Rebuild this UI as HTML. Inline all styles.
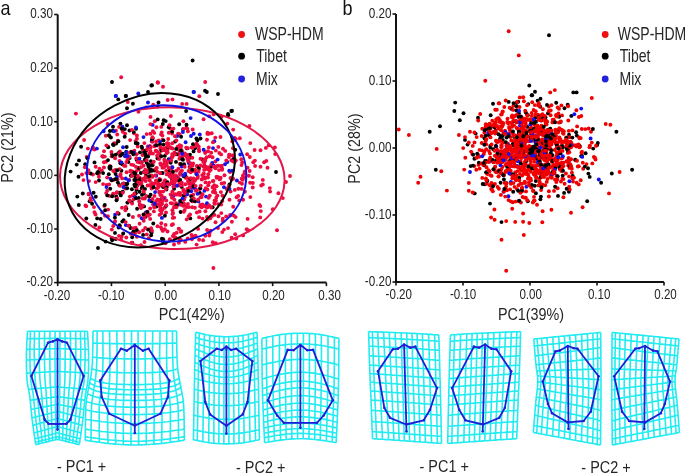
<!DOCTYPE html>
<html><head><meta charset="utf-8"><style>
html,body{margin:0;padding:0;background:#fff;width:685px;height:475px;overflow:hidden}
svg{display:block;will-change:transform}
</style></head><body>
<svg width="685" height="475" viewBox="0 0 685 475" font-family='"Liberation Sans", sans-serif'><rect width="685" height="475" fill="#fff"/><circle cx="178.4" cy="180.3" r="1.95" fill="#000"/><circle cx="142.0" cy="194.7" r="1.95" fill="#000"/><circle cx="216.3" cy="166.3" r="1.95" fill="#ee0c3e"/><circle cx="186.3" cy="127.8" r="1.95" fill="#ee0c3e"/><circle cx="250.1" cy="182.7" r="1.95" fill="#ee0c3e"/><circle cx="203.6" cy="176.9" r="1.95" fill="#ee0c3e"/><circle cx="231.4" cy="160.3" r="1.95" fill="#ee0c3e"/><circle cx="268.7" cy="145.4" r="1.95" fill="#ee0c3e"/><circle cx="109.6" cy="136.2" r="1.95" fill="#ee0c3e"/><circle cx="161.7" cy="229.0" r="1.95" fill="#ee0c3e"/><circle cx="108.1" cy="209.6" r="1.95" fill="#ee0c3e"/><circle cx="122.8" cy="131.8" r="1.95" fill="#ee0c3e"/><circle cx="178.5" cy="168.8" r="1.95" fill="#ee0c3e"/><circle cx="154.8" cy="121.2" r="1.95" fill="#ee0c3e"/><circle cx="154.5" cy="170.5" r="1.95" fill="#000"/><circle cx="202.2" cy="175.1" r="1.95" fill="#ee0c3e"/><circle cx="112.8" cy="130.8" r="1.95" fill="#000"/><circle cx="120.0" cy="226.3" r="1.95" fill="#ee0c3e"/><circle cx="222.8" cy="221.1" r="1.95" fill="#ee0c3e"/><circle cx="186.8" cy="207.0" r="1.95" fill="#ee0c3e"/><circle cx="152.3" cy="176.9" r="1.95" fill="#ee0c3e"/><circle cx="142.6" cy="206.7" r="1.95" fill="#ee0c3e"/><circle cx="141.6" cy="146.8" r="1.95" fill="#000"/><circle cx="117.8" cy="140.7" r="1.95" fill="#ee0c3e"/><circle cx="151.6" cy="188.6" r="1.95" fill="#ee0c3e"/><circle cx="222.1" cy="169.7" r="1.95" fill="#ee0c3e"/><circle cx="172.4" cy="173.8" r="1.95" fill="#ee0c3e"/><circle cx="148.0" cy="102.5" r="1.95" fill="#1414e6"/><circle cx="160.3" cy="195.0" r="1.95" fill="#ee0c3e"/><circle cx="127.0" cy="125.3" r="1.95" fill="#000"/><circle cx="220.9" cy="192.1" r="1.95" fill="#ee0c3e"/><circle cx="202.5" cy="159.5" r="1.95" fill="#000"/><circle cx="229.5" cy="184.5" r="1.95" fill="#000"/><circle cx="214.3" cy="141.2" r="1.95" fill="#1414e6"/><circle cx="233.2" cy="129.6" r="1.95" fill="#ee0c3e"/><circle cx="117.5" cy="179.5" r="1.95" fill="#ee0c3e"/><circle cx="172.1" cy="133.5" r="1.95" fill="#ee0c3e"/><circle cx="195.2" cy="188.9" r="1.95" fill="#1414e6"/><circle cx="200.3" cy="206.2" r="1.95" fill="#ee0c3e"/><circle cx="186.8" cy="177.8" r="1.95" fill="#ee0c3e"/><circle cx="126.2" cy="151.8" r="1.95" fill="#000"/><circle cx="233.1" cy="155.7" r="1.95" fill="#ee0c3e"/><circle cx="160.8" cy="227.1" r="1.95" fill="#ee0c3e"/><circle cx="146.2" cy="196.0" r="1.95" fill="#ee0c3e"/><circle cx="161.6" cy="210.3" r="1.95" fill="#ee0c3e"/><circle cx="97.2" cy="218.4" r="1.95" fill="#000"/><circle cx="148.5" cy="165.8" r="1.95" fill="#ee0c3e"/><circle cx="216.6" cy="176.6" r="1.95" fill="#ee0c3e"/><circle cx="132.2" cy="237.3" r="1.95" fill="#000"/><circle cx="166.7" cy="183.2" r="1.95" fill="#000"/><circle cx="82.8" cy="193.5" r="1.95" fill="#000"/><circle cx="184.1" cy="164.2" r="1.95" fill="#000"/><circle cx="107.1" cy="177.6" r="1.95" fill="#ee0c3e"/><circle cx="155.4" cy="204.9" r="1.95" fill="#000"/><circle cx="119.2" cy="184.9" r="1.95" fill="#000"/><circle cx="154.0" cy="183.7" r="1.95" fill="#ee0c3e"/><circle cx="135.1" cy="233.3" r="1.95" fill="#ee0c3e"/><circle cx="105.6" cy="241.6" r="1.95" fill="#000"/><circle cx="140.8" cy="173.0" r="1.95" fill="#000"/><circle cx="247.1" cy="154.3" r="1.95" fill="#ee0c3e"/><circle cx="205.2" cy="160.8" r="1.95" fill="#ee0c3e"/><circle cx="130.4" cy="171.4" r="1.95" fill="#ee0c3e"/><circle cx="210.6" cy="230.8" r="1.95" fill="#ee0c3e"/><circle cx="135.7" cy="227.8" r="1.95" fill="#ee0c3e"/><circle cx="129.5" cy="130.5" r="1.95" fill="#000"/><circle cx="137.0" cy="176.1" r="1.95" fill="#000"/><circle cx="152.0" cy="164.6" r="1.95" fill="#000"/><circle cx="185.5" cy="175.9" r="1.95" fill="#000"/><circle cx="193.3" cy="183.8" r="1.95" fill="#ee0c3e"/><circle cx="168.8" cy="132.8" r="1.95" fill="#ee0c3e"/><circle cx="184.1" cy="191.5" r="1.95" fill="#ee0c3e"/><circle cx="213.4" cy="268.0" r="1.95" fill="#ee0c3e"/><circle cx="116.0" cy="130.6" r="1.95" fill="#ee0c3e"/><circle cx="131.8" cy="202.1" r="1.95" fill="#000"/><circle cx="106.7" cy="184.9" r="1.95" fill="#ee0c3e"/><circle cx="234.6" cy="162.0" r="1.95" fill="#ee0c3e"/><circle cx="139.2" cy="162.4" r="1.95" fill="#ee0c3e"/><circle cx="207.6" cy="132.7" r="1.95" fill="#ee0c3e"/><circle cx="150.9" cy="161.2" r="1.95" fill="#000"/><circle cx="175.2" cy="141.5" r="1.95" fill="#000"/><circle cx="127.8" cy="102.0" r="1.95" fill="#ee0c3e"/><circle cx="157.2" cy="145.5" r="1.95" fill="#ee0c3e"/><circle cx="188.7" cy="161.8" r="1.95" fill="#1414e6"/><circle cx="159.7" cy="200.2" r="1.95" fill="#000"/><circle cx="216.5" cy="186.2" r="1.95" fill="#ee0c3e"/><circle cx="165.7" cy="183.6" r="1.95" fill="#ee0c3e"/><circle cx="170.2" cy="128.5" r="1.95" fill="#ee0c3e"/><circle cx="115.3" cy="170.0" r="1.95" fill="#ee0c3e"/><circle cx="110.2" cy="188.8" r="1.95" fill="#000"/><circle cx="183.4" cy="121.2" r="1.95" fill="#ee0c3e"/><circle cx="151.6" cy="201.3" r="1.95" fill="#000"/><circle cx="156.5" cy="206.6" r="1.95" fill="#000"/><circle cx="183.0" cy="129.4" r="1.95" fill="#1414e6"/><circle cx="264.1" cy="162.2" r="1.95" fill="#ee0c3e"/><circle cx="247.6" cy="167.7" r="1.95" fill="#ee0c3e"/><circle cx="196.0" cy="172.6" r="1.95" fill="#ee0c3e"/><circle cx="244.5" cy="173.2" r="1.95" fill="#ee0c3e"/><circle cx="125.2" cy="183.9" r="1.95" fill="#000"/><circle cx="136.1" cy="128.7" r="1.95" fill="#000"/><circle cx="137.3" cy="178.4" r="1.95" fill="#ee0c3e"/><circle cx="172.1" cy="131.6" r="1.95" fill="#000"/><circle cx="173.0" cy="183.4" r="1.95" fill="#1414e6"/><circle cx="207.0" cy="139.7" r="1.95" fill="#ee0c3e"/><circle cx="158.0" cy="82.8" r="1.95" fill="#ee0c3e"/><circle cx="172.0" cy="196.8" r="1.95" fill="#ee0c3e"/><circle cx="118.6" cy="227.6" r="1.95" fill="#000"/><circle cx="208.0" cy="177.5" r="1.95" fill="#ee0c3e"/><circle cx="122.3" cy="221.6" r="1.95" fill="#000"/><circle cx="212.7" cy="187.6" r="1.95" fill="#ee0c3e"/><circle cx="94.5" cy="149.6" r="1.95" fill="#ee0c3e"/><circle cx="125.8" cy="225.1" r="1.95" fill="#1414e6"/><circle cx="133.5" cy="231.4" r="1.95" fill="#000"/><circle cx="129.1" cy="225.6" r="1.95" fill="#000"/><circle cx="131.5" cy="175.0" r="1.95" fill="#ee0c3e"/><circle cx="178.5" cy="178.1" r="1.95" fill="#ee0c3e"/><circle cx="220.6" cy="166.1" r="1.95" fill="#ee0c3e"/><circle cx="164.7" cy="207.8" r="1.95" fill="#ee0c3e"/><circle cx="143.0" cy="150.3" r="1.95" fill="#ee0c3e"/><circle cx="103.9" cy="162.3" r="1.95" fill="#ee0c3e"/><circle cx="212.2" cy="164.9" r="1.95" fill="#ee0c3e"/><circle cx="135.5" cy="141.1" r="1.95" fill="#ee0c3e"/><circle cx="107.9" cy="216.3" r="1.95" fill="#ee0c3e"/><circle cx="193.5" cy="92.0" r="1.95" fill="#1414e6"/><circle cx="160.5" cy="179.8" r="1.95" fill="#ee0c3e"/><circle cx="99.0" cy="173.0" r="1.95" fill="#000"/><circle cx="110.4" cy="168.9" r="1.95" fill="#000"/><circle cx="115.7" cy="96.0" r="1.95" fill="#1414e6"/><circle cx="159.5" cy="153.6" r="1.95" fill="#ee0c3e"/><circle cx="164.6" cy="197.6" r="1.95" fill="#ee0c3e"/><circle cx="105.8" cy="135.8" r="1.95" fill="#ee0c3e"/><circle cx="224.2" cy="182.9" r="1.95" fill="#ee0c3e"/><circle cx="145.0" cy="160.3" r="1.95" fill="#ee0c3e"/><circle cx="141.6" cy="162.3" r="1.95" fill="#000"/><circle cx="215.9" cy="200.8" r="1.95" fill="#ee0c3e"/><circle cx="137.7" cy="146.5" r="1.95" fill="#ee0c3e"/><circle cx="125.8" cy="184.6" r="1.95" fill="#ee0c3e"/><circle cx="197.9" cy="175.9" r="1.95" fill="#ee0c3e"/><circle cx="136.6" cy="181.5" r="1.95" fill="#ee0c3e"/><circle cx="156.8" cy="167.9" r="1.95" fill="#ee0c3e"/><circle cx="132.9" cy="103.8" r="1.95" fill="#000"/><circle cx="218.3" cy="204.1" r="1.95" fill="#ee0c3e"/><circle cx="229.5" cy="199.8" r="1.95" fill="#ee0c3e"/><circle cx="180.3" cy="173.2" r="1.95" fill="#000"/><circle cx="228.9" cy="157.0" r="1.95" fill="#ee0c3e"/><circle cx="161.5" cy="149.7" r="1.95" fill="#000"/><circle cx="126.3" cy="208.5" r="1.95" fill="#000"/><circle cx="122.4" cy="126.8" r="1.95" fill="#1414e6"/><circle cx="153.6" cy="204.7" r="1.95" fill="#000"/><circle cx="154.7" cy="203.9" r="1.95" fill="#ee0c3e"/><circle cx="236.6" cy="197.3" r="1.95" fill="#ee0c3e"/><circle cx="205.2" cy="153.0" r="1.95" fill="#ee0c3e"/><circle cx="143.7" cy="220.8" r="1.95" fill="#ee0c3e"/><circle cx="164.8" cy="229.3" r="1.95" fill="#ee0c3e"/><circle cx="98.5" cy="173.7" r="1.95" fill="#ee0c3e"/><circle cx="178.1" cy="154.6" r="1.95" fill="#ee0c3e"/><circle cx="171.7" cy="225.0" r="1.95" fill="#ee0c3e"/><circle cx="149.9" cy="180.7" r="1.95" fill="#ee0c3e"/><circle cx="193.7" cy="178.4" r="1.95" fill="#ee0c3e"/><circle cx="136.6" cy="159.7" r="1.95" fill="#000"/><circle cx="195.0" cy="148.3" r="1.95" fill="#000"/><circle cx="182.0" cy="150.9" r="1.95" fill="#ee0c3e"/><circle cx="167.6" cy="149.8" r="1.95" fill="#ee0c3e"/><circle cx="145.3" cy="169.7" r="1.95" fill="#ee0c3e"/><circle cx="141.3" cy="162.1" r="1.95" fill="#ee0c3e"/><circle cx="150.0" cy="146.0" r="1.95" fill="#ee0c3e"/><circle cx="141.8" cy="188.4" r="1.95" fill="#000"/><circle cx="130.5" cy="228.0" r="1.95" fill="#000"/><circle cx="158.1" cy="185.2" r="1.95" fill="#ee0c3e"/><circle cx="92.8" cy="148.8" r="1.95" fill="#ee0c3e"/><circle cx="160.5" cy="205.4" r="1.95" fill="#ee0c3e"/><circle cx="172.1" cy="179.3" r="1.95" fill="#ee0c3e"/><circle cx="152.0" cy="85.2" r="1.95" fill="#000"/><circle cx="110.9" cy="137.5" r="1.95" fill="#000"/><circle cx="159.3" cy="192.4" r="1.95" fill="#ee0c3e"/><circle cx="161.9" cy="217.9" r="1.95" fill="#1414e6"/><circle cx="99.4" cy="168.8" r="1.95" fill="#ee0c3e"/><circle cx="153.3" cy="104.6" r="1.95" fill="#ee0c3e"/><circle cx="181.3" cy="203.8" r="1.95" fill="#000"/><circle cx="182.4" cy="153.1" r="1.95" fill="#000"/><circle cx="209.8" cy="195.6" r="1.95" fill="#ee0c3e"/><circle cx="219.8" cy="179.4" r="1.95" fill="#ee0c3e"/><circle cx="198.4" cy="201.4" r="1.95" fill="#1414e6"/><circle cx="189.9" cy="157.8" r="1.95" fill="#000"/><circle cx="163.5" cy="144.6" r="1.95" fill="#000"/><circle cx="187.3" cy="128.7" r="1.95" fill="#ee0c3e"/><circle cx="157.0" cy="181.8" r="1.95" fill="#000"/><circle cx="214.3" cy="202.9" r="1.95" fill="#ee0c3e"/><circle cx="171.2" cy="177.5" r="1.95" fill="#000"/><circle cx="166.2" cy="205.7" r="1.95" fill="#000"/><circle cx="143.3" cy="188.9" r="1.95" fill="#ee0c3e"/><circle cx="123.6" cy="220.1" r="1.95" fill="#000"/><circle cx="191.0" cy="195.8" r="1.95" fill="#ee0c3e"/><circle cx="198.9" cy="149.5" r="1.95" fill="#ee0c3e"/><circle cx="167.4" cy="143.8" r="1.95" fill="#000"/><circle cx="192.6" cy="60.5" r="1.95" fill="#000"/><circle cx="179.3" cy="238.9" r="1.95" fill="#ee0c3e"/><circle cx="169.9" cy="171.4" r="1.95" fill="#ee0c3e"/><circle cx="183.2" cy="129.0" r="1.95" fill="#ee0c3e"/><circle cx="176.4" cy="170.7" r="1.95" fill="#ee0c3e"/><circle cx="156.3" cy="182.7" r="1.95" fill="#ee0c3e"/><circle cx="171.0" cy="174.4" r="1.95" fill="#000"/><circle cx="164.2" cy="167.2" r="1.95" fill="#ee0c3e"/><circle cx="151.1" cy="228.3" r="1.95" fill="#ee0c3e"/><circle cx="246.7" cy="229.2" r="1.95" fill="#ee0c3e"/><circle cx="174.1" cy="234.0" r="1.95" fill="#ee0c3e"/><circle cx="113.6" cy="179.9" r="1.95" fill="#ee0c3e"/><circle cx="183.9" cy="203.4" r="1.95" fill="#ee0c3e"/><circle cx="96.9" cy="148.6" r="1.95" fill="#1414e6"/><circle cx="230.5" cy="178.0" r="1.95" fill="#ee0c3e"/><circle cx="132.4" cy="195.6" r="1.95" fill="#ee0c3e"/><circle cx="192.2" cy="201.4" r="1.95" fill="#ee0c3e"/><circle cx="232.3" cy="141.4" r="1.95" fill="#ee0c3e"/><circle cx="146.6" cy="150.8" r="1.95" fill="#ee0c3e"/><circle cx="148.0" cy="215.7" r="1.95" fill="#ee0c3e"/><circle cx="206.0" cy="196.6" r="1.95" fill="#1414e6"/><circle cx="162.4" cy="135.6" r="1.95" fill="#ee0c3e"/><circle cx="125.6" cy="155.8" r="1.95" fill="#000"/><circle cx="192.4" cy="185.5" r="1.95" fill="#ee0c3e"/><circle cx="162.1" cy="210.1" r="1.95" fill="#ee0c3e"/><circle cx="197.7" cy="166.4" r="1.95" fill="#000"/><circle cx="252.7" cy="177.3" r="1.95" fill="#ee0c3e"/><circle cx="171.6" cy="156.9" r="1.95" fill="#ee0c3e"/><circle cx="150.8" cy="185.9" r="1.95" fill="#ee0c3e"/><circle cx="266.3" cy="160.9" r="1.95" fill="#ee0c3e"/><circle cx="145.5" cy="150.8" r="1.95" fill="#000"/><circle cx="184.9" cy="196.9" r="1.95" fill="#ee0c3e"/><circle cx="95.8" cy="196.7" r="1.95" fill="#000"/><circle cx="219.0" cy="170.1" r="1.95" fill="#ee0c3e"/><circle cx="144.1" cy="206.4" r="1.95" fill="#000"/><circle cx="155.2" cy="145.2" r="1.95" fill="#ee0c3e"/><circle cx="209.6" cy="232.9" r="1.95" fill="#ee0c3e"/><circle cx="148.9" cy="172.1" r="1.95" fill="#000"/><circle cx="162.8" cy="230.9" r="1.95" fill="#ee0c3e"/><circle cx="144.1" cy="152.8" r="1.95" fill="#000"/><circle cx="218.2" cy="165.7" r="1.95" fill="#ee0c3e"/><circle cx="170.7" cy="162.8" r="1.95" fill="#000"/><circle cx="94.0" cy="207.1" r="1.95" fill="#ee0c3e"/><circle cx="140.0" cy="152.4" r="1.95" fill="#000"/><circle cx="128.7" cy="215.0" r="1.95" fill="#000"/><circle cx="173.4" cy="128.6" r="1.95" fill="#ee0c3e"/><circle cx="211.9" cy="216.0" r="1.95" fill="#ee0c3e"/><circle cx="137.1" cy="208.8" r="1.95" fill="#000"/><circle cx="165.5" cy="243.2" r="1.95" fill="#ee0c3e"/><circle cx="174.1" cy="188.8" r="1.95" fill="#000"/><circle cx="160.6" cy="173.1" r="1.95" fill="#000"/><circle cx="113.7" cy="145.1" r="1.95" fill="#000"/><circle cx="70.6" cy="171.6" r="1.95" fill="#000"/><circle cx="118.7" cy="213.7" r="1.95" fill="#000"/><circle cx="185.6" cy="177.8" r="1.95" fill="#ee0c3e"/><circle cx="158.3" cy="204.4" r="1.95" fill="#ee0c3e"/><circle cx="138.6" cy="169.5" r="1.95" fill="#ee0c3e"/><circle cx="156.0" cy="180.5" r="1.95" fill="#ee0c3e"/><circle cx="129.3" cy="179.9" r="1.95" fill="#ee0c3e"/><circle cx="106.5" cy="187.1" r="1.95" fill="#1414e6"/><circle cx="193.6" cy="151.4" r="1.95" fill="#000"/><circle cx="134.2" cy="173.7" r="1.95" fill="#ee0c3e"/><circle cx="210.7" cy="166.8" r="1.95" fill="#ee0c3e"/><circle cx="166.2" cy="170.8" r="1.95" fill="#ee0c3e"/><circle cx="188.5" cy="155.4" r="1.95" fill="#000"/><circle cx="121.0" cy="239.4" r="1.95" fill="#ee0c3e"/><circle cx="213.4" cy="180.9" r="1.95" fill="#ee0c3e"/><circle cx="182.3" cy="203.4" r="1.95" fill="#1414e6"/><circle cx="193.3" cy="194.7" r="1.95" fill="#ee0c3e"/><circle cx="270.1" cy="191.6" r="1.95" fill="#ee0c3e"/><circle cx="187.1" cy="148.4" r="1.95" fill="#000"/><circle cx="98.9" cy="176.7" r="1.95" fill="#ee0c3e"/><circle cx="277.0" cy="230.3" r="1.95" fill="#ee0c3e"/><circle cx="261.2" cy="185.5" r="1.95" fill="#ee0c3e"/><circle cx="228.0" cy="114.0" r="1.95" fill="#000"/><circle cx="228.2" cy="115.2" r="1.95" fill="#000"/><circle cx="119.9" cy="151.4" r="1.95" fill="#ee0c3e"/><circle cx="231.9" cy="221.8" r="1.95" fill="#ee0c3e"/><circle cx="144.8" cy="198.5" r="1.95" fill="#ee0c3e"/><circle cx="230.2" cy="215.0" r="1.95" fill="#ee0c3e"/><circle cx="136.3" cy="158.2" r="1.95" fill="#ee0c3e"/><circle cx="160.8" cy="164.8" r="1.95" fill="#ee0c3e"/><circle cx="178.9" cy="242.7" r="1.95" fill="#ee0c3e"/><circle cx="130.5" cy="170.7" r="1.95" fill="#ee0c3e"/><circle cx="198.1" cy="228.9" r="1.95" fill="#ee0c3e"/><circle cx="181.7" cy="186.9" r="1.95" fill="#000"/><circle cx="241.5" cy="165.1" r="1.95" fill="#ee0c3e"/><circle cx="205.2" cy="151.9" r="1.95" fill="#ee0c3e"/><circle cx="151.6" cy="232.4" r="1.95" fill="#000"/><circle cx="89.6" cy="201.3" r="1.95" fill="#000"/><circle cx="222.8" cy="218.7" r="1.95" fill="#ee0c3e"/><circle cx="203.8" cy="173.5" r="1.95" fill="#ee0c3e"/><circle cx="178.8" cy="228.6" r="1.95" fill="#ee0c3e"/><circle cx="183.7" cy="176.2" r="1.95" fill="#000"/><circle cx="174.4" cy="154.5" r="1.95" fill="#ee0c3e"/><circle cx="121.6" cy="236.4" r="1.95" fill="#ee0c3e"/><circle cx="233.1" cy="178.7" r="1.95" fill="#ee0c3e"/><circle cx="160.4" cy="148.6" r="1.95" fill="#ee0c3e"/><circle cx="158.7" cy="140.4" r="1.95" fill="#ee0c3e"/><circle cx="164.6" cy="160.1" r="1.95" fill="#ee0c3e"/><circle cx="168.7" cy="127.3" r="1.95" fill="#000"/><circle cx="235.2" cy="234.2" r="1.95" fill="#ee0c3e"/><circle cx="215.4" cy="161.5" r="1.95" fill="#ee0c3e"/><circle cx="134.4" cy="150.7" r="1.95" fill="#ee0c3e"/><circle cx="249.7" cy="171.0" r="1.95" fill="#ee0c3e"/><circle cx="166.3" cy="205.2" r="1.95" fill="#ee0c3e"/><circle cx="114.6" cy="222.3" r="1.95" fill="#ee0c3e"/><circle cx="160.7" cy="156.6" r="1.95" fill="#ee0c3e"/><circle cx="143.6" cy="165.7" r="1.95" fill="#ee0c3e"/><circle cx="187.9" cy="203.9" r="1.95" fill="#ee0c3e"/><circle cx="174.4" cy="199.7" r="1.95" fill="#ee0c3e"/><circle cx="109.4" cy="195.9" r="1.95" fill="#ee0c3e"/><circle cx="94.5" cy="162.4" r="1.95" fill="#000"/><circle cx="209.6" cy="171.1" r="1.95" fill="#ee0c3e"/><circle cx="252.8" cy="183.0" r="1.95" fill="#ee0c3e"/><circle cx="172.5" cy="214.1" r="1.95" fill="#ee0c3e"/><circle cx="189.6" cy="166.9" r="1.95" fill="#000"/><circle cx="213.7" cy="114.4" r="1.95" fill="#ee0c3e"/><circle cx="168.7" cy="159.1" r="1.95" fill="#000"/><circle cx="101.8" cy="170.6" r="1.95" fill="#ee0c3e"/><circle cx="252.7" cy="187.5" r="1.95" fill="#ee0c3e"/><circle cx="85.5" cy="205.5" r="1.95" fill="#ee0c3e"/><circle cx="201.7" cy="197.0" r="1.95" fill="#ee0c3e"/><circle cx="149.6" cy="153.2" r="1.95" fill="#ee0c3e"/><circle cx="183.0" cy="202.9" r="1.95" fill="#ee0c3e"/><circle cx="93.0" cy="147.4" r="1.95" fill="#ee0c3e"/><circle cx="140.1" cy="205.2" r="1.95" fill="#000"/><circle cx="143.7" cy="193.6" r="1.95" fill="#000"/><circle cx="205.3" cy="235.8" r="1.95" fill="#ee0c3e"/><circle cx="158.5" cy="102.5" r="1.95" fill="#000"/><circle cx="176.6" cy="177.0" r="1.95" fill="#1414e6"/><circle cx="151.8" cy="141.3" r="1.95" fill="#1414e6"/><circle cx="161.7" cy="195.6" r="1.95" fill="#ee0c3e"/><circle cx="267.5" cy="167.7" r="1.95" fill="#ee0c3e"/><circle cx="208.0" cy="151.3" r="1.95" fill="#ee0c3e"/><circle cx="199.1" cy="239.7" r="1.95" fill="#ee0c3e"/><circle cx="180.0" cy="174.7" r="1.95" fill="#ee0c3e"/><circle cx="147.8" cy="146.5" r="1.95" fill="#ee0c3e"/><circle cx="212.6" cy="207.3" r="1.95" fill="#000"/><circle cx="230.1" cy="172.0" r="1.95" fill="#ee0c3e"/><circle cx="86.4" cy="173.1" r="1.95" fill="#ee0c3e"/><circle cx="89.0" cy="181.1" r="1.95" fill="#ee0c3e"/><circle cx="161.9" cy="238.7" r="1.95" fill="#000"/><circle cx="144.0" cy="171.9" r="1.95" fill="#000"/><circle cx="170.7" cy="194.5" r="1.95" fill="#ee0c3e"/><circle cx="170.8" cy="170.7" r="1.95" fill="#000"/><circle cx="200.5" cy="206.4" r="1.95" fill="#ee0c3e"/><circle cx="186.5" cy="124.8" r="1.95" fill="#000"/><circle cx="171.9" cy="167.2" r="1.95" fill="#ee0c3e"/><circle cx="216.3" cy="197.8" r="1.95" fill="#ee0c3e"/><circle cx="116.2" cy="196.4" r="1.95" fill="#000"/><circle cx="117.2" cy="134.5" r="1.95" fill="#ee0c3e"/><circle cx="222.5" cy="195.8" r="1.95" fill="#ee0c3e"/><circle cx="163.1" cy="198.8" r="1.95" fill="#1414e6"/><circle cx="199.1" cy="169.1" r="1.95" fill="#ee0c3e"/><circle cx="199.1" cy="151.2" r="1.95" fill="#ee0c3e"/><circle cx="145.7" cy="174.7" r="1.95" fill="#ee0c3e"/><circle cx="191.9" cy="239.2" r="1.95" fill="#ee0c3e"/><circle cx="160.8" cy="202.8" r="1.95" fill="#ee0c3e"/><circle cx="222.3" cy="232.1" r="1.95" fill="#ee0c3e"/><circle cx="109.9" cy="165.9" r="1.95" fill="#ee0c3e"/><circle cx="148.0" cy="229.5" r="1.95" fill="#000"/><circle cx="174.0" cy="244.5" r="1.95" fill="#ee0c3e"/><circle cx="176.6" cy="194.6" r="1.95" fill="#ee0c3e"/><circle cx="149.1" cy="146.6" r="1.95" fill="#1414e6"/><circle cx="190.0" cy="154.6" r="1.95" fill="#000"/><circle cx="145.2" cy="228.0" r="1.95" fill="#ee0c3e"/><circle cx="157.5" cy="199.4" r="1.95" fill="#ee0c3e"/><circle cx="113.3" cy="171.0" r="1.95" fill="#ee0c3e"/><circle cx="152.5" cy="165.2" r="1.95" fill="#000"/><circle cx="175.2" cy="205.6" r="1.95" fill="#ee0c3e"/><circle cx="200.5" cy="197.2" r="1.95" fill="#ee0c3e"/><circle cx="150.5" cy="150.9" r="1.95" fill="#ee0c3e"/><circle cx="160.9" cy="185.6" r="1.95" fill="#ee0c3e"/><circle cx="143.0" cy="230.5" r="1.95" fill="#ee0c3e"/><circle cx="135.9" cy="127.4" r="1.95" fill="#1414e6"/><circle cx="139.3" cy="177.4" r="1.95" fill="#ee0c3e"/><circle cx="175.9" cy="175.4" r="1.95" fill="#ee0c3e"/><circle cx="191.1" cy="187.2" r="1.95" fill="#ee0c3e"/><circle cx="195.0" cy="201.4" r="1.95" fill="#000"/><circle cx="214.8" cy="203.8" r="1.95" fill="#ee0c3e"/><circle cx="106.2" cy="193.1" r="1.95" fill="#ee0c3e"/><circle cx="242.8" cy="179.7" r="1.95" fill="#ee0c3e"/><circle cx="180.5" cy="172.1" r="1.95" fill="#ee0c3e"/><circle cx="206.1" cy="205.2" r="1.95" fill="#1414e6"/><circle cx="172.5" cy="173.9" r="1.95" fill="#ee0c3e"/><circle cx="167.0" cy="186.8" r="1.95" fill="#ee0c3e"/><circle cx="204.3" cy="159.6" r="1.95" fill="#ee0c3e"/><circle cx="166.3" cy="200.5" r="1.95" fill="#ee0c3e"/><circle cx="221.1" cy="154.4" r="1.95" fill="#ee0c3e"/><circle cx="136.9" cy="236.7" r="1.95" fill="#ee0c3e"/><circle cx="210.3" cy="218.3" r="1.95" fill="#ee0c3e"/><circle cx="126.3" cy="237.5" r="1.95" fill="#ee0c3e"/><circle cx="160.2" cy="207.1" r="1.95" fill="#ee0c3e"/><circle cx="150.9" cy="231.6" r="1.95" fill="#000"/><circle cx="128.5" cy="180.5" r="1.95" fill="#1414e6"/><circle cx="191.8" cy="188.1" r="1.95" fill="#ee0c3e"/><circle cx="88.3" cy="170.3" r="1.95" fill="#ee0c3e"/><circle cx="126.5" cy="152.2" r="1.95" fill="#1414e6"/><circle cx="215.5" cy="168.3" r="1.95" fill="#ee0c3e"/><circle cx="161.3" cy="150.6" r="1.95" fill="#000"/><circle cx="148.0" cy="92.0" r="1.95" fill="#000"/><circle cx="145.2" cy="216.9" r="1.95" fill="#000"/><circle cx="168.2" cy="139.0" r="1.95" fill="#ee0c3e"/><circle cx="151.6" cy="175.5" r="1.95" fill="#ee0c3e"/><circle cx="177.6" cy="146.7" r="1.95" fill="#ee0c3e"/><circle cx="114.9" cy="172.1" r="1.95" fill="#ee0c3e"/><circle cx="184.9" cy="153.5" r="1.95" fill="#ee0c3e"/><circle cx="131.0" cy="151.7" r="1.95" fill="#ee0c3e"/><circle cx="182.2" cy="158.5" r="1.95" fill="#ee0c3e"/><circle cx="138.3" cy="167.9" r="1.95" fill="#000"/><circle cx="191.2" cy="191.2" r="1.95" fill="#1414e6"/><circle cx="127.8" cy="202.6" r="1.95" fill="#ee0c3e"/><circle cx="130.9" cy="175.8" r="1.95" fill="#000"/><circle cx="190.3" cy="218.4" r="1.95" fill="#000"/><circle cx="131.9" cy="176.0" r="1.95" fill="#ee0c3e"/><circle cx="201.7" cy="207.3" r="1.95" fill="#ee0c3e"/><circle cx="198.6" cy="171.8" r="1.95" fill="#ee0c3e"/><circle cx="146.1" cy="173.0" r="1.95" fill="#000"/><circle cx="183.6" cy="195.4" r="1.95" fill="#000"/><circle cx="119.5" cy="225.2" r="1.95" fill="#000"/><circle cx="77.3" cy="196.6" r="1.95" fill="#000"/><circle cx="136.5" cy="189.8" r="1.95" fill="#000"/><circle cx="146.7" cy="134.1" r="1.95" fill="#ee0c3e"/><circle cx="136.9" cy="230.3" r="1.95" fill="#000"/><circle cx="146.4" cy="214.9" r="1.95" fill="#ee0c3e"/><circle cx="183.3" cy="155.6" r="1.95" fill="#ee0c3e"/><circle cx="235.8" cy="139.0" r="1.95" fill="#ee0c3e"/><circle cx="215.5" cy="222.2" r="1.95" fill="#ee0c3e"/><circle cx="194.2" cy="146.4" r="1.95" fill="#ee0c3e"/><circle cx="151.1" cy="164.3" r="1.95" fill="#ee0c3e"/><circle cx="125.1" cy="133.6" r="1.95" fill="#ee0c3e"/><circle cx="194.9" cy="207.7" r="1.95" fill="#ee0c3e"/><circle cx="164.3" cy="181.4" r="1.95" fill="#ee0c3e"/><circle cx="249.8" cy="157.0" r="1.95" fill="#ee0c3e"/><circle cx="108.8" cy="174.3" r="1.95" fill="#000"/><circle cx="189.7" cy="178.7" r="1.95" fill="#ee0c3e"/><circle cx="161.8" cy="197.9" r="1.95" fill="#ee0c3e"/><circle cx="103.1" cy="184.1" r="1.95" fill="#ee0c3e"/><circle cx="133.7" cy="199.3" r="1.95" fill="#ee0c3e"/><circle cx="205.5" cy="182.4" r="1.95" fill="#ee0c3e"/><circle cx="169.3" cy="159.7" r="1.95" fill="#1414e6"/><circle cx="220.5" cy="137.0" r="1.95" fill="#ee0c3e"/><circle cx="190.2" cy="179.8" r="1.95" fill="#000"/><circle cx="187.7" cy="238.4" r="1.95" fill="#ee0c3e"/><circle cx="136.4" cy="171.1" r="1.95" fill="#ee0c3e"/><circle cx="253.3" cy="162.2" r="1.95" fill="#ee0c3e"/><circle cx="180.9" cy="240.0" r="1.95" fill="#ee0c3e"/><circle cx="211.2" cy="152.8" r="1.95" fill="#ee0c3e"/><circle cx="154.3" cy="146.3" r="1.95" fill="#ee0c3e"/><circle cx="168.9" cy="172.6" r="1.95" fill="#ee0c3e"/><circle cx="193.1" cy="163.4" r="1.95" fill="#ee0c3e"/><circle cx="152.9" cy="153.6" r="1.95" fill="#ee0c3e"/><circle cx="204.4" cy="190.7" r="1.95" fill="#1414e6"/><circle cx="167.6" cy="146.4" r="1.95" fill="#000"/><circle cx="161.2" cy="156.2" r="1.95" fill="#000"/><circle cx="166.0" cy="184.9" r="1.95" fill="#1414e6"/><circle cx="117.9" cy="182.6" r="1.95" fill="#000"/><circle cx="200.0" cy="192.9" r="1.95" fill="#000"/><circle cx="222.3" cy="201.1" r="1.95" fill="#ee0c3e"/><circle cx="186.2" cy="147.6" r="1.95" fill="#ee0c3e"/><circle cx="202.5" cy="218.6" r="1.95" fill="#ee0c3e"/><circle cx="179.6" cy="134.3" r="1.95" fill="#ee0c3e"/><circle cx="207.0" cy="207.6" r="1.95" fill="#ee0c3e"/><circle cx="172.2" cy="154.1" r="1.95" fill="#ee0c3e"/><circle cx="278.4" cy="193.2" r="1.95" fill="#ee0c3e"/><circle cx="233.5" cy="158.9" r="1.95" fill="#000"/><circle cx="178.8" cy="204.3" r="1.95" fill="#1414e6"/><circle cx="205.2" cy="82.0" r="1.95" fill="#ee0c3e"/><circle cx="179.2" cy="124.3" r="1.95" fill="#000"/><circle cx="242.9" cy="175.7" r="1.95" fill="#ee0c3e"/><circle cx="181.1" cy="136.8" r="1.95" fill="#000"/><circle cx="200.5" cy="158.7" r="1.95" fill="#ee0c3e"/><circle cx="172.4" cy="191.5" r="1.95" fill="#ee0c3e"/><circle cx="166.0" cy="212.4" r="1.95" fill="#ee0c3e"/><circle cx="165.5" cy="150.6" r="1.95" fill="#ee0c3e"/><circle cx="121.2" cy="77.2" r="1.95" fill="#ee0c3e"/><circle cx="152.6" cy="164.4" r="1.95" fill="#ee0c3e"/><circle cx="193.0" cy="144.2" r="1.95" fill="#000"/><circle cx="156.0" cy="168.4" r="1.95" fill="#ee0c3e"/><circle cx="139.1" cy="183.0" r="1.95" fill="#000"/><circle cx="146.3" cy="107.4" r="1.95" fill="#ee0c3e"/><circle cx="163.1" cy="187.1" r="1.95" fill="#000"/><circle cx="260.3" cy="206.1" r="1.95" fill="#ee0c3e"/><circle cx="206.8" cy="157.3" r="1.95" fill="#ee0c3e"/><circle cx="238.2" cy="195.9" r="1.95" fill="#ee0c3e"/><circle cx="156.0" cy="150.8" r="1.95" fill="#ee0c3e"/><circle cx="115.2" cy="179.1" r="1.95" fill="#000"/><circle cx="209.7" cy="156.2" r="1.95" fill="#ee0c3e"/><circle cx="239.8" cy="138.2" r="1.95" fill="#ee0c3e"/><circle cx="136.9" cy="135.5" r="1.95" fill="#ee0c3e"/><circle cx="167.6" cy="152.2" r="1.95" fill="#ee0c3e"/><circle cx="193.0" cy="236.4" r="1.95" fill="#ee0c3e"/><circle cx="156.8" cy="188.8" r="1.95" fill="#ee0c3e"/><circle cx="152.4" cy="141.7" r="1.95" fill="#ee0c3e"/><circle cx="192.3" cy="157.7" r="1.95" fill="#ee0c3e"/><circle cx="184.1" cy="199.5" r="1.95" fill="#ee0c3e"/><circle cx="145.0" cy="188.9" r="1.95" fill="#000"/><circle cx="138.5" cy="111.7" r="1.95" fill="#ee0c3e"/><circle cx="163.0" cy="86.8" r="1.95" fill="#ee0c3e"/><circle cx="203.6" cy="119.2" r="1.95" fill="#ee0c3e"/><circle cx="173.4" cy="196.0" r="1.95" fill="#1414e6"/><circle cx="172.1" cy="203.5" r="1.95" fill="#ee0c3e"/><circle cx="247.6" cy="218.9" r="1.95" fill="#ee0c3e"/><circle cx="199.7" cy="189.0" r="1.95" fill="#ee0c3e"/><circle cx="169.5" cy="184.2" r="1.95" fill="#ee0c3e"/><circle cx="111.8" cy="238.2" r="1.95" fill="#ee0c3e"/><circle cx="188.6" cy="171.0" r="1.95" fill="#ee0c3e"/><circle cx="254.6" cy="150.0" r="1.95" fill="#ee0c3e"/><circle cx="145.0" cy="159.5" r="1.95" fill="#000"/><circle cx="169.5" cy="125.2" r="1.95" fill="#ee0c3e"/><circle cx="123.1" cy="183.6" r="1.95" fill="#000"/><circle cx="174.0" cy="207.3" r="1.95" fill="#ee0c3e"/><circle cx="134.8" cy="196.2" r="1.95" fill="#1414e6"/><circle cx="233.0" cy="155.5" r="1.95" fill="#ee0c3e"/><circle cx="227.3" cy="123.6" r="1.95" fill="#ee0c3e"/><circle cx="108.1" cy="146.6" r="1.95" fill="#ee0c3e"/><circle cx="177.8" cy="148.6" r="1.95" fill="#ee0c3e"/><circle cx="157.5" cy="158.4" r="1.95" fill="#000"/><circle cx="248.9" cy="175.7" r="1.95" fill="#ee0c3e"/><circle cx="180.7" cy="148.5" r="1.95" fill="#ee0c3e"/><circle cx="186.4" cy="156.3" r="1.95" fill="#ee0c3e"/><circle cx="119.9" cy="192.6" r="1.95" fill="#000"/><circle cx="119.9" cy="156.1" r="1.95" fill="#ee0c3e"/><circle cx="166.7" cy="147.5" r="1.95" fill="#ee0c3e"/><circle cx="191.4" cy="196.6" r="1.95" fill="#000"/><circle cx="241.7" cy="178.6" r="1.95" fill="#ee0c3e"/><circle cx="200.6" cy="204.6" r="1.95" fill="#ee0c3e"/><circle cx="118.3" cy="153.3" r="1.95" fill="#000"/><circle cx="122.7" cy="153.8" r="1.95" fill="#000"/><circle cx="180.6" cy="212.0" r="1.95" fill="#000"/><circle cx="187.3" cy="158.8" r="1.95" fill="#ee0c3e"/><circle cx="90.9" cy="200.6" r="1.95" fill="#ee0c3e"/><circle cx="105.0" cy="215.8" r="1.95" fill="#ee0c3e"/><circle cx="78.8" cy="205.0" r="1.95" fill="#000"/><circle cx="188.7" cy="157.8" r="1.95" fill="#ee0c3e"/><circle cx="182.9" cy="155.5" r="1.95" fill="#ee0c3e"/><circle cx="167.6" cy="146.9" r="1.95" fill="#000"/><circle cx="230.6" cy="191.6" r="1.95" fill="#ee0c3e"/><circle cx="228.5" cy="187.5" r="1.95" fill="#ee0c3e"/><circle cx="122.5" cy="164.4" r="1.95" fill="#000"/><circle cx="215.3" cy="192.7" r="1.95" fill="#ee0c3e"/><circle cx="153.3" cy="223.5" r="1.95" fill="#000"/><circle cx="147.2" cy="211.8" r="1.95" fill="#ee0c3e"/><circle cx="207.4" cy="189.5" r="1.95" fill="#ee0c3e"/><circle cx="208.4" cy="168.8" r="1.95" fill="#000"/><circle cx="108.2" cy="147.3" r="1.95" fill="#000"/><circle cx="160.6" cy="191.9" r="1.95" fill="#ee0c3e"/><circle cx="190.0" cy="167.4" r="1.95" fill="#ee0c3e"/><circle cx="217.4" cy="195.6" r="1.95" fill="#ee0c3e"/><circle cx="272.8" cy="209.2" r="1.95" fill="#ee0c3e"/><circle cx="230.0" cy="154.9" r="1.95" fill="#ee0c3e"/><circle cx="162.9" cy="241.4" r="1.95" fill="#000"/><circle cx="136.9" cy="185.0" r="1.95" fill="#1414e6"/><circle cx="103.0" cy="156.4" r="1.95" fill="#000"/><circle cx="116.6" cy="192.8" r="1.95" fill="#ee0c3e"/><circle cx="90.7" cy="198.2" r="1.95" fill="#ee0c3e"/><circle cx="208.6" cy="167.4" r="1.95" fill="#ee0c3e"/><circle cx="200.3" cy="188.2" r="1.95" fill="#000"/><circle cx="164.3" cy="163.9" r="1.95" fill="#ee0c3e"/><circle cx="276.0" cy="172.0" r="1.95" fill="#000"/><circle cx="269.8" cy="188.1" r="1.95" fill="#ee0c3e"/><circle cx="163.1" cy="191.6" r="1.95" fill="#ee0c3e"/><circle cx="221.3" cy="213.1" r="1.95" fill="#ee0c3e"/><circle cx="161.3" cy="213.3" r="1.95" fill="#ee0c3e"/><circle cx="152.2" cy="183.2" r="1.95" fill="#ee0c3e"/><circle cx="159.4" cy="184.6" r="1.95" fill="#ee0c3e"/><circle cx="231.3" cy="111.0" r="1.95" fill="#000"/><circle cx="161.7" cy="204.2" r="1.95" fill="#ee0c3e"/><circle cx="174.1" cy="217.6" r="1.95" fill="#ee0c3e"/><circle cx="163.7" cy="185.5" r="1.95" fill="#ee0c3e"/><circle cx="192.5" cy="165.7" r="1.95" fill="#ee0c3e"/><circle cx="213.0" cy="148.1" r="1.95" fill="#1414e6"/><circle cx="160.4" cy="163.5" r="1.95" fill="#ee0c3e"/><circle cx="164.8" cy="155.9" r="1.95" fill="#000"/><circle cx="111.5" cy="180.2" r="1.95" fill="#ee0c3e"/><circle cx="111.8" cy="229.6" r="1.95" fill="#ee0c3e"/><circle cx="118.3" cy="99.4" r="1.95" fill="#000"/><circle cx="142.6" cy="155.1" r="1.95" fill="#ee0c3e"/><circle cx="152.9" cy="138.3" r="1.95" fill="#ee0c3e"/><circle cx="198.1" cy="199.8" r="1.95" fill="#ee0c3e"/><circle cx="174.9" cy="237.9" r="1.95" fill="#ee0c3e"/><circle cx="227.4" cy="162.1" r="1.95" fill="#1414e6"/><circle cx="139.1" cy="215.7" r="1.95" fill="#ee0c3e"/><circle cx="172.0" cy="197.8" r="1.95" fill="#ee0c3e"/><circle cx="142.8" cy="198.5" r="1.95" fill="#ee0c3e"/><circle cx="159.1" cy="159.0" r="1.95" fill="#ee0c3e"/><circle cx="152.0" cy="139.2" r="1.95" fill="#000"/><circle cx="186.9" cy="192.0" r="1.95" fill="#ee0c3e"/><circle cx="178.1" cy="133.7" r="1.95" fill="#ee0c3e"/><circle cx="171.0" cy="148.1" r="1.95" fill="#ee0c3e"/><circle cx="115.0" cy="232.9" r="1.95" fill="#000"/><circle cx="196.5" cy="174.3" r="1.95" fill="#1414e6"/><circle cx="180.9" cy="231.9" r="1.95" fill="#ee0c3e"/><circle cx="193.0" cy="187.2" r="1.95" fill="#1414e6"/><circle cx="275.2" cy="154.1" r="1.95" fill="#ee0c3e"/><circle cx="172.4" cy="210.3" r="1.95" fill="#ee0c3e"/><circle cx="162.5" cy="208.9" r="1.95" fill="#ee0c3e"/><circle cx="113.2" cy="193.6" r="1.95" fill="#ee0c3e"/><circle cx="167.0" cy="143.5" r="1.95" fill="#ee0c3e"/><circle cx="172.8" cy="217.9" r="1.95" fill="#ee0c3e"/><circle cx="126.0" cy="96.0" r="1.95" fill="#000"/><circle cx="162.5" cy="167.8" r="1.95" fill="#ee0c3e"/><circle cx="178.8" cy="194.5" r="1.95" fill="#ee0c3e"/><circle cx="176.0" cy="161.9" r="1.95" fill="#000"/><circle cx="124.7" cy="136.8" r="1.95" fill="#000"/><circle cx="149.8" cy="214.6" r="1.95" fill="#ee0c3e"/><circle cx="190.7" cy="165.4" r="1.95" fill="#ee0c3e"/><circle cx="255.1" cy="166.0" r="1.95" fill="#ee0c3e"/><circle cx="153.8" cy="161.8" r="1.95" fill="#ee0c3e"/><circle cx="190.8" cy="183.2" r="1.95" fill="#ee0c3e"/><circle cx="115.1" cy="214.8" r="1.95" fill="#1414e6"/><circle cx="207.0" cy="217.0" r="1.95" fill="#ee0c3e"/><circle cx="110.6" cy="166.8" r="1.95" fill="#000"/><circle cx="156.2" cy="145.3" r="1.95" fill="#000"/><circle cx="150.4" cy="133.8" r="1.95" fill="#ee0c3e"/><circle cx="169.8" cy="239.2" r="1.95" fill="#ee0c3e"/><circle cx="250.3" cy="197.1" r="1.95" fill="#ee0c3e"/><circle cx="152.4" cy="137.3" r="1.95" fill="#ee0c3e"/><circle cx="113.3" cy="194.1" r="1.95" fill="#ee0c3e"/><circle cx="103.1" cy="156.6" r="1.95" fill="#000"/><circle cx="185.3" cy="191.8" r="1.95" fill="#ee0c3e"/><circle cx="181.7" cy="166.5" r="1.95" fill="#1414e6"/><circle cx="179.4" cy="158.8" r="1.95" fill="#ee0c3e"/><circle cx="134.0" cy="133.3" r="1.95" fill="#ee0c3e"/><circle cx="233.0" cy="148.2" r="1.95" fill="#ee0c3e"/><circle cx="150.5" cy="116.9" r="1.95" fill="#ee0c3e"/><circle cx="162.6" cy="173.0" r="1.95" fill="#000"/><circle cx="205.5" cy="167.1" r="1.95" fill="#ee0c3e"/><circle cx="136.5" cy="188.1" r="1.95" fill="#ee0c3e"/><circle cx="206.8" cy="92.0" r="1.95" fill="#000"/><circle cx="117.5" cy="212.7" r="1.95" fill="#ee0c3e"/><circle cx="194.2" cy="170.2" r="1.95" fill="#ee0c3e"/><circle cx="150.6" cy="194.8" r="1.95" fill="#000"/><circle cx="211.9" cy="166.2" r="1.95" fill="#000"/><circle cx="223.0" cy="148.8" r="1.95" fill="#ee0c3e"/><circle cx="235.8" cy="160.5" r="1.95" fill="#ee0c3e"/><circle cx="147.1" cy="149.2" r="1.95" fill="#ee0c3e"/><circle cx="137.2" cy="185.3" r="1.95" fill="#ee0c3e"/><circle cx="212.9" cy="192.0" r="1.95" fill="#ee0c3e"/><circle cx="92.9" cy="174.5" r="1.95" fill="#ee0c3e"/><circle cx="122.0" cy="207.8" r="1.95" fill="#ee0c3e"/><circle cx="193.8" cy="186.3" r="1.95" fill="#000"/><circle cx="236.3" cy="238.5" r="1.95" fill="#ee0c3e"/><circle cx="233.2" cy="206.7" r="1.95" fill="#ee0c3e"/><circle cx="209.1" cy="182.6" r="1.95" fill="#ee0c3e"/><circle cx="179.8" cy="164.0" r="1.95" fill="#ee0c3e"/><circle cx="145.8" cy="212.5" r="1.95" fill="#1414e6"/><circle cx="207.1" cy="230.0" r="1.95" fill="#ee0c3e"/><circle cx="180.1" cy="193.0" r="1.95" fill="#ee0c3e"/><circle cx="109.9" cy="131.0" r="1.95" fill="#000"/><circle cx="204.3" cy="162.8" r="1.95" fill="#ee0c3e"/><circle cx="137.4" cy="185.5" r="1.95" fill="#ee0c3e"/><circle cx="128.4" cy="162.0" r="1.95" fill="#000"/><circle cx="106.4" cy="145.5" r="1.95" fill="#ee0c3e"/><circle cx="117.0" cy="176.8" r="1.95" fill="#1414e6"/><circle cx="125.4" cy="210.3" r="1.95" fill="#ee0c3e"/><circle cx="111.7" cy="238.0" r="1.95" fill="#000"/><circle cx="166.4" cy="189.5" r="1.95" fill="#000"/><circle cx="158.1" cy="187.4" r="1.95" fill="#ee0c3e"/><circle cx="84.1" cy="140.0" r="1.95" fill="#ee0c3e"/><circle cx="169.8" cy="170.3" r="1.95" fill="#000"/><circle cx="86.3" cy="218.5" r="1.95" fill="#000"/><circle cx="95.5" cy="214.5" r="1.95" fill="#ee0c3e"/><circle cx="146.2" cy="213.5" r="1.95" fill="#ee0c3e"/><circle cx="180.4" cy="185.5" r="1.95" fill="#ee0c3e"/><circle cx="87.9" cy="148.6" r="1.95" fill="#ee0c3e"/><circle cx="144.2" cy="172.3" r="1.95" fill="#ee0c3e"/><circle cx="244.8" cy="171.6" r="1.95" fill="#ee0c3e"/><circle cx="109.0" cy="135.3" r="1.95" fill="#000"/><circle cx="260.5" cy="166.8" r="1.95" fill="#ee0c3e"/><circle cx="109.1" cy="184.4" r="1.95" fill="#ee0c3e"/><circle cx="167.5" cy="231.5" r="1.95" fill="#ee0c3e"/><circle cx="88.8" cy="194.4" r="1.95" fill="#ee0c3e"/><circle cx="168.1" cy="145.2" r="1.95" fill="#ee0c3e"/><circle cx="181.6" cy="185.3" r="1.95" fill="#ee0c3e"/><circle cx="86.7" cy="156.9" r="1.95" fill="#ee0c3e"/><circle cx="182.5" cy="198.5" r="1.95" fill="#1414e6"/><circle cx="196.5" cy="143.6" r="1.95" fill="#ee0c3e"/><circle cx="141.2" cy="162.9" r="1.95" fill="#ee0c3e"/><circle cx="139.6" cy="223.7" r="1.95" fill="#ee0c3e"/><circle cx="81.1" cy="146.7" r="1.95" fill="#000"/><circle cx="136.6" cy="154.3" r="1.95" fill="#ee0c3e"/><circle cx="180.3" cy="195.1" r="1.95" fill="#ee0c3e"/><circle cx="174.4" cy="152.5" r="1.95" fill="#ee0c3e"/><circle cx="160.9" cy="210.3" r="1.95" fill="#ee0c3e"/><circle cx="100.7" cy="219.0" r="1.95" fill="#000"/><circle cx="139.4" cy="158.8" r="1.95" fill="#1414e6"/><circle cx="154.3" cy="207.2" r="1.95" fill="#ee0c3e"/><circle cx="162.8" cy="200.7" r="1.95" fill="#ee0c3e"/><circle cx="120.0" cy="185.7" r="1.95" fill="#ee0c3e"/><circle cx="172.5" cy="148.5" r="1.95" fill="#ee0c3e"/><circle cx="150.9" cy="153.5" r="1.95" fill="#ee0c3e"/><circle cx="127.4" cy="202.6" r="1.95" fill="#000"/><circle cx="241.6" cy="188.9" r="1.95" fill="#ee0c3e"/><circle cx="166.6" cy="165.4" r="1.95" fill="#ee0c3e"/><circle cx="206.3" cy="167.0" r="1.95" fill="#ee0c3e"/><circle cx="165.1" cy="180.3" r="1.95" fill="#ee0c3e"/><circle cx="208.7" cy="197.8" r="1.95" fill="#ee0c3e"/><circle cx="123.0" cy="147.3" r="1.95" fill="#1414e6"/><circle cx="188.7" cy="216.3" r="1.95" fill="#ee0c3e"/><circle cx="214.2" cy="185.3" r="1.95" fill="#ee0c3e"/><circle cx="181.3" cy="203.8" r="1.95" fill="#000"/><circle cx="149.2" cy="196.7" r="1.95" fill="#000"/><circle cx="119.0" cy="153.6" r="1.95" fill="#ee0c3e"/><circle cx="125.4" cy="188.5" r="1.95" fill="#ee0c3e"/><circle cx="133.2" cy="228.2" r="1.95" fill="#ee0c3e"/><circle cx="204.2" cy="169.9" r="1.95" fill="#ee0c3e"/><circle cx="228.0" cy="228.1" r="1.95" fill="#ee0c3e"/><circle cx="99.0" cy="180.5" r="1.95" fill="#000"/><circle cx="226.3" cy="160.4" r="1.95" fill="#ee0c3e"/><circle cx="161.3" cy="126.9" r="1.95" fill="#ee0c3e"/><circle cx="123.8" cy="183.4" r="1.95" fill="#1414e6"/><circle cx="111.9" cy="154.6" r="1.95" fill="#000"/><circle cx="274.9" cy="147.4" r="1.95" fill="#ee0c3e"/><circle cx="160.1" cy="203.4" r="1.95" fill="#ee0c3e"/><circle cx="151.1" cy="176.3" r="1.95" fill="#ee0c3e"/><circle cx="121.4" cy="170.8" r="1.95" fill="#000"/><circle cx="205.5" cy="177.5" r="1.95" fill="#ee0c3e"/><circle cx="141.3" cy="184.1" r="1.95" fill="#ee0c3e"/><circle cx="168.6" cy="144.0" r="1.95" fill="#ee0c3e"/><circle cx="141.0" cy="208.1" r="1.95" fill="#ee0c3e"/><circle cx="148.1" cy="156.5" r="1.95" fill="#000"/><circle cx="211.1" cy="207.5" r="1.95" fill="#ee0c3e"/><circle cx="212.7" cy="187.0" r="1.95" fill="#ee0c3e"/><circle cx="126.0" cy="184.4" r="1.95" fill="#000"/><circle cx="202.6" cy="206.1" r="1.95" fill="#ee0c3e"/><circle cx="181.9" cy="170.7" r="1.95" fill="#ee0c3e"/><circle cx="160.1" cy="173.2" r="1.95" fill="#ee0c3e"/><circle cx="215.3" cy="137.6" r="1.95" fill="#ee0c3e"/><circle cx="138.3" cy="93.4" r="1.95" fill="#1414e6"/><circle cx="139.3" cy="180.7" r="1.95" fill="#ee0c3e"/><circle cx="180.3" cy="179.9" r="1.95" fill="#000"/><circle cx="132.4" cy="171.5" r="1.95" fill="#ee0c3e"/><circle cx="180.9" cy="204.9" r="1.95" fill="#ee0c3e"/><circle cx="111.4" cy="151.9" r="1.95" fill="#ee0c3e"/><circle cx="226.2" cy="216.4" r="1.95" fill="#ee0c3e"/><circle cx="242.0" cy="183.7" r="1.95" fill="#ee0c3e"/><circle cx="131.3" cy="164.6" r="1.95" fill="#ee0c3e"/><circle cx="156.3" cy="175.7" r="1.95" fill="#1414e6"/><circle cx="176.0" cy="203.2" r="1.95" fill="#ee0c3e"/><circle cx="141.8" cy="218.2" r="1.95" fill="#1414e6"/><circle cx="173.0" cy="175.9" r="1.95" fill="#ee0c3e"/><circle cx="185.2" cy="241.9" r="1.95" fill="#ee0c3e"/><circle cx="157.0" cy="155.7" r="1.95" fill="#ee0c3e"/><circle cx="129.8" cy="200.8" r="1.95" fill="#ee0c3e"/><circle cx="157.5" cy="151.9" r="1.95" fill="#ee0c3e"/><circle cx="137.6" cy="161.9" r="1.95" fill="#ee0c3e"/><circle cx="178.7" cy="185.4" r="1.95" fill="#ee0c3e"/><circle cx="173.3" cy="181.9" r="1.95" fill="#ee0c3e"/><circle cx="199.6" cy="211.5" r="1.95" fill="#ee0c3e"/><circle cx="174.2" cy="194.5" r="1.95" fill="#ee0c3e"/><circle cx="125.8" cy="206.9" r="1.95" fill="#ee0c3e"/><circle cx="196.8" cy="166.0" r="1.95" fill="#ee0c3e"/><circle cx="221.2" cy="204.6" r="1.95" fill="#ee0c3e"/><circle cx="211.7" cy="133.2" r="1.95" fill="#ee0c3e"/><circle cx="189.0" cy="183.8" r="1.95" fill="#ee0c3e"/><circle cx="235.6" cy="217.1" r="1.95" fill="#ee0c3e"/><circle cx="176.6" cy="154.3" r="1.95" fill="#000"/><circle cx="191.7" cy="147.4" r="1.95" fill="#ee0c3e"/><circle cx="148.6" cy="170.2" r="1.95" fill="#ee0c3e"/><circle cx="170.7" cy="203.1" r="1.95" fill="#ee0c3e"/><circle cx="175.5" cy="237.4" r="1.95" fill="#ee0c3e"/><circle cx="141.7" cy="181.1" r="1.95" fill="#ee0c3e"/><circle cx="177.2" cy="136.1" r="1.95" fill="#1414e6"/><circle cx="164.6" cy="161.9" r="1.95" fill="#ee0c3e"/><circle cx="164.4" cy="159.8" r="1.95" fill="#ee0c3e"/><circle cx="156.4" cy="127.3" r="1.95" fill="#ee0c3e"/><circle cx="146.5" cy="172.4" r="1.95" fill="#ee0c3e"/><circle cx="145.9" cy="171.1" r="1.95" fill="#ee0c3e"/><circle cx="104.3" cy="205.9" r="1.95" fill="#ee0c3e"/><circle cx="142.4" cy="186.5" r="1.95" fill="#000"/><circle cx="150.2" cy="184.9" r="1.95" fill="#ee0c3e"/><circle cx="113.0" cy="126.8" r="1.95" fill="#000"/><circle cx="152.7" cy="170.3" r="1.95" fill="#ee0c3e"/><circle cx="171.6" cy="170.3" r="1.95" fill="#ee0c3e"/><circle cx="179.5" cy="152.8" r="1.95" fill="#ee0c3e"/><circle cx="148.1" cy="164.4" r="1.95" fill="#000"/><circle cx="150.2" cy="208.5" r="1.95" fill="#ee0c3e"/><circle cx="133.7" cy="132.1" r="1.95" fill="#000"/><circle cx="254.9" cy="160.6" r="1.95" fill="#ee0c3e"/><circle cx="200.8" cy="185.8" r="1.95" fill="#ee0c3e"/><circle cx="112.0" cy="82.0" r="1.95" fill="#000"/><circle cx="183.3" cy="189.8" r="1.95" fill="#ee0c3e"/><circle cx="212.2" cy="163.0" r="1.95" fill="#1414e6"/><circle cx="197.7" cy="177.9" r="1.95" fill="#ee0c3e"/><circle cx="162.7" cy="139.6" r="1.95" fill="#ee0c3e"/><circle cx="173.0" cy="213.0" r="1.95" fill="#ee0c3e"/><circle cx="209.3" cy="116.3" r="1.95" fill="#ee0c3e"/><circle cx="135.7" cy="143.1" r="1.95" fill="#000"/><circle cx="204.4" cy="165.2" r="1.95" fill="#ee0c3e"/><circle cx="150.6" cy="147.5" r="1.95" fill="#ee0c3e"/><circle cx="122.2" cy="178.4" r="1.95" fill="#ee0c3e"/><circle cx="203.1" cy="240.3" r="1.95" fill="#ee0c3e"/><circle cx="124.3" cy="184.0" r="1.95" fill="#000"/><circle cx="174.9" cy="185.9" r="1.95" fill="#ee0c3e"/><circle cx="202.6" cy="204.4" r="1.95" fill="#ee0c3e"/><circle cx="130.1" cy="140.1" r="1.95" fill="#ee0c3e"/><circle cx="186.6" cy="103.9" r="1.95" fill="#ee0c3e"/><circle cx="103.6" cy="131.2" r="1.95" fill="#1414e6"/><circle cx="173.7" cy="181.0" r="1.95" fill="#ee0c3e"/><circle cx="161.9" cy="203.4" r="1.95" fill="#ee0c3e"/><circle cx="119.5" cy="160.9" r="1.95" fill="#ee0c3e"/><circle cx="178.7" cy="192.9" r="1.95" fill="#ee0c3e"/><circle cx="224.5" cy="175.3" r="1.95" fill="#ee0c3e"/><circle cx="156.3" cy="151.3" r="1.95" fill="#ee0c3e"/><circle cx="128.7" cy="225.7" r="1.95" fill="#ee0c3e"/><circle cx="173.0" cy="171.7" r="1.95" fill="#000"/><circle cx="207.0" cy="203.3" r="1.95" fill="#1414e6"/><circle cx="219.3" cy="153.0" r="1.95" fill="#ee0c3e"/><circle cx="110.4" cy="178.7" r="1.95" fill="#1414e6"/><circle cx="192.7" cy="198.4" r="1.95" fill="#ee0c3e"/><circle cx="153.3" cy="185.5" r="1.95" fill="#ee0c3e"/><circle cx="144.5" cy="242.0" r="1.95" fill="#ee0c3e"/><circle cx="156.1" cy="141.5" r="1.95" fill="#ee0c3e"/><circle cx="106.0" cy="161.7" r="1.95" fill="#ee0c3e"/><circle cx="145.7" cy="181.0" r="1.95" fill="#ee0c3e"/><circle cx="167.8" cy="146.4" r="1.95" fill="#ee0c3e"/><circle cx="119.1" cy="126.9" r="1.95" fill="#ee0c3e"/><circle cx="132.2" cy="242.7" r="1.95" fill="#000"/><circle cx="134.3" cy="172.7" r="1.95" fill="#000"/><circle cx="193.9" cy="198.6" r="1.95" fill="#ee0c3e"/><circle cx="188.8" cy="163.1" r="1.95" fill="#1414e6"/><circle cx="190.8" cy="163.5" r="1.95" fill="#ee0c3e"/><circle cx="166.9" cy="163.1" r="1.95" fill="#ee0c3e"/><circle cx="85.2" cy="164.3" r="1.95" fill="#000"/><circle cx="174.4" cy="183.4" r="1.95" fill="#ee0c3e"/><circle cx="176.8" cy="205.4" r="1.95" fill="#000"/><circle cx="165.7" cy="121.1" r="1.95" fill="#000"/><circle cx="97.1" cy="173.3" r="1.95" fill="#000"/><circle cx="217.6" cy="159.6" r="1.95" fill="#1414e6"/><circle cx="162.0" cy="184.3" r="1.95" fill="#ee0c3e"/><circle cx="228.7" cy="186.4" r="1.95" fill="#ee0c3e"/><circle cx="148.8" cy="238.2" r="1.95" fill="#ee0c3e"/><circle cx="157.7" cy="106.5" r="1.95" fill="#000"/><circle cx="146.9" cy="176.9" r="1.95" fill="#000"/><circle cx="161.7" cy="132.5" r="1.95" fill="#ee0c3e"/><circle cx="79.0" cy="160.4" r="1.95" fill="#000"/><circle cx="229.1" cy="154.7" r="1.95" fill="#ee0c3e"/><circle cx="213.0" cy="142.2" r="1.95" fill="#ee0c3e"/><circle cx="125.7" cy="222.1" r="1.95" fill="#ee0c3e"/><circle cx="229.2" cy="170.7" r="1.95" fill="#1414e6"/><circle cx="193.7" cy="133.8" r="1.95" fill="#1414e6"/><circle cx="230.3" cy="215.6" r="1.95" fill="#ee0c3e"/><circle cx="175.8" cy="180.9" r="1.95" fill="#ee0c3e"/><circle cx="184.4" cy="205.7" r="1.95" fill="#ee0c3e"/><circle cx="196.9" cy="212.5" r="1.95" fill="#ee0c3e"/><circle cx="141.2" cy="183.3" r="1.95" fill="#ee0c3e"/><circle cx="234.7" cy="138.0" r="1.95" fill="#ee0c3e"/><circle cx="108.0" cy="160.1" r="1.95" fill="#000"/><circle cx="149.2" cy="179.7" r="1.95" fill="#ee0c3e"/><circle cx="231.6" cy="237.6" r="1.95" fill="#ee0c3e"/><circle cx="180.3" cy="157.1" r="1.95" fill="#ee0c3e"/><circle cx="134.4" cy="184.8" r="1.95" fill="#000"/><circle cx="153.9" cy="211.4" r="1.95" fill="#ee0c3e"/><circle cx="183.8" cy="211.8" r="1.95" fill="#ee0c3e"/><circle cx="211.3" cy="164.6" r="1.95" fill="#ee0c3e"/><circle cx="249.4" cy="125.9" r="1.95" fill="#ee0c3e"/><circle cx="159.3" cy="179.0" r="1.95" fill="#ee0c3e"/><circle cx="239.2" cy="200.5" r="1.95" fill="#ee0c3e"/><circle cx="121.6" cy="128.7" r="1.95" fill="#000"/><circle cx="214.7" cy="200.4" r="1.95" fill="#ee0c3e"/><circle cx="164.6" cy="148.3" r="1.95" fill="#ee0c3e"/><circle cx="194.0" cy="92.0" r="1.95" fill="#1414e6"/><circle cx="129.7" cy="158.1" r="1.95" fill="#000"/><circle cx="90.6" cy="173.5" r="1.95" fill="#000"/><circle cx="203.3" cy="161.8" r="1.95" fill="#ee0c3e"/><circle cx="203.6" cy="149.7" r="1.95" fill="#1414e6"/><circle cx="76.7" cy="164.6" r="1.95" fill="#000"/><circle cx="129.4" cy="156.8" r="1.95" fill="#ee0c3e"/><circle cx="181.8" cy="182.6" r="1.95" fill="#ee0c3e"/><circle cx="187.2" cy="154.9" r="1.95" fill="#ee0c3e"/><circle cx="197.4" cy="140.3" r="1.95" fill="#000"/><circle cx="185.3" cy="184.2" r="1.95" fill="#ee0c3e"/><circle cx="120.5" cy="176.0" r="1.95" fill="#ee0c3e"/><circle cx="214.6" cy="189.5" r="1.95" fill="#ee0c3e"/><circle cx="152.3" cy="170.5" r="1.95" fill="#000"/><circle cx="187.2" cy="194.4" r="1.95" fill="#1414e6"/><circle cx="260.8" cy="211.1" r="1.95" fill="#ee0c3e"/><circle cx="125.8" cy="178.5" r="1.95" fill="#1414e6"/><circle cx="107.3" cy="195.4" r="1.95" fill="#000"/><circle cx="218.3" cy="177.1" r="1.95" fill="#ee0c3e"/><circle cx="142.0" cy="147.7" r="1.95" fill="#000"/><circle cx="115.1" cy="221.1" r="1.95" fill="#ee0c3e"/><circle cx="115.6" cy="174.1" r="1.95" fill="#000"/><circle cx="166.8" cy="174.4" r="1.95" fill="#ee0c3e"/><circle cx="118.4" cy="141.2" r="1.95" fill="#000"/><circle cx="160.1" cy="142.0" r="1.95" fill="#1414e6"/><circle cx="143.5" cy="137.1" r="1.95" fill="#1414e6"/><circle cx="94.5" cy="212.2" r="1.95" fill="#ee0c3e"/><circle cx="115.7" cy="154.8" r="1.95" fill="#000"/><circle cx="131.9" cy="189.3" r="1.95" fill="#000"/><circle cx="116.1" cy="143.5" r="1.95" fill="#000"/><circle cx="146.8" cy="234.4" r="1.95" fill="#ee0c3e"/><circle cx="105.2" cy="210.3" r="1.95" fill="#000"/><circle cx="123.4" cy="183.6" r="1.95" fill="#ee0c3e"/><circle cx="226.7" cy="189.0" r="1.95" fill="#ee0c3e"/><circle cx="185.2" cy="173.8" r="1.95" fill="#1414e6"/><circle cx="111.6" cy="156.3" r="1.95" fill="#ee0c3e"/><circle cx="107.6" cy="124.0" r="1.95" fill="#ee0c3e"/><circle cx="119.5" cy="192.9" r="1.95" fill="#000"/><circle cx="224.0" cy="187.3" r="1.95" fill="#1414e6"/><circle cx="120.5" cy="174.3" r="1.95" fill="#ee0c3e"/><circle cx="166.6" cy="153.2" r="1.95" fill="#ee0c3e"/><circle cx="218.5" cy="216.2" r="1.95" fill="#ee0c3e"/><circle cx="218.0" cy="228.1" r="1.95" fill="#ee0c3e"/><circle cx="130.7" cy="233.8" r="1.95" fill="#ee0c3e"/><circle cx="148.5" cy="176.9" r="1.95" fill="#ee0c3e"/><circle cx="119.7" cy="169.1" r="1.95" fill="#ee0c3e"/><circle cx="129.7" cy="152.6" r="1.95" fill="#ee0c3e"/><circle cx="215.8" cy="150.6" r="1.95" fill="#ee0c3e"/><circle cx="248.4" cy="230.5" r="1.95" fill="#ee0c3e"/><circle cx="158.9" cy="200.4" r="1.95" fill="#ee0c3e"/><circle cx="120.4" cy="123.6" r="1.95" fill="#000"/><circle cx="112.2" cy="196.2" r="1.95" fill="#000"/><circle cx="233.7" cy="215.5" r="1.95" fill="#ee0c3e"/><circle cx="151.4" cy="85.5" r="1.95" fill="#000"/><circle cx="120.4" cy="163.2" r="1.95" fill="#000"/><circle cx="262.8" cy="184.4" r="1.95" fill="#ee0c3e"/><circle cx="167.4" cy="182.3" r="1.95" fill="#000"/><circle cx="209.1" cy="205.2" r="1.95" fill="#ee0c3e"/><circle cx="190.7" cy="172.3" r="1.95" fill="#ee0c3e"/><circle cx="87.5" cy="158.2" r="1.95" fill="#000"/><circle cx="208.3" cy="185.2" r="1.95" fill="#ee0c3e"/><circle cx="157.1" cy="171.7" r="1.95" fill="#ee0c3e"/><circle cx="197.5" cy="145.3" r="1.95" fill="#ee0c3e"/><circle cx="195.6" cy="185.9" r="1.95" fill="#ee0c3e"/><circle cx="169.5" cy="176.1" r="1.95" fill="#ee0c3e"/><circle cx="139.7" cy="204.1" r="1.95" fill="#ee0c3e"/><circle cx="123.6" cy="187.3" r="1.95" fill="#1414e6"/><circle cx="172.3" cy="143.2" r="1.95" fill="#ee0c3e"/><circle cx="157.7" cy="82.3" r="1.95" fill="#ee0c3e"/><circle cx="98.0" cy="171.9" r="1.95" fill="#000"/><circle cx="151.2" cy="235.3" r="1.95" fill="#000"/><circle cx="127.2" cy="188.2" r="1.95" fill="#000"/><circle cx="117.0" cy="192.2" r="1.95" fill="#ee0c3e"/><circle cx="172.4" cy="167.2" r="1.95" fill="#1414e6"/><circle cx="191.5" cy="234.9" r="1.95" fill="#ee0c3e"/><circle cx="186.1" cy="111.0" r="1.95" fill="#000"/><circle cx="135.4" cy="177.1" r="1.95" fill="#000"/><circle cx="221.6" cy="116.8" r="1.95" fill="#ee0c3e"/><circle cx="207.4" cy="133.9" r="1.95" fill="#ee0c3e"/><circle cx="125.4" cy="165.9" r="1.95" fill="#ee0c3e"/><circle cx="159.4" cy="191.7" r="1.95" fill="#ee0c3e"/><circle cx="136.3" cy="143.3" r="1.95" fill="#000"/><circle cx="187.9" cy="131.4" r="1.95" fill="#ee0c3e"/><circle cx="187.3" cy="188.9" r="1.95" fill="#ee0c3e"/><circle cx="153.2" cy="204.4" r="1.95" fill="#ee0c3e"/><circle cx="210.7" cy="169.7" r="1.95" fill="#ee0c3e"/><circle cx="136.0" cy="166.9" r="1.95" fill="#ee0c3e"/><circle cx="126.7" cy="147.0" r="1.95" fill="#000"/><circle cx="250.3" cy="143.1" r="1.95" fill="#ee0c3e"/><circle cx="114.2" cy="143.1" r="1.95" fill="#ee0c3e"/><circle cx="127.5" cy="158.9" r="1.95" fill="#ee0c3e"/><circle cx="113.2" cy="226.0" r="1.95" fill="#ee0c3e"/><circle cx="175.0" cy="154.4" r="1.95" fill="#ee0c3e"/><circle cx="116.2" cy="179.2" r="1.95" fill="#000"/><circle cx="163.7" cy="120.3" r="1.95" fill="#000"/><circle cx="194.5" cy="180.9" r="1.95" fill="#ee0c3e"/><circle cx="154.5" cy="195.9" r="1.95" fill="#ee0c3e"/><circle cx="132.1" cy="203.6" r="1.95" fill="#ee0c3e"/><circle cx="83.5" cy="180.1" r="1.95" fill="#ee0c3e"/><circle cx="152.0" cy="230.8" r="1.95" fill="#ee0c3e"/><circle cx="196.6" cy="244.6" r="1.95" fill="#ee0c3e"/><circle cx="243.1" cy="199.8" r="1.95" fill="#ee0c3e"/><circle cx="231.6" cy="179.5" r="1.95" fill="#ee0c3e"/><circle cx="198.8" cy="167.8" r="1.95" fill="#000"/><circle cx="232.3" cy="170.6" r="1.95" fill="#1414e6"/><circle cx="208.3" cy="174.3" r="1.95" fill="#ee0c3e"/><circle cx="120.8" cy="155.3" r="1.95" fill="#000"/><circle cx="202.5" cy="194.2" r="1.95" fill="#ee0c3e"/><circle cx="195.1" cy="169.8" r="1.95" fill="#ee0c3e"/><circle cx="88.6" cy="193.8" r="1.95" fill="#ee0c3e"/><circle cx="170.3" cy="147.1" r="1.95" fill="#ee0c3e"/><circle cx="95.7" cy="182.1" r="1.95" fill="#ee0c3e"/><circle cx="137.5" cy="175.7" r="1.95" fill="#ee0c3e"/><circle cx="179.6" cy="145.3" r="1.95" fill="#ee0c3e"/><circle cx="209.3" cy="235.5" r="1.95" fill="#ee0c3e"/><circle cx="103.1" cy="173.1" r="1.95" fill="#000"/><circle cx="212.8" cy="181.1" r="1.95" fill="#ee0c3e"/><circle cx="175.0" cy="136.2" r="1.95" fill="#ee0c3e"/><circle cx="195.4" cy="179.7" r="1.95" fill="#ee0c3e"/><circle cx="155.2" cy="175.4" r="1.95" fill="#ee0c3e"/><circle cx="125.0" cy="156.2" r="1.95" fill="#1414e6"/><circle cx="145.9" cy="156.6" r="1.95" fill="#000"/><circle cx="260.5" cy="150.2" r="1.95" fill="#ee0c3e"/><circle cx="140.2" cy="179.3" r="1.95" fill="#000"/><circle cx="93.6" cy="192.7" r="1.95" fill="#000"/><circle cx="229.5" cy="188.9" r="1.95" fill="#1414e6"/><circle cx="134.6" cy="193.4" r="1.95" fill="#ee0c3e"/><circle cx="205.0" cy="178.4" r="1.95" fill="#ee0c3e"/><circle cx="98.0" cy="248.0" r="1.95" fill="#000"/><circle cx="116.9" cy="198.7" r="1.95" fill="#ee0c3e"/><circle cx="184.7" cy="210.0" r="1.95" fill="#ee0c3e"/><circle cx="178.9" cy="149.9" r="1.95" fill="#ee0c3e"/><circle cx="125.7" cy="96.0" r="1.95" fill="#000"/><circle cx="160.1" cy="210.0" r="1.95" fill="#ee0c3e"/><circle cx="244.9" cy="191.8" r="1.95" fill="#ee0c3e"/><circle cx="178.8" cy="228.9" r="1.95" fill="#ee0c3e"/><circle cx="147.6" cy="185.5" r="1.95" fill="#ee0c3e"/><circle cx="182.9" cy="132.0" r="1.95" fill="#1414e6"/><circle cx="102.2" cy="212.4" r="1.95" fill="#ee0c3e"/><circle cx="104.8" cy="205.0" r="1.95" fill="#000"/><circle cx="188.0" cy="181.2" r="1.95" fill="#ee0c3e"/><circle cx="150.2" cy="218.9" r="1.95" fill="#ee0c3e"/><circle cx="155.7" cy="150.9" r="1.95" fill="#ee0c3e"/><circle cx="127.6" cy="156.0" r="1.95" fill="#1414e6"/><circle cx="244.9" cy="171.8" r="1.95" fill="#ee0c3e"/><circle cx="190.2" cy="171.3" r="1.95" fill="#ee0c3e"/><circle cx="132.9" cy="217.0" r="1.95" fill="#ee0c3e"/><circle cx="196.4" cy="138.5" r="1.95" fill="#000"/><circle cx="119.0" cy="235.9" r="1.95" fill="#ee0c3e"/><circle cx="160.0" cy="144.5" r="1.95" fill="#000"/><circle cx="141.0" cy="245.3" r="1.95" fill="#ee0c3e"/><circle cx="169.9" cy="176.0" r="1.95" fill="#ee0c3e"/><circle cx="114.1" cy="131.2" r="1.95" fill="#1414e6"/><circle cx="221.7" cy="183.5" r="1.95" fill="#ee0c3e"/><circle cx="170.9" cy="116.0" r="1.95" fill="#ee0c3e"/><circle cx="260.2" cy="217.4" r="1.95" fill="#ee0c3e"/><circle cx="152.9" cy="131.1" r="1.95" fill="#ee0c3e"/><circle cx="121.4" cy="162.4" r="1.95" fill="#1414e6"/><circle cx="225.2" cy="150.9" r="1.95" fill="#ee0c3e"/><circle cx="86.2" cy="206.2" r="1.95" fill="#ee0c3e"/><circle cx="212.8" cy="242.2" r="1.95" fill="#ee0c3e"/><circle cx="176.7" cy="232.8" r="1.95" fill="#ee0c3e"/><circle cx="192.8" cy="180.0" r="1.95" fill="#ee0c3e"/><circle cx="259.4" cy="205.0" r="1.95" fill="#ee0c3e"/><circle cx="140.9" cy="167.3" r="1.95" fill="#ee0c3e"/><circle cx="209.0" cy="133.7" r="1.95" fill="#ee0c3e"/><circle cx="190.1" cy="214.5" r="1.95" fill="#ee0c3e"/><circle cx="161.1" cy="134.4" r="1.95" fill="#ee0c3e"/><circle cx="173.4" cy="186.6" r="1.95" fill="#ee0c3e"/><circle cx="145.5" cy="154.2" r="1.95" fill="#000"/><circle cx="175.5" cy="194.3" r="1.95" fill="#ee0c3e"/><circle cx="212.5" cy="157.2" r="1.95" fill="#ee0c3e"/><circle cx="143.5" cy="214.4" r="1.95" fill="#000"/><circle cx="172.5" cy="99.4" r="1.95" fill="#ee0c3e"/><circle cx="133.5" cy="165.1" r="1.95" fill="#ee0c3e"/><circle cx="242.2" cy="162.5" r="1.95" fill="#ee0c3e"/><circle cx="165.6" cy="224.9" r="1.95" fill="#ee0c3e"/><circle cx="109.4" cy="167.1" r="1.95" fill="#000"/><circle cx="87.8" cy="173.0" r="1.95" fill="#ee0c3e"/><circle cx="171.2" cy="160.5" r="1.95" fill="#ee0c3e"/><circle cx="152.6" cy="124.9" r="1.95" fill="#1414e6"/><circle cx="75.9" cy="113.6" r="1.95" fill="#ee0c3e"/><circle cx="205.4" cy="158.9" r="1.95" fill="#ee0c3e"/><circle cx="200.5" cy="138.5" r="1.95" fill="#000"/><circle cx="124.8" cy="129.1" r="1.95" fill="#000"/><circle cx="95.4" cy="224.9" r="1.95" fill="#000"/><circle cx="204.9" cy="206.3" r="1.95" fill="#ee0c3e"/><circle cx="134.0" cy="152.7" r="1.95" fill="#1414e6"/><circle cx="140.5" cy="207.2" r="1.95" fill="#ee0c3e"/><circle cx="114.9" cy="217.6" r="1.95" fill="#000"/><circle cx="232.0" cy="110.8" r="1.95" fill="#000"/><circle cx="176.1" cy="178.5" r="1.95" fill="#ee0c3e"/><circle cx="159.7" cy="180.1" r="1.95" fill="#000"/><circle cx="133.1" cy="232.8" r="1.95" fill="#000"/><circle cx="122.7" cy="191.7" r="1.95" fill="#000"/><circle cx="239.8" cy="182.6" r="1.95" fill="#ee0c3e"/><circle cx="192.7" cy="129.5" r="1.95" fill="#ee0c3e"/><circle cx="181.2" cy="145.9" r="1.95" fill="#ee0c3e"/><circle cx="99.3" cy="227.5" r="1.95" fill="#ee0c3e"/><circle cx="107.2" cy="190.7" r="1.95" fill="#ee0c3e"/><circle cx="167.1" cy="161.5" r="1.95" fill="#ee0c3e"/><circle cx="104.0" cy="151.2" r="1.95" fill="#ee0c3e"/><circle cx="84.9" cy="167.2" r="1.95" fill="#ee0c3e"/><circle cx="146.6" cy="162.8" r="1.95" fill="#000"/><circle cx="166.4" cy="187.7" r="1.95" fill="#000"/><circle cx="142.8" cy="205.8" r="1.95" fill="#ee0c3e"/><circle cx="116.0" cy="96.0" r="1.95" fill="#1414e6"/><circle cx="202.1" cy="179.1" r="1.95" fill="#ee0c3e"/><circle cx="290.0" cy="176.0" r="1.95" fill="#ee0c3e"/><circle cx="124.2" cy="165.7" r="1.95" fill="#ee0c3e"/><circle cx="184.2" cy="191.6" r="1.95" fill="#ee0c3e"/><circle cx="131.6" cy="242.7" r="1.95" fill="#ee0c3e"/><circle cx="123.2" cy="233.5" r="1.95" fill="#000"/><circle cx="152.5" cy="199.0" r="1.95" fill="#ee0c3e"/><circle cx="135.0" cy="186.3" r="1.95" fill="#000"/><circle cx="145.2" cy="177.5" r="1.95" fill="#ee0c3e"/><circle cx="179.3" cy="183.8" r="1.95" fill="#ee0c3e"/><circle cx="122.7" cy="192.8" r="1.95" fill="#ee0c3e"/><circle cx="188.9" cy="207.1" r="1.95" fill="#ee0c3e"/><circle cx="135.9" cy="183.9" r="1.95" fill="#000"/><circle cx="139.6" cy="191.7" r="1.95" fill="#000"/><circle cx="236.9" cy="180.5" r="1.95" fill="#1414e6"/><circle cx="150.6" cy="170.9" r="1.95" fill="#000"/><circle cx="82.0" cy="174.5" r="1.95" fill="#ee0c3e"/><circle cx="129.9" cy="196.6" r="1.95" fill="#ee0c3e"/><circle cx="182.3" cy="159.3" r="1.95" fill="#000"/><circle cx="143.1" cy="234.9" r="1.95" fill="#000"/><circle cx="148.5" cy="166.8" r="1.95" fill="#000"/><circle cx="220.7" cy="177.7" r="1.95" fill="#ee0c3e"/><circle cx="161.6" cy="164.8" r="1.95" fill="#ee0c3e"/><circle cx="187.9" cy="148.1" r="1.95" fill="#ee0c3e"/><circle cx="150.3" cy="169.2" r="1.95" fill="#000"/><circle cx="262.8" cy="179.9" r="1.95" fill="#ee0c3e"/><circle cx="190.6" cy="118.1" r="1.95" fill="#1414e6"/><circle cx="218.0" cy="94.0" r="1.95" fill="#000"/><circle cx="135.2" cy="173.7" r="1.95" fill="#000"/><circle cx="197.5" cy="193.7" r="1.95" fill="#1414e6"/><circle cx="191.0" cy="136.0" r="1.95" fill="#1414e6"/><circle cx="207.7" cy="219.6" r="1.95" fill="#ee0c3e"/><circle cx="185.6" cy="142.2" r="1.95" fill="#1414e6"/><circle cx="172.5" cy="157.1" r="1.95" fill="#ee0c3e"/><circle cx="117.3" cy="170.3" r="1.95" fill="#000"/><circle cx="132.9" cy="234.1" r="1.95" fill="#ee0c3e"/><circle cx="112.2" cy="240.3" r="1.95" fill="#000"/><circle cx="222.2" cy="168.8" r="1.95" fill="#ee0c3e"/><circle cx="214.4" cy="214.9" r="1.95" fill="#ee0c3e"/><circle cx="190.9" cy="178.1" r="1.95" fill="#ee0c3e"/><circle cx="184.6" cy="193.4" r="1.95" fill="#ee0c3e"/><circle cx="241.3" cy="159.3" r="1.95" fill="#ee0c3e"/><circle cx="147.5" cy="212.0" r="1.95" fill="#000"/><circle cx="174.0" cy="176.1" r="1.95" fill="#ee0c3e"/><circle cx="282.8" cy="198.1" r="1.95" fill="#ee0c3e"/><circle cx="193.0" cy="171.1" r="1.95" fill="#ee0c3e"/><circle cx="192.3" cy="147.8" r="1.95" fill="#ee0c3e"/><circle cx="172.9" cy="236.1" r="1.95" fill="#ee0c3e"/><circle cx="218.3" cy="146.9" r="1.95" fill="#ee0c3e"/><circle cx="170.0" cy="183.6" r="1.95" fill="#ee0c3e"/><circle cx="189.5" cy="187.2" r="1.95" fill="#ee0c3e"/><circle cx="180.8" cy="164.0" r="1.95" fill="#000"/><circle cx="112.7" cy="156.0" r="1.95" fill="#000"/><circle cx="158.5" cy="183.7" r="1.95" fill="#ee0c3e"/><circle cx="188.1" cy="161.1" r="1.95" fill="#ee0c3e"/><circle cx="205.8" cy="188.2" r="1.95" fill="#ee0c3e"/><circle cx="144.4" cy="143.1" r="1.95" fill="#ee0c3e"/><circle cx="155.1" cy="192.1" r="1.95" fill="#1414e6"/><circle cx="177.1" cy="185.7" r="1.95" fill="#1414e6"/><circle cx="164.9" cy="215.7" r="1.95" fill="#000"/><circle cx="201.8" cy="179.5" r="1.95" fill="#ee0c3e"/><circle cx="95.7" cy="166.7" r="1.95" fill="#ee0c3e"/><circle cx="167.9" cy="184.0" r="1.95" fill="#ee0c3e"/><circle cx="172.6" cy="180.2" r="1.95" fill="#000"/><circle cx="162.9" cy="150.2" r="1.95" fill="#ee0c3e"/><circle cx="183.5" cy="175.3" r="1.95" fill="#1414e6"/><circle cx="103.9" cy="167.4" r="1.95" fill="#ee0c3e"/><circle cx="192.2" cy="207.3" r="1.95" fill="#ee0c3e"/><circle cx="233.6" cy="140.0" r="1.95" fill="#ee0c3e"/><circle cx="167.6" cy="143.2" r="1.95" fill="#ee0c3e"/><circle cx="195.8" cy="190.8" r="1.95" fill="#ee0c3e"/><circle cx="213.4" cy="165.5" r="1.95" fill="#1414e6"/><circle cx="192.2" cy="237.8" r="1.95" fill="#ee0c3e"/><circle cx="139.2" cy="232.2" r="1.95" fill="#ee0c3e"/><circle cx="127.3" cy="183.8" r="1.95" fill="#000"/><circle cx="243.1" cy="235.4" r="1.95" fill="#ee0c3e"/><circle cx="138.8" cy="197.9" r="1.95" fill="#000"/><circle cx="238.4" cy="188.8" r="1.95" fill="#ee0c3e"/><circle cx="214.0" cy="166.7" r="1.95" fill="#ee0c3e"/><circle cx="198.8" cy="146.8" r="1.95" fill="#ee0c3e"/><circle cx="186.7" cy="219.4" r="1.95" fill="#ee0c3e"/><circle cx="240.3" cy="154.5" r="1.95" fill="#1414e6"/><circle cx="172.9" cy="224.2" r="1.95" fill="#ee0c3e"/><circle cx="143.8" cy="191.8" r="1.95" fill="#ee0c3e"/><circle cx="153.6" cy="187.3" r="1.95" fill="#000"/><circle cx="167.7" cy="100.0" r="1.95" fill="#ee0c3e"/><circle cx="104.8" cy="156.6" r="1.95" fill="#ee0c3e"/><circle cx="199.3" cy="96.2" r="1.95" fill="#ee0c3e"/><circle cx="188.5" cy="190.9" r="1.95" fill="#000"/><circle cx="225.0" cy="164.2" r="1.95" fill="#1414e6"/><circle cx="132.0" cy="129.9" r="1.95" fill="#ee0c3e"/><circle cx="136.9" cy="181.0" r="1.95" fill="#000"/><circle cx="191.3" cy="200.2" r="1.95" fill="#000"/><circle cx="120.8" cy="195.4" r="1.95" fill="#000"/><circle cx="208.2" cy="169.2" r="1.95" fill="#ee0c3e"/><circle cx="224.0" cy="229.6" r="1.95" fill="#ee0c3e"/><circle cx="138.3" cy="182.3" r="1.95" fill="#ee0c3e"/><circle cx="245.1" cy="177.6" r="1.95" fill="#ee0c3e"/><circle cx="135.8" cy="193.3" r="1.95" fill="#000"/><circle cx="181.3" cy="231.1" r="1.95" fill="#ee0c3e"/><circle cx="161.3" cy="223.3" r="1.95" fill="#ee0c3e"/><circle cx="154.2" cy="132.9" r="1.95" fill="#ee0c3e"/><circle cx="184.7" cy="166.8" r="1.95" fill="#ee0c3e"/><circle cx="286.0" cy="182.0" r="1.95" fill="#ee0c3e"/><circle cx="183.0" cy="159.8" r="1.95" fill="#000"/><circle cx="207.6" cy="207.1" r="1.95" fill="#ee0c3e"/><circle cx="163.2" cy="239.2" r="1.95" fill="#000"/><circle cx="144.3" cy="217.6" r="1.95" fill="#ee0c3e"/><circle cx="115.1" cy="158.2" r="1.95" fill="#ee0c3e"/><circle cx="156.2" cy="201.3" r="1.95" fill="#ee0c3e"/><circle cx="92.1" cy="203.7" r="1.95" fill="#000"/><circle cx="208.8" cy="147.5" r="1.95" fill="#ee0c3e"/><circle cx="137.6" cy="143.4" r="1.95" fill="#000"/><circle cx="133.3" cy="154.3" r="1.95" fill="#000"/><circle cx="146.7" cy="160.3" r="1.95" fill="#ee0c3e"/><circle cx="129.1" cy="200.5" r="1.95" fill="#ee0c3e"/><circle cx="205.0" cy="90.8" r="1.95" fill="#000"/><circle cx="215.8" cy="243.2" r="1.95" fill="#ee0c3e"/><circle cx="113.0" cy="144.5" r="1.95" fill="#000"/><circle cx="109.7" cy="168.3" r="1.95" fill="#000"/><circle cx="157.7" cy="119.4" r="1.95" fill="#000"/><circle cx="199.1" cy="217.2" r="1.95" fill="#ee0c3e"/><circle cx="136.9" cy="138.7" r="1.95" fill="#ee0c3e"/><circle cx="115.8" cy="239.0" r="1.95" fill="#000"/><circle cx="203.3" cy="166.6" r="1.95" fill="#ee0c3e"/><circle cx="126.4" cy="162.0" r="1.95" fill="#ee0c3e"/><circle cx="232.9" cy="161.3" r="1.95" fill="#ee0c3e"/><circle cx="151.7" cy="165.3" r="1.95" fill="#000"/><circle cx="143.9" cy="179.3" r="1.95" fill="#ee0c3e"/><circle cx="182.1" cy="153.7" r="1.95" fill="#1414e6"/><circle cx="134.4" cy="193.9" r="1.95" fill="#ee0c3e"/><circle cx="102.3" cy="156.2" r="1.95" fill="#ee0c3e"/><circle cx="183.2" cy="205.8" r="1.95" fill="#ee0c3e"/><circle cx="117.1" cy="198.4" r="1.95" fill="#ee0c3e"/><circle cx="154.6" cy="203.7" r="1.95" fill="#1414e6"/><circle cx="126.6" cy="172.3" r="1.95" fill="#ee0c3e"/><circle cx="221.8" cy="165.8" r="1.95" fill="#ee0c3e"/><circle cx="182.2" cy="103.9" r="1.95" fill="#ee0c3e"/><circle cx="199.8" cy="134.5" r="1.95" fill="#1414e6"/><circle cx="205.4" cy="211.3" r="1.95" fill="#ee0c3e"/><circle cx="134.3" cy="180.0" r="1.95" fill="#000"/><circle cx="234.8" cy="189.9" r="1.95" fill="#ee0c3e"/><circle cx="139.2" cy="201.3" r="1.95" fill="#ee0c3e"/><circle cx="149.2" cy="176.3" r="1.95" fill="#000"/><circle cx="160.9" cy="147.3" r="1.95" fill="#ee0c3e"/><circle cx="176.3" cy="207.2" r="1.95" fill="#ee0c3e"/><circle cx="142.6" cy="178.9" r="1.95" fill="#ee0c3e"/><circle cx="116.5" cy="200.3" r="1.95" fill="#000"/><circle cx="242.0" cy="179.1" r="1.95" fill="#ee0c3e"/><circle cx="168.6" cy="167.8" r="1.95" fill="#ee0c3e"/><circle cx="235.2" cy="149.8" r="1.95" fill="#000"/><circle cx="180.1" cy="200.9" r="1.95" fill="#000"/><circle cx="176.2" cy="149.0" r="1.95" fill="#000"/><circle cx="174.0" cy="180.0" r="1.95" fill="#ee0c3e"/><circle cx="127.0" cy="108.3" r="1.95" fill="#000"/><circle cx="197.0" cy="190.1" r="1.95" fill="#ee0c3e"/><circle cx="136.1" cy="198.3" r="1.95" fill="#000"/><circle cx="150.4" cy="124.1" r="1.95" fill="#ee0c3e"/><circle cx="163.5" cy="140.4" r="1.95" fill="#000"/><circle cx="163.6" cy="183.5" r="1.95" fill="#ee0c3e"/><circle cx="195.5" cy="235.6" r="1.95" fill="#ee0c3e"/><circle cx="165.8" cy="189.0" r="1.95" fill="#ee0c3e"/><circle cx="131.6" cy="152.0" r="1.95" fill="#000"/><circle cx="216.7" cy="177.7" r="1.95" fill="#ee0c3e"/><circle cx="78.5" cy="176.7" r="1.95" fill="#000"/><circle cx="111.9" cy="180.2" r="1.95" fill="#000"/><circle cx="192.2" cy="169.7" r="1.95" fill="#000"/><circle cx="157.5" cy="226.3" r="1.95" fill="#ee0c3e"/><circle cx="149.3" cy="200.5" r="1.95" fill="#1414e6"/><circle cx="200.6" cy="165.4" r="1.95" fill="#ee0c3e"/><circle cx="181.0" cy="150.6" r="1.95" fill="#000"/><circle cx="159.6" cy="214.9" r="1.95" fill="#ee0c3e"/><circle cx="176.4" cy="140.5" r="1.95" fill="#ee0c3e"/><circle cx="162.8" cy="124.0" r="1.95" fill="#000"/><circle cx="171.9" cy="177.8" r="1.95" fill="#ee0c3e"/><circle cx="265.9" cy="147.9" r="1.95" fill="#ee0c3e"/><circle cx="171.9" cy="181.2" r="1.95" fill="#ee0c3e"/><circle cx="207.5" cy="169.0" r="1.95" fill="#ee0c3e"/><ellipse cx="0" cy="0" rx="112.3" ry="70.8" transform="translate(172.3,178.2) rotate(1.5)" fill="none" stroke="#e3174a" stroke-width="2"/><ellipse cx="0" cy="0" rx="88.2" ry="73.6" transform="translate(149.8,170.2) rotate(-28.4)" fill="none" stroke="#000" stroke-width="2"/><ellipse cx="0" cy="0" rx="79.8" ry="68.0" transform="translate(166.6,173.4) rotate(5)" fill="none" stroke="#1010e0" stroke-width="2"/><circle cx="524.4" cy="139.3" r="1.95" fill="#f00000"/><circle cx="547.1" cy="142.8" r="1.95" fill="#f00000"/><circle cx="571.0" cy="165.8" r="1.95" fill="#f00000"/><circle cx="474.4" cy="158.8" r="1.95" fill="#000"/><circle cx="540.4" cy="199.2" r="1.95" fill="#000"/><circle cx="534.8" cy="172.6" r="1.95" fill="#f00000"/><circle cx="553.3" cy="165.6" r="1.95" fill="#000"/><circle cx="503.7" cy="175.4" r="1.95" fill="#000"/><circle cx="545.6" cy="150.8" r="1.95" fill="#f00000"/><circle cx="517.4" cy="148.9" r="1.95" fill="#f00000"/><circle cx="488.4" cy="129.1" r="1.95" fill="#1010f0"/><circle cx="520.4" cy="192.8" r="1.95" fill="#f00000"/><circle cx="535.6" cy="176.3" r="1.95" fill="#f00000"/><circle cx="616.4" cy="131.8" r="1.95" fill="#000"/><circle cx="523.0" cy="136.4" r="1.95" fill="#f00000"/><circle cx="546.3" cy="133.5" r="1.95" fill="#f00000"/><circle cx="559.4" cy="167.5" r="1.95" fill="#f00000"/><circle cx="547.3" cy="168.8" r="1.95" fill="#f00000"/><circle cx="546.6" cy="153.5" r="1.95" fill="#f00000"/><circle cx="504.0" cy="153.1" r="1.95" fill="#1010f0"/><circle cx="550.4" cy="154.2" r="1.95" fill="#f00000"/><circle cx="500.9" cy="153.1" r="1.95" fill="#000"/><circle cx="497.9" cy="141.9" r="1.95" fill="#f00000"/><circle cx="524.2" cy="142.4" r="1.95" fill="#000"/><circle cx="499.9" cy="154.8" r="1.95" fill="#000"/><circle cx="529.3" cy="131.2" r="1.95" fill="#f00000"/><circle cx="576.8" cy="135.6" r="1.95" fill="#000"/><circle cx="496.0" cy="160.5" r="1.95" fill="#000"/><circle cx="555.8" cy="132.8" r="1.95" fill="#f00000"/><circle cx="501.3" cy="147.2" r="1.95" fill="#f00000"/><circle cx="533.6" cy="124.1" r="1.95" fill="#f00000"/><circle cx="435.8" cy="169.8" r="1.95" fill="#000"/><circle cx="591.8" cy="142.6" r="1.95" fill="#f00000"/><circle cx="514.9" cy="174.5" r="1.95" fill="#f00000"/><circle cx="547.0" cy="150.1" r="1.95" fill="#f00000"/><circle cx="520.6" cy="143.9" r="1.95" fill="#000"/><circle cx="525.5" cy="164.5" r="1.95" fill="#f00000"/><circle cx="529.3" cy="141.1" r="1.95" fill="#000"/><circle cx="533.0" cy="156.2" r="1.95" fill="#f00000"/><circle cx="482.3" cy="177.9" r="1.95" fill="#f00000"/><circle cx="490.6" cy="128.5" r="1.95" fill="#f00000"/><circle cx="539.4" cy="170.9" r="1.95" fill="#f00000"/><circle cx="516.9" cy="189.0" r="1.95" fill="#f00000"/><circle cx="490.3" cy="161.3" r="1.95" fill="#1010f0"/><circle cx="567.9" cy="152.9" r="1.95" fill="#f00000"/><circle cx="520.6" cy="183.6" r="1.95" fill="#f00000"/><circle cx="513.2" cy="145.6" r="1.95" fill="#000"/><circle cx="512.5" cy="160.6" r="1.95" fill="#f00000"/><circle cx="510.5" cy="165.2" r="1.95" fill="#f00000"/><circle cx="548.9" cy="191.3" r="1.95" fill="#f00000"/><circle cx="523.5" cy="128.5" r="1.95" fill="#f00000"/><circle cx="562.0" cy="115.4" r="1.95" fill="#f00000"/><circle cx="518.1" cy="121.8" r="1.95" fill="#f00000"/><circle cx="511.6" cy="132.1" r="1.95" fill="#f00000"/><circle cx="523.7" cy="137.9" r="1.95" fill="#000"/><circle cx="529.0" cy="153.9" r="1.95" fill="#f00000"/><circle cx="496.6" cy="171.7" r="1.95" fill="#000"/><circle cx="494.6" cy="219.8" r="1.95" fill="#f00000"/><circle cx="541.7" cy="141.4" r="1.95" fill="#000"/><circle cx="546.2" cy="143.8" r="1.95" fill="#f00000"/><circle cx="507.5" cy="118.8" r="1.95" fill="#f00000"/><circle cx="484.6" cy="184.2" r="1.95" fill="#000"/><circle cx="535.5" cy="142.5" r="1.95" fill="#1010f0"/><circle cx="591.0" cy="131.7" r="1.95" fill="#f00000"/><circle cx="522.7" cy="122.1" r="1.95" fill="#f00000"/><circle cx="569.7" cy="147.7" r="1.95" fill="#f00000"/><circle cx="544.7" cy="173.9" r="1.95" fill="#f00000"/><circle cx="543.3" cy="158.9" r="1.95" fill="#f00000"/><circle cx="523.1" cy="221.8" r="1.95" fill="#f00000"/><circle cx="495.6" cy="122.2" r="1.95" fill="#f00000"/><circle cx="480.2" cy="114.0" r="1.95" fill="#f00000"/><circle cx="501.7" cy="114.4" r="1.95" fill="#f00000"/><circle cx="420.5" cy="176.7" r="1.95" fill="#f00000"/><circle cx="530.3" cy="154.8" r="1.95" fill="#f00000"/><circle cx="518.4" cy="201.1" r="1.95" fill="#f00000"/><circle cx="520.9" cy="202.5" r="1.95" fill="#f00000"/><circle cx="569.0" cy="144.0" r="1.95" fill="#f00000"/><circle cx="519.8" cy="97.4" r="1.95" fill="#f00000"/><circle cx="550.4" cy="174.0" r="1.95" fill="#f00000"/><circle cx="498.1" cy="151.2" r="1.95" fill="#1010f0"/><circle cx="547.1" cy="163.4" r="1.95" fill="#f00000"/><circle cx="548.0" cy="113.3" r="1.95" fill="#000"/><circle cx="529.2" cy="145.9" r="1.95" fill="#f00000"/><circle cx="490.3" cy="175.1" r="1.95" fill="#f00000"/><circle cx="538.2" cy="165.4" r="1.95" fill="#f00000"/><circle cx="564.1" cy="192.9" r="1.95" fill="#000"/><circle cx="521.9" cy="191.6" r="1.95" fill="#f00000"/><circle cx="555.8" cy="143.6" r="1.95" fill="#f00000"/><circle cx="571.9" cy="172.7" r="1.95" fill="#f00000"/><circle cx="492.3" cy="120.7" r="1.95" fill="#f00000"/><circle cx="516.9" cy="156.9" r="1.95" fill="#f00000"/><circle cx="501.1" cy="161.8" r="1.95" fill="#f00000"/><circle cx="563.0" cy="131.5" r="1.95" fill="#f00000"/><circle cx="458.9" cy="135.0" r="1.95" fill="#f00000"/><circle cx="546.0" cy="170.1" r="1.95" fill="#000"/><circle cx="568.9" cy="191.7" r="1.95" fill="#000"/><circle cx="539.5" cy="181.8" r="1.95" fill="#f00000"/><circle cx="532.9" cy="132.4" r="1.95" fill="#f00000"/><circle cx="500.0" cy="120.4" r="1.95" fill="#f00000"/><circle cx="555.3" cy="138.5" r="1.95" fill="#f00000"/><circle cx="527.8" cy="115.3" r="1.95" fill="#000"/><circle cx="515.7" cy="147.4" r="1.95" fill="#000"/><circle cx="512.0" cy="124.1" r="1.95" fill="#f00000"/><circle cx="562.4" cy="178.7" r="1.95" fill="#f00000"/><circle cx="515.4" cy="145.5" r="1.95" fill="#f00000"/><circle cx="501.1" cy="122.3" r="1.95" fill="#f00000"/><circle cx="541.9" cy="169.4" r="1.95" fill="#f00000"/><circle cx="515.3" cy="140.3" r="1.95" fill="#000"/><circle cx="535.8" cy="157.6" r="1.95" fill="#f00000"/><circle cx="568.8" cy="130.9" r="1.95" fill="#f00000"/><circle cx="505.5" cy="189.1" r="1.95" fill="#000"/><circle cx="530.4" cy="124.4" r="1.95" fill="#1010f0"/><circle cx="551.7" cy="177.8" r="1.95" fill="#f00000"/><circle cx="550.7" cy="110.5" r="1.95" fill="#f00000"/><circle cx="540.2" cy="106.8" r="1.95" fill="#000"/><circle cx="495.9" cy="146.3" r="1.95" fill="#f00000"/><circle cx="489.0" cy="151.1" r="1.95" fill="#f00000"/><circle cx="582.0" cy="155.7" r="1.95" fill="#000"/><circle cx="568.6" cy="157.9" r="1.95" fill="#f00000"/><circle cx="557.6" cy="142.6" r="1.95" fill="#f00000"/><circle cx="501.7" cy="126.9" r="1.95" fill="#f00000"/><circle cx="526.9" cy="158.9" r="1.95" fill="#000"/><circle cx="563.0" cy="133.3" r="1.95" fill="#f00000"/><circle cx="564.6" cy="183.8" r="1.95" fill="#f00000"/><circle cx="524.6" cy="144.0" r="1.95" fill="#000"/><circle cx="534.3" cy="154.1" r="1.95" fill="#1010f0"/><circle cx="495.2" cy="166.7" r="1.95" fill="#f00000"/><circle cx="527.7" cy="170.2" r="1.95" fill="#f00000"/><circle cx="536.5" cy="142.1" r="1.95" fill="#f00000"/><circle cx="559.8" cy="168.8" r="1.95" fill="#f00000"/><circle cx="522.3" cy="170.7" r="1.95" fill="#f00000"/><circle cx="505.6" cy="165.0" r="1.95" fill="#f00000"/><circle cx="479.2" cy="156.8" r="1.95" fill="#f00000"/><circle cx="530.5" cy="165.8" r="1.95" fill="#f00000"/><circle cx="578.8" cy="166.2" r="1.95" fill="#f00000"/><circle cx="507.3" cy="170.9" r="1.95" fill="#000"/><circle cx="490.3" cy="146.0" r="1.95" fill="#000"/><circle cx="567.9" cy="149.2" r="1.95" fill="#f00000"/><circle cx="513.2" cy="141.5" r="1.95" fill="#f00000"/><circle cx="522.1" cy="120.4" r="1.95" fill="#f00000"/><circle cx="489.5" cy="124.3" r="1.95" fill="#f00000"/><circle cx="518.9" cy="131.1" r="1.95" fill="#000"/><circle cx="542.8" cy="156.8" r="1.95" fill="#f00000"/><circle cx="586.5" cy="164.1" r="1.95" fill="#f00000"/><circle cx="472.7" cy="145.9" r="1.95" fill="#f00000"/><circle cx="484.2" cy="165.4" r="1.95" fill="#000"/><circle cx="542.1" cy="126.6" r="1.95" fill="#f00000"/><circle cx="503.4" cy="155.3" r="1.95" fill="#f00000"/><circle cx="528.3" cy="104.1" r="1.95" fill="#000"/><circle cx="499.2" cy="121.9" r="1.95" fill="#f00000"/><circle cx="532.9" cy="157.6" r="1.95" fill="#f00000"/><circle cx="498.9" cy="188.8" r="1.95" fill="#f00000"/><circle cx="475.6" cy="133.6" r="1.95" fill="#000"/><circle cx="503.5" cy="191.8" r="1.95" fill="#1010f0"/><circle cx="536.0" cy="176.7" r="1.95" fill="#f00000"/><circle cx="541.4" cy="125.9" r="1.95" fill="#f00000"/><circle cx="483.1" cy="164.7" r="1.95" fill="#f00000"/><circle cx="545.0" cy="144.1" r="1.95" fill="#f00000"/><circle cx="536.4" cy="159.0" r="1.95" fill="#f00000"/><circle cx="505.8" cy="149.4" r="1.95" fill="#f00000"/><circle cx="558.8" cy="130.2" r="1.95" fill="#000"/><circle cx="562.7" cy="175.6" r="1.95" fill="#000"/><circle cx="544.0" cy="147.4" r="1.95" fill="#f00000"/><circle cx="532.6" cy="158.0" r="1.95" fill="#f00000"/><circle cx="506.2" cy="270.7" r="1.95" fill="#f00000"/><circle cx="563.6" cy="133.7" r="1.95" fill="#f00000"/><circle cx="540.1" cy="128.5" r="1.95" fill="#f00000"/><circle cx="508.9" cy="134.9" r="1.95" fill="#f00000"/><circle cx="463.2" cy="148.1" r="1.95" fill="#f00000"/><circle cx="589.5" cy="147.3" r="1.95" fill="#f00000"/><circle cx="506.5" cy="145.9" r="1.95" fill="#1010f0"/><circle cx="588.0" cy="168.3" r="1.95" fill="#000"/><circle cx="558.4" cy="165.0" r="1.95" fill="#f00000"/><circle cx="563.4" cy="179.1" r="1.95" fill="#f00000"/><circle cx="485.6" cy="135.4" r="1.95" fill="#000"/><circle cx="524.1" cy="131.4" r="1.95" fill="#000"/><circle cx="553.1" cy="169.9" r="1.95" fill="#f00000"/><circle cx="531.3" cy="122.8" r="1.95" fill="#000"/><circle cx="532.6" cy="153.9" r="1.95" fill="#f00000"/><circle cx="538.5" cy="130.3" r="1.95" fill="#f00000"/><circle cx="490.2" cy="157.7" r="1.95" fill="#f00000"/><circle cx="515.8" cy="179.4" r="1.95" fill="#f00000"/><circle cx="544.5" cy="146.0" r="1.95" fill="#000"/><circle cx="479.6" cy="168.6" r="1.95" fill="#f00000"/><circle cx="503.6" cy="133.0" r="1.95" fill="#f00000"/><circle cx="572.7" cy="175.9" r="1.95" fill="#000"/><circle cx="561.6" cy="162.7" r="1.95" fill="#f00000"/><circle cx="499.8" cy="158.9" r="1.95" fill="#000"/><circle cx="565.7" cy="141.8" r="1.95" fill="#f00000"/><circle cx="502.8" cy="139.9" r="1.95" fill="#000"/><circle cx="573.9" cy="145.2" r="1.95" fill="#f00000"/><circle cx="535.7" cy="111.2" r="1.95" fill="#f00000"/><circle cx="538.3" cy="133.4" r="1.95" fill="#f00000"/><circle cx="597.8" cy="143.0" r="1.95" fill="#000"/><circle cx="522.0" cy="125.3" r="1.95" fill="#f00000"/><circle cx="504.2" cy="153.6" r="1.95" fill="#f00000"/><circle cx="544.5" cy="164.9" r="1.95" fill="#f00000"/><circle cx="517.3" cy="136.7" r="1.95" fill="#f00000"/><circle cx="519.3" cy="177.7" r="1.95" fill="#000"/><circle cx="557.9" cy="154.0" r="1.95" fill="#000"/><circle cx="471.1" cy="151.6" r="1.95" fill="#f00000"/><circle cx="549.5" cy="145.6" r="1.95" fill="#f00000"/><circle cx="509.0" cy="168.0" r="1.95" fill="#f00000"/><circle cx="482.3" cy="128.7" r="1.95" fill="#f00000"/><circle cx="527.8" cy="119.5" r="1.95" fill="#f00000"/><circle cx="525.9" cy="136.9" r="1.95" fill="#f00000"/><circle cx="517.1" cy="158.6" r="1.95" fill="#f00000"/><circle cx="526.5" cy="140.5" r="1.95" fill="#f00000"/><circle cx="478.6" cy="164.9" r="1.95" fill="#f00000"/><circle cx="533.6" cy="110.0" r="1.95" fill="#f00000"/><circle cx="540.1" cy="115.6" r="1.95" fill="#f00000"/><circle cx="541.1" cy="157.3" r="1.95" fill="#000"/><circle cx="546.1" cy="133.5" r="1.95" fill="#f00000"/><circle cx="511.6" cy="117.1" r="1.95" fill="#f00000"/><circle cx="535.2" cy="117.9" r="1.95" fill="#000"/><circle cx="509.4" cy="128.4" r="1.95" fill="#f00000"/><circle cx="562.0" cy="129.9" r="1.95" fill="#f00000"/><circle cx="545.2" cy="185.3" r="1.95" fill="#f00000"/><circle cx="552.3" cy="172.4" r="1.95" fill="#000"/><circle cx="572.4" cy="178.2" r="1.95" fill="#f00000"/><circle cx="530.3" cy="137.5" r="1.95" fill="#000"/><circle cx="550.5" cy="135.2" r="1.95" fill="#f00000"/><circle cx="509.5" cy="156.2" r="1.95" fill="#f00000"/><circle cx="492.9" cy="132.1" r="1.95" fill="#f00000"/><circle cx="550.3" cy="138.5" r="1.95" fill="#000"/><circle cx="541.5" cy="152.3" r="1.95" fill="#f00000"/><circle cx="537.0" cy="204.7" r="1.95" fill="#f00000"/><circle cx="546.8" cy="143.4" r="1.95" fill="#f00000"/><circle cx="546.7" cy="181.9" r="1.95" fill="#f00000"/><circle cx="523.5" cy="148.8" r="1.95" fill="#f00000"/><circle cx="541.3" cy="120.6" r="1.95" fill="#000"/><circle cx="547.2" cy="171.5" r="1.95" fill="#f00000"/><circle cx="525.3" cy="122.6" r="1.95" fill="#f00000"/><circle cx="501.8" cy="145.9" r="1.95" fill="#f00000"/><circle cx="532.8" cy="146.9" r="1.95" fill="#f00000"/><circle cx="556.1" cy="135.8" r="1.95" fill="#f00000"/><circle cx="515.6" cy="159.9" r="1.95" fill="#1010f0"/><circle cx="529.3" cy="85.5" r="1.95" fill="#000"/><circle cx="520.7" cy="141.7" r="1.95" fill="#f00000"/><circle cx="559.8" cy="148.9" r="1.95" fill="#f00000"/><circle cx="543.9" cy="150.6" r="1.95" fill="#f00000"/><circle cx="531.0" cy="180.6" r="1.95" fill="#f00000"/><circle cx="560.4" cy="139.4" r="1.95" fill="#f00000"/><circle cx="464.2" cy="169.6" r="1.95" fill="#f00000"/><circle cx="571.2" cy="167.1" r="1.95" fill="#f00000"/><circle cx="501.6" cy="162.2" r="1.95" fill="#f00000"/><circle cx="485.5" cy="141.3" r="1.95" fill="#f00000"/><circle cx="507.9" cy="143.8" r="1.95" fill="#f00000"/><circle cx="562.5" cy="157.8" r="1.95" fill="#f00000"/><circle cx="543.5" cy="132.7" r="1.95" fill="#f00000"/><circle cx="538.6" cy="139.0" r="1.95" fill="#f00000"/><circle cx="535.9" cy="171.4" r="1.95" fill="#f00000"/><circle cx="534.0" cy="196.9" r="1.95" fill="#f00000"/><circle cx="513.6" cy="175.8" r="1.95" fill="#f00000"/><circle cx="492.3" cy="184.1" r="1.95" fill="#f00000"/><circle cx="571.3" cy="142.7" r="1.95" fill="#f00000"/><circle cx="567.7" cy="104.8" r="1.95" fill="#000"/><circle cx="496.0" cy="140.7" r="1.95" fill="#f00000"/><circle cx="545.2" cy="154.1" r="1.95" fill="#f00000"/><circle cx="543.7" cy="117.5" r="1.95" fill="#000"/><circle cx="560.5" cy="153.6" r="1.95" fill="#000"/><circle cx="523.6" cy="164.6" r="1.95" fill="#f00000"/><circle cx="513.8" cy="121.2" r="1.95" fill="#000"/><circle cx="510.1" cy="189.4" r="1.95" fill="#f00000"/><circle cx="510.0" cy="130.2" r="1.95" fill="#f00000"/><circle cx="557.5" cy="145.2" r="1.95" fill="#f00000"/><circle cx="546.2" cy="157.7" r="1.95" fill="#f00000"/><circle cx="418.2" cy="182.7" r="1.95" fill="#f00000"/><circle cx="486.5" cy="167.2" r="1.95" fill="#f00000"/><circle cx="541.1" cy="115.5" r="1.95" fill="#f00000"/><circle cx="545.8" cy="124.0" r="1.95" fill="#f00000"/><circle cx="560.1" cy="122.2" r="1.95" fill="#000"/><circle cx="591.8" cy="98.0" r="1.95" fill="#f00000"/><circle cx="519.5" cy="148.2" r="1.95" fill="#000"/><circle cx="538.6" cy="159.9" r="1.95" fill="#000"/><circle cx="541.2" cy="171.6" r="1.95" fill="#f00000"/><circle cx="507.2" cy="167.0" r="1.95" fill="#000"/><circle cx="506.6" cy="183.1" r="1.95" fill="#000"/><circle cx="544.2" cy="149.7" r="1.95" fill="#000"/><circle cx="538.7" cy="173.2" r="1.95" fill="#f00000"/><circle cx="520.5" cy="161.3" r="1.95" fill="#f00000"/><circle cx="544.3" cy="158.8" r="1.95" fill="#f00000"/><circle cx="500.7" cy="136.5" r="1.95" fill="#1010f0"/><circle cx="527.0" cy="135.6" r="1.95" fill="#000"/><circle cx="542.4" cy="184.6" r="1.95" fill="#f00000"/><circle cx="491.2" cy="188.9" r="1.95" fill="#f00000"/><circle cx="539.9" cy="151.8" r="1.95" fill="#f00000"/><circle cx="488.2" cy="132.7" r="1.95" fill="#1010f0"/><circle cx="542.3" cy="166.5" r="1.95" fill="#000"/><circle cx="531.2" cy="135.2" r="1.95" fill="#f00000"/><circle cx="509.1" cy="127.0" r="1.95" fill="#f00000"/><circle cx="528.7" cy="176.7" r="1.95" fill="#f00000"/><circle cx="492.3" cy="125.9" r="1.95" fill="#f00000"/><circle cx="585.3" cy="129.1" r="1.95" fill="#f00000"/><circle cx="531.4" cy="153.0" r="1.95" fill="#f00000"/><circle cx="535.2" cy="137.2" r="1.95" fill="#000"/><circle cx="557.7" cy="107.5" r="1.95" fill="#f00000"/><circle cx="542.4" cy="119.6" r="1.95" fill="#f00000"/><circle cx="559.6" cy="141.6" r="1.95" fill="#f00000"/><circle cx="508.4" cy="164.8" r="1.95" fill="#f00000"/><circle cx="502.7" cy="125.2" r="1.95" fill="#f00000"/><circle cx="535.0" cy="173.3" r="1.95" fill="#000"/><circle cx="478.0" cy="117.8" r="1.95" fill="#000"/><circle cx="468.8" cy="190.8" r="1.95" fill="#f00000"/><circle cx="495.1" cy="167.0" r="1.95" fill="#f00000"/><circle cx="531.3" cy="187.6" r="1.95" fill="#f00000"/><circle cx="531.9" cy="116.0" r="1.95" fill="#f00000"/><circle cx="515.9" cy="151.8" r="1.95" fill="#f00000"/><circle cx="523.2" cy="146.2" r="1.95" fill="#f00000"/><circle cx="514.4" cy="162.5" r="1.95" fill="#f00000"/><circle cx="571.0" cy="212.8" r="1.95" fill="#f00000"/><circle cx="523.9" cy="135.9" r="1.95" fill="#f00000"/><circle cx="541.3" cy="119.3" r="1.95" fill="#000"/><circle cx="581.8" cy="129.0" r="1.95" fill="#f00000"/><circle cx="537.9" cy="114.7" r="1.95" fill="#f00000"/><circle cx="499.3" cy="103.4" r="1.95" fill="#f00000"/><circle cx="491.4" cy="182.9" r="1.95" fill="#f00000"/><circle cx="530.5" cy="120.1" r="1.95" fill="#000"/><circle cx="527.0" cy="156.7" r="1.95" fill="#000"/><circle cx="528.9" cy="182.5" r="1.95" fill="#f00000"/><circle cx="553.6" cy="136.2" r="1.95" fill="#000"/><circle cx="483.8" cy="154.0" r="1.95" fill="#f00000"/><circle cx="501.0" cy="135.8" r="1.95" fill="#000"/><circle cx="531.2" cy="133.6" r="1.95" fill="#000"/><circle cx="517.7" cy="171.1" r="1.95" fill="#f00000"/><circle cx="507.0" cy="190.3" r="1.95" fill="#f00000"/><circle cx="514.1" cy="125.6" r="1.95" fill="#f00000"/><circle cx="537.2" cy="127.2" r="1.95" fill="#f00000"/><circle cx="519.5" cy="107.0" r="1.95" fill="#f00000"/><circle cx="518.5" cy="121.6" r="1.95" fill="#f00000"/><circle cx="531.9" cy="135.0" r="1.95" fill="#f00000"/><circle cx="549.5" cy="145.8" r="1.95" fill="#f00000"/><circle cx="459.8" cy="120.2" r="1.95" fill="#000"/><circle cx="530.1" cy="170.0" r="1.95" fill="#f00000"/><circle cx="511.3" cy="108.7" r="1.95" fill="#000"/><circle cx="485.1" cy="161.0" r="1.95" fill="#000"/><circle cx="569.0" cy="134.7" r="1.95" fill="#000"/><circle cx="486.3" cy="172.7" r="1.95" fill="#f00000"/><circle cx="632.1" cy="169.8" r="1.95" fill="#000"/><circle cx="510.9" cy="201.4" r="1.95" fill="#f00000"/><circle cx="500.3" cy="157.2" r="1.95" fill="#1010f0"/><circle cx="547.5" cy="160.4" r="1.95" fill="#f00000"/><circle cx="527.3" cy="115.6" r="1.95" fill="#f00000"/><circle cx="524.0" cy="197.6" r="1.95" fill="#f00000"/><circle cx="569.7" cy="189.4" r="1.95" fill="#f00000"/><circle cx="503.4" cy="153.2" r="1.95" fill="#f00000"/><circle cx="541.5" cy="165.1" r="1.95" fill="#000"/><circle cx="504.7" cy="159.2" r="1.95" fill="#f00000"/><circle cx="571.3" cy="115.9" r="1.95" fill="#000"/><circle cx="551.4" cy="209.8" r="1.95" fill="#f00000"/><circle cx="527.5" cy="126.9" r="1.95" fill="#000"/><circle cx="513.5" cy="161.5" r="1.95" fill="#f00000"/><circle cx="524.9" cy="161.9" r="1.95" fill="#f00000"/><circle cx="570.4" cy="141.7" r="1.95" fill="#f00000"/><circle cx="545.4" cy="164.9" r="1.95" fill="#f00000"/><circle cx="565.5" cy="140.6" r="1.95" fill="#f00000"/><circle cx="535.8" cy="131.1" r="1.95" fill="#f00000"/><circle cx="531.3" cy="147.0" r="1.95" fill="#f00000"/><circle cx="520.3" cy="167.7" r="1.95" fill="#f00000"/><circle cx="534.1" cy="137.0" r="1.95" fill="#f00000"/><circle cx="484.4" cy="132.5" r="1.95" fill="#f00000"/><circle cx="525.9" cy="136.2" r="1.95" fill="#f00000"/><circle cx="576.6" cy="145.1" r="1.95" fill="#f00000"/><circle cx="542.9" cy="133.8" r="1.95" fill="#f00000"/><circle cx="540.8" cy="167.1" r="1.95" fill="#f00000"/><circle cx="530.5" cy="149.6" r="1.95" fill="#f00000"/><circle cx="497.4" cy="158.8" r="1.95" fill="#f00000"/><circle cx="508.7" cy="31.2" r="1.95" fill="#f00000"/><circle cx="571.8" cy="168.7" r="1.95" fill="#f00000"/><circle cx="490.9" cy="133.6" r="1.95" fill="#f00000"/><circle cx="576.6" cy="92.4" r="1.95" fill="#000"/><circle cx="550.0" cy="167.6" r="1.95" fill="#f00000"/><circle cx="492.7" cy="160.0" r="1.95" fill="#000"/><circle cx="533.1" cy="191.1" r="1.95" fill="#f00000"/><circle cx="569.7" cy="137.3" r="1.95" fill="#f00000"/><circle cx="543.1" cy="145.2" r="1.95" fill="#f00000"/><circle cx="485.8" cy="139.2" r="1.95" fill="#000"/><circle cx="530.2" cy="155.1" r="1.95" fill="#000"/><circle cx="506.5" cy="156.0" r="1.95" fill="#f00000"/><circle cx="518.0" cy="161.3" r="1.95" fill="#1010f0"/><circle cx="506.9" cy="153.7" r="1.95" fill="#f00000"/><circle cx="524.9" cy="126.6" r="1.95" fill="#f00000"/><circle cx="501.1" cy="114.4" r="1.95" fill="#f00000"/><circle cx="523.6" cy="154.9" r="1.95" fill="#f00000"/><circle cx="568.8" cy="151.9" r="1.95" fill="#f00000"/><circle cx="472.2" cy="154.1" r="1.95" fill="#f00000"/><circle cx="576.3" cy="146.6" r="1.95" fill="#f00000"/><circle cx="523.1" cy="152.6" r="1.95" fill="#f00000"/><circle cx="519.9" cy="125.6" r="1.95" fill="#1010f0"/><circle cx="530.7" cy="161.2" r="1.95" fill="#f00000"/><circle cx="557.8" cy="159.7" r="1.95" fill="#f00000"/><circle cx="594.9" cy="157.8" r="1.95" fill="#f00000"/><circle cx="504.7" cy="182.9" r="1.95" fill="#f00000"/><circle cx="535.7" cy="170.4" r="1.95" fill="#f00000"/><circle cx="519.3" cy="167.0" r="1.95" fill="#f00000"/><circle cx="532.2" cy="102.3" r="1.95" fill="#f00000"/><circle cx="530.7" cy="151.5" r="1.95" fill="#f00000"/><circle cx="513.0" cy="117.5" r="1.95" fill="#f00000"/><circle cx="542.5" cy="114.3" r="1.95" fill="#f00000"/><circle cx="521.8" cy="188.4" r="1.95" fill="#f00000"/><circle cx="478.2" cy="120.5" r="1.95" fill="#f00000"/><circle cx="521.6" cy="137.4" r="1.95" fill="#000"/><circle cx="568.2" cy="165.4" r="1.95" fill="#f00000"/><circle cx="474.7" cy="193.4" r="1.95" fill="#000"/><circle cx="544.9" cy="120.4" r="1.95" fill="#f00000"/><circle cx="530.2" cy="158.6" r="1.95" fill="#f00000"/><circle cx="470.0" cy="172.0" r="1.95" fill="#1010f0"/><circle cx="518.2" cy="153.2" r="1.95" fill="#f00000"/><circle cx="508.6" cy="170.4" r="1.95" fill="#f00000"/><circle cx="508.7" cy="146.2" r="1.95" fill="#f00000"/><circle cx="529.2" cy="152.9" r="1.95" fill="#f00000"/><circle cx="575.5" cy="160.3" r="1.95" fill="#f00000"/><circle cx="543.1" cy="132.1" r="1.95" fill="#000"/><circle cx="496.8" cy="142.0" r="1.95" fill="#f00000"/><circle cx="512.3" cy="178.3" r="1.95" fill="#f00000"/><circle cx="541.9" cy="185.4" r="1.95" fill="#f00000"/><circle cx="559.2" cy="163.5" r="1.95" fill="#f00000"/><circle cx="507.1" cy="170.3" r="1.95" fill="#f00000"/><circle cx="474.4" cy="166.1" r="1.95" fill="#f00000"/><circle cx="518.2" cy="101.8" r="1.95" fill="#000"/><circle cx="549.0" cy="166.1" r="1.95" fill="#f00000"/><circle cx="518.6" cy="134.5" r="1.95" fill="#1010f0"/><circle cx="555.5" cy="159.0" r="1.95" fill="#000"/><circle cx="555.0" cy="159.0" r="1.95" fill="#f00000"/><circle cx="536.5" cy="158.3" r="1.95" fill="#000"/><circle cx="568.3" cy="120.5" r="1.95" fill="#f00000"/><circle cx="546.3" cy="143.4" r="1.95" fill="#f00000"/><circle cx="548.9" cy="134.6" r="1.95" fill="#000"/><circle cx="513.8" cy="149.8" r="1.95" fill="#000"/><circle cx="486.9" cy="183.8" r="1.95" fill="#f00000"/><circle cx="523.9" cy="173.7" r="1.95" fill="#f00000"/><circle cx="490.4" cy="147.5" r="1.95" fill="#000"/><circle cx="539.4" cy="178.9" r="1.95" fill="#f00000"/><circle cx="527.5" cy="136.8" r="1.95" fill="#f00000"/><circle cx="535.7" cy="173.1" r="1.95" fill="#f00000"/><circle cx="610.4" cy="124.8" r="1.95" fill="#f00000"/><circle cx="526.9" cy="114.1" r="1.95" fill="#f00000"/><circle cx="551.3" cy="156.6" r="1.95" fill="#f00000"/><circle cx="559.0" cy="108.8" r="1.95" fill="#f00000"/><circle cx="517.6" cy="128.8" r="1.95" fill="#f00000"/><circle cx="549.9" cy="132.2" r="1.95" fill="#1010f0"/><circle cx="557.4" cy="131.1" r="1.95" fill="#000"/><circle cx="545.5" cy="136.9" r="1.95" fill="#000"/><circle cx="500.1" cy="158.7" r="1.95" fill="#f00000"/><circle cx="535.5" cy="141.2" r="1.95" fill="#000"/><circle cx="582.0" cy="151.7" r="1.95" fill="#f00000"/><circle cx="555.8" cy="164.6" r="1.95" fill="#f00000"/><circle cx="534.3" cy="174.6" r="1.95" fill="#f00000"/><circle cx="515.4" cy="155.2" r="1.95" fill="#f00000"/><circle cx="500.0" cy="138.7" r="1.95" fill="#000"/><circle cx="485.9" cy="178.4" r="1.95" fill="#f00000"/><circle cx="514.7" cy="141.9" r="1.95" fill="#f00000"/><circle cx="523.2" cy="97.2" r="1.95" fill="#f00000"/><circle cx="490.5" cy="125.3" r="1.95" fill="#f00000"/><circle cx="521.2" cy="147.1" r="1.95" fill="#000"/><circle cx="488.9" cy="135.5" r="1.95" fill="#000"/><circle cx="510.4" cy="137.1" r="1.95" fill="#f00000"/><circle cx="524.0" cy="168.5" r="1.95" fill="#f00000"/><circle cx="548.3" cy="170.8" r="1.95" fill="#f00000"/><circle cx="501.1" cy="130.2" r="1.95" fill="#f00000"/><circle cx="515.2" cy="221.9" r="1.95" fill="#f00000"/><circle cx="521.2" cy="139.3" r="1.95" fill="#000"/><circle cx="561.4" cy="158.6" r="1.95" fill="#f00000"/><circle cx="545.2" cy="152.5" r="1.95" fill="#000"/><circle cx="506.2" cy="221.1" r="1.95" fill="#f00000"/><circle cx="560.8" cy="165.9" r="1.95" fill="#000"/><circle cx="549.2" cy="156.1" r="1.95" fill="#f00000"/><circle cx="532.9" cy="120.5" r="1.95" fill="#f00000"/><circle cx="540.7" cy="132.1" r="1.95" fill="#f00000"/><circle cx="502.3" cy="157.0" r="1.95" fill="#f00000"/><circle cx="548.9" cy="196.5" r="1.95" fill="#f00000"/><circle cx="505.4" cy="159.9" r="1.95" fill="#f00000"/><circle cx="446.9" cy="190.6" r="1.95" fill="#f00000"/><circle cx="520.0" cy="134.2" r="1.95" fill="#f00000"/><circle cx="508.5" cy="200.1" r="1.95" fill="#f00000"/><circle cx="489.5" cy="171.2" r="1.95" fill="#f00000"/><circle cx="566.2" cy="137.4" r="1.95" fill="#f00000"/><circle cx="548.0" cy="132.8" r="1.95" fill="#f00000"/><circle cx="550.2" cy="92.4" r="1.95" fill="#f00000"/><circle cx="553.4" cy="160.5" r="1.95" fill="#f00000"/><circle cx="528.5" cy="141.2" r="1.95" fill="#f00000"/><circle cx="554.0" cy="138.8" r="1.95" fill="#f00000"/><circle cx="541.6" cy="134.0" r="1.95" fill="#000"/><circle cx="512.2" cy="153.1" r="1.95" fill="#f00000"/><circle cx="506.1" cy="186.4" r="1.95" fill="#f00000"/><circle cx="546.2" cy="135.1" r="1.95" fill="#f00000"/><circle cx="553.4" cy="164.9" r="1.95" fill="#f00000"/><circle cx="526.0" cy="191.4" r="1.95" fill="#f00000"/><circle cx="514.3" cy="135.2" r="1.95" fill="#1010f0"/><circle cx="575.2" cy="159.8" r="1.95" fill="#000"/><circle cx="492.8" cy="191.3" r="1.95" fill="#f00000"/><circle cx="559.1" cy="116.8" r="1.95" fill="#000"/><circle cx="476.7" cy="137.1" r="1.95" fill="#f00000"/><circle cx="555.6" cy="167.5" r="1.95" fill="#000"/><circle cx="537.4" cy="125.6" r="1.95" fill="#f00000"/><circle cx="548.6" cy="144.9" r="1.95" fill="#000"/><circle cx="519.4" cy="148.6" r="1.95" fill="#f00000"/><circle cx="536.0" cy="156.1" r="1.95" fill="#000"/><circle cx="548.9" cy="106.5" r="1.95" fill="#f00000"/><circle cx="507.2" cy="134.5" r="1.95" fill="#f00000"/><circle cx="529.3" cy="148.0" r="1.95" fill="#f00000"/><circle cx="522.0" cy="150.5" r="1.95" fill="#f00000"/><circle cx="562.2" cy="164.2" r="1.95" fill="#f00000"/><circle cx="549.1" cy="148.3" r="1.95" fill="#000"/><circle cx="537.8" cy="162.3" r="1.95" fill="#1010f0"/><circle cx="499.5" cy="159.3" r="1.95" fill="#000"/><circle cx="533.4" cy="139.4" r="1.95" fill="#000"/><circle cx="581.1" cy="156.1" r="1.95" fill="#000"/><circle cx="522.9" cy="166.1" r="1.95" fill="#f00000"/><circle cx="508.0" cy="148.6" r="1.95" fill="#f00000"/><circle cx="526.5" cy="160.9" r="1.95" fill="#000"/><circle cx="530.2" cy="129.3" r="1.95" fill="#f00000"/><circle cx="522.7" cy="142.5" r="1.95" fill="#1010f0"/><circle cx="470.7" cy="166.1" r="1.95" fill="#000"/><circle cx="611.8" cy="173.5" r="1.95" fill="#000"/><circle cx="509.8" cy="165.6" r="1.95" fill="#f00000"/><circle cx="482.7" cy="184.0" r="1.95" fill="#000"/><circle cx="589.9" cy="145.6" r="1.95" fill="#f00000"/><circle cx="556.6" cy="161.9" r="1.95" fill="#f00000"/><circle cx="546.4" cy="146.1" r="1.95" fill="#f00000"/><circle cx="529.0" cy="168.6" r="1.95" fill="#f00000"/><circle cx="538.4" cy="117.0" r="1.95" fill="#000"/><circle cx="526.4" cy="186.8" r="1.95" fill="#1010f0"/><circle cx="548.7" cy="140.0" r="1.95" fill="#f00000"/><circle cx="467.6" cy="144.6" r="1.95" fill="#000"/><circle cx="524.8" cy="156.9" r="1.95" fill="#f00000"/><circle cx="509.3" cy="149.2" r="1.95" fill="#f00000"/><circle cx="546.2" cy="120.7" r="1.95" fill="#f00000"/><circle cx="539.4" cy="158.9" r="1.95" fill="#f00000"/><circle cx="535.3" cy="125.8" r="1.95" fill="#f00000"/><circle cx="537.9" cy="126.4" r="1.95" fill="#f00000"/><circle cx="535.0" cy="91.7" r="1.95" fill="#000"/><circle cx="583.2" cy="168.8" r="1.95" fill="#f00000"/><circle cx="532.9" cy="202.5" r="1.95" fill="#f00000"/><circle cx="548.5" cy="164.4" r="1.95" fill="#000"/><circle cx="548.1" cy="129.6" r="1.95" fill="#000"/><circle cx="546.2" cy="158.0" r="1.95" fill="#000"/><circle cx="582.2" cy="156.9" r="1.95" fill="#1010f0"/><circle cx="515.9" cy="120.6" r="1.95" fill="#f00000"/><circle cx="514.6" cy="166.5" r="1.95" fill="#f00000"/><circle cx="514.2" cy="137.0" r="1.95" fill="#000"/><circle cx="535.7" cy="130.6" r="1.95" fill="#f00000"/><circle cx="562.0" cy="145.4" r="1.95" fill="#000"/><circle cx="513.2" cy="191.7" r="1.95" fill="#000"/><circle cx="497.1" cy="162.8" r="1.95" fill="#f00000"/><circle cx="518.1" cy="137.1" r="1.95" fill="#000"/><circle cx="524.6" cy="145.2" r="1.95" fill="#f00000"/><circle cx="525.5" cy="170.3" r="1.95" fill="#f00000"/><circle cx="482.2" cy="156.3" r="1.95" fill="#1010f0"/><circle cx="529.3" cy="223.0" r="1.95" fill="#f00000"/><circle cx="500.5" cy="140.8" r="1.95" fill="#f00000"/><circle cx="568.0" cy="142.3" r="1.95" fill="#f00000"/><circle cx="534.8" cy="105.1" r="1.95" fill="#f00000"/><circle cx="498.9" cy="170.3" r="1.95" fill="#f00000"/><circle cx="498.0" cy="171.4" r="1.95" fill="#f00000"/><circle cx="519.0" cy="140.3" r="1.95" fill="#000"/><circle cx="576.6" cy="182.7" r="1.95" fill="#f00000"/><circle cx="582.6" cy="207.3" r="1.95" fill="#f00000"/><circle cx="463.5" cy="113.3" r="1.95" fill="#000"/><circle cx="522.6" cy="196.9" r="1.95" fill="#f00000"/><circle cx="568.8" cy="161.8" r="1.95" fill="#f00000"/><circle cx="531.6" cy="165.2" r="1.95" fill="#f00000"/><circle cx="488.2" cy="125.0" r="1.95" fill="#f00000"/><circle cx="563.8" cy="131.2" r="1.95" fill="#f00000"/><circle cx="550.9" cy="158.7" r="1.95" fill="#f00000"/><circle cx="531.7" cy="113.0" r="1.95" fill="#f00000"/><circle cx="508.6" cy="154.2" r="1.95" fill="#f00000"/><circle cx="481.7" cy="136.0" r="1.95" fill="#f00000"/><circle cx="545.2" cy="150.6" r="1.95" fill="#f00000"/><circle cx="556.5" cy="175.9" r="1.95" fill="#f00000"/><circle cx="510.9" cy="181.9" r="1.95" fill="#1010f0"/><circle cx="541.1" cy="190.1" r="1.95" fill="#f00000"/><circle cx="520.1" cy="147.7" r="1.95" fill="#000"/><circle cx="551.9" cy="161.9" r="1.95" fill="#f00000"/><circle cx="557.0" cy="144.4" r="1.95" fill="#f00000"/><circle cx="505.7" cy="100.5" r="1.95" fill="#f00000"/><circle cx="533.3" cy="146.7" r="1.95" fill="#000"/><circle cx="559.4" cy="137.4" r="1.95" fill="#f00000"/><circle cx="485.9" cy="128.6" r="1.95" fill="#f00000"/><circle cx="499.5" cy="162.6" r="1.95" fill="#f00000"/><circle cx="533.7" cy="135.9" r="1.95" fill="#f00000"/><circle cx="534.6" cy="156.7" r="1.95" fill="#000"/><circle cx="540.4" cy="143.3" r="1.95" fill="#f00000"/><circle cx="510.1" cy="122.6" r="1.95" fill="#f00000"/><circle cx="515.0" cy="116.0" r="1.95" fill="#f00000"/><circle cx="536.9" cy="149.6" r="1.95" fill="#f00000"/><circle cx="503.3" cy="123.3" r="1.95" fill="#f00000"/><circle cx="526.1" cy="130.7" r="1.95" fill="#f00000"/><circle cx="569.1" cy="176.4" r="1.95" fill="#f00000"/><circle cx="569.5" cy="167.9" r="1.95" fill="#f00000"/><circle cx="491.6" cy="144.5" r="1.95" fill="#f00000"/><circle cx="496.2" cy="132.9" r="1.95" fill="#f00000"/><circle cx="532.1" cy="167.6" r="1.95" fill="#000"/><circle cx="578.9" cy="117.0" r="1.95" fill="#f00000"/><circle cx="531.4" cy="131.6" r="1.95" fill="#f00000"/><circle cx="509.7" cy="107.8" r="1.95" fill="#f00000"/><circle cx="522.2" cy="175.5" r="1.95" fill="#f00000"/><circle cx="525.8" cy="112.4" r="1.95" fill="#000"/><circle cx="532.2" cy="95.3" r="1.95" fill="#000"/><circle cx="526.6" cy="173.9" r="1.95" fill="#f00000"/><circle cx="562.8" cy="156.2" r="1.95" fill="#1010f0"/><circle cx="485.3" cy="80.8" r="1.95" fill="#f00000"/><circle cx="510.7" cy="170.7" r="1.95" fill="#f00000"/><circle cx="455.2" cy="102.6" r="1.95" fill="#000"/><circle cx="539.4" cy="149.8" r="1.95" fill="#f00000"/><circle cx="487.5" cy="128.7" r="1.95" fill="#000"/><circle cx="545.5" cy="139.8" r="1.95" fill="#f00000"/><circle cx="580.1" cy="146.6" r="1.95" fill="#f00000"/><circle cx="511.1" cy="174.5" r="1.95" fill="#f00000"/><circle cx="539.9" cy="161.4" r="1.95" fill="#000"/><circle cx="398.7" cy="129.5" r="1.95" fill="#f00000"/><circle cx="510.4" cy="158.9" r="1.95" fill="#f00000"/><circle cx="580.7" cy="180.2" r="1.95" fill="#f00000"/><circle cx="521.8" cy="117.5" r="1.95" fill="#f00000"/><circle cx="489.8" cy="185.3" r="1.95" fill="#f00000"/><circle cx="598.8" cy="179.5" r="1.95" fill="#1010f0"/><circle cx="486.1" cy="160.9" r="1.95" fill="#000"/><circle cx="562.8" cy="147.4" r="1.95" fill="#000"/><circle cx="540.1" cy="163.9" r="1.95" fill="#f00000"/><circle cx="481.7" cy="143.0" r="1.95" fill="#f00000"/><circle cx="564.5" cy="141.4" r="1.95" fill="#f00000"/><circle cx="540.8" cy="131.7" r="1.95" fill="#f00000"/><circle cx="541.5" cy="125.6" r="1.95" fill="#f00000"/><circle cx="479.5" cy="149.9" r="1.95" fill="#f00000"/><circle cx="560.1" cy="168.7" r="1.95" fill="#000"/><circle cx="542.6" cy="211.3" r="1.95" fill="#f00000"/><circle cx="593.2" cy="148.6" r="1.95" fill="#000"/><circle cx="541.7" cy="146.2" r="1.95" fill="#f00000"/><circle cx="527.6" cy="119.9" r="1.95" fill="#f00000"/><circle cx="544.9" cy="160.5" r="1.95" fill="#f00000"/><circle cx="472.7" cy="192.5" r="1.95" fill="#f00000"/><circle cx="537.6" cy="100.8" r="1.95" fill="#000"/><circle cx="498.7" cy="118.4" r="1.95" fill="#f00000"/><circle cx="550.1" cy="129.2" r="1.95" fill="#000"/><circle cx="516.6" cy="102.7" r="1.95" fill="#000"/><circle cx="492.7" cy="125.7" r="1.95" fill="#f00000"/><circle cx="573.0" cy="181.6" r="1.95" fill="#f00000"/><circle cx="514.5" cy="165.7" r="1.95" fill="#f00000"/><circle cx="531.2" cy="127.6" r="1.95" fill="#f00000"/><circle cx="517.5" cy="145.0" r="1.95" fill="#f00000"/><circle cx="565.8" cy="141.9" r="1.95" fill="#f00000"/><circle cx="536.8" cy="170.4" r="1.95" fill="#f00000"/><circle cx="549.4" cy="146.7" r="1.95" fill="#f00000"/><circle cx="496.3" cy="119.3" r="1.95" fill="#f00000"/><circle cx="573.3" cy="92.4" r="1.95" fill="#000"/><circle cx="545.8" cy="135.9" r="1.95" fill="#f00000"/><circle cx="556.9" cy="155.3" r="1.95" fill="#f00000"/><circle cx="478.9" cy="162.6" r="1.95" fill="#000"/><circle cx="508.3" cy="145.3" r="1.95" fill="#1010f0"/><circle cx="546.7" cy="166.3" r="1.95" fill="#f00000"/><circle cx="578.7" cy="184.4" r="1.95" fill="#f00000"/><circle cx="592.3" cy="163.4" r="1.95" fill="#f00000"/><circle cx="538.2" cy="157.1" r="1.95" fill="#f00000"/><circle cx="497.0" cy="157.2" r="1.95" fill="#f00000"/><circle cx="557.7" cy="176.2" r="1.95" fill="#000"/><circle cx="507.3" cy="151.5" r="1.95" fill="#f00000"/><circle cx="525.7" cy="164.9" r="1.95" fill="#f00000"/><circle cx="556.2" cy="116.0" r="1.95" fill="#f00000"/><circle cx="544.1" cy="177.1" r="1.95" fill="#f00000"/><circle cx="512.1" cy="126.8" r="1.95" fill="#f00000"/><circle cx="538.8" cy="156.1" r="1.95" fill="#f00000"/><circle cx="550.3" cy="128.8" r="1.95" fill="#000"/><circle cx="568.0" cy="150.9" r="1.95" fill="#000"/><circle cx="501.5" cy="222.1" r="1.95" fill="#000"/><circle cx="551.2" cy="141.4" r="1.95" fill="#f00000"/><circle cx="560.9" cy="181.6" r="1.95" fill="#f00000"/><circle cx="540.5" cy="142.5" r="1.95" fill="#f00000"/><circle cx="554.4" cy="141.6" r="1.95" fill="#f00000"/><circle cx="508.8" cy="133.7" r="1.95" fill="#f00000"/><circle cx="544.4" cy="153.8" r="1.95" fill="#1010f0"/><circle cx="501.9" cy="173.5" r="1.95" fill="#000"/><circle cx="574.3" cy="114.3" r="1.95" fill="#1010f0"/><circle cx="501.9" cy="151.2" r="1.95" fill="#f00000"/><circle cx="540.8" cy="151.1" r="1.95" fill="#f00000"/><circle cx="508.9" cy="154.0" r="1.95" fill="#1010f0"/><circle cx="576.4" cy="110.2" r="1.95" fill="#f00000"/><circle cx="513.8" cy="135.1" r="1.95" fill="#f00000"/><circle cx="531.2" cy="133.7" r="1.95" fill="#f00000"/><circle cx="514.7" cy="150.7" r="1.95" fill="#f00000"/><circle cx="519.7" cy="145.8" r="1.95" fill="#f00000"/><circle cx="535.3" cy="154.0" r="1.95" fill="#f00000"/><circle cx="533.7" cy="174.0" r="1.95" fill="#f00000"/><circle cx="532.7" cy="165.9" r="1.95" fill="#f00000"/><circle cx="579.4" cy="145.6" r="1.95" fill="#000"/><circle cx="566.3" cy="147.0" r="1.95" fill="#000"/><circle cx="538.8" cy="152.2" r="1.95" fill="#f00000"/><circle cx="533.7" cy="119.5" r="1.95" fill="#1010f0"/><circle cx="495.1" cy="171.0" r="1.95" fill="#f00000"/><circle cx="503.0" cy="161.7" r="1.95" fill="#f00000"/><circle cx="489.6" cy="123.7" r="1.95" fill="#f00000"/><circle cx="554.8" cy="150.0" r="1.95" fill="#f00000"/><circle cx="540.5" cy="177.5" r="1.95" fill="#f00000"/><circle cx="542.8" cy="142.3" r="1.95" fill="#f00000"/><circle cx="554.5" cy="172.9" r="1.95" fill="#000"/><circle cx="526.9" cy="157.5" r="1.95" fill="#f00000"/><circle cx="504.0" cy="174.7" r="1.95" fill="#f00000"/><circle cx="543.1" cy="142.9" r="1.95" fill="#000"/><circle cx="516.5" cy="175.7" r="1.95" fill="#000"/><circle cx="531.9" cy="140.5" r="1.95" fill="#f00000"/><circle cx="569.4" cy="165.9" r="1.95" fill="#000"/><circle cx="478.0" cy="154.6" r="1.95" fill="#f00000"/><circle cx="540.5" cy="128.0" r="1.95" fill="#f00000"/><circle cx="494.9" cy="184.0" r="1.95" fill="#f00000"/><circle cx="498.5" cy="160.6" r="1.95" fill="#f00000"/><circle cx="566.5" cy="137.9" r="1.95" fill="#000"/><circle cx="534.2" cy="161.9" r="1.95" fill="#f00000"/><circle cx="540.9" cy="164.5" r="1.95" fill="#000"/><circle cx="476.7" cy="157.8" r="1.95" fill="#f00000"/><circle cx="515.3" cy="172.1" r="1.95" fill="#f00000"/><circle cx="579.4" cy="147.2" r="1.95" fill="#f00000"/><circle cx="535.7" cy="136.0" r="1.95" fill="#1010f0"/><circle cx="534.2" cy="128.6" r="1.95" fill="#000"/><circle cx="549.0" cy="35.3" r="1.95" fill="#000"/><circle cx="567.1" cy="140.6" r="1.95" fill="#f00000"/><circle cx="498.3" cy="154.8" r="1.95" fill="#f00000"/><circle cx="534.6" cy="166.3" r="1.95" fill="#f00000"/><circle cx="516.4" cy="175.7" r="1.95" fill="#f00000"/><circle cx="527.8" cy="149.5" r="1.95" fill="#f00000"/><circle cx="540.6" cy="176.9" r="1.95" fill="#000"/><circle cx="540.6" cy="169.9" r="1.95" fill="#f00000"/><circle cx="504.3" cy="156.0" r="1.95" fill="#f00000"/><circle cx="495.1" cy="133.6" r="1.95" fill="#f00000"/><circle cx="523.1" cy="132.1" r="1.95" fill="#f00000"/><circle cx="519.3" cy="153.5" r="1.95" fill="#f00000"/><circle cx="527.8" cy="201.3" r="1.95" fill="#000"/><circle cx="498.6" cy="134.3" r="1.95" fill="#000"/><circle cx="554.0" cy="190.9" r="1.95" fill="#f00000"/><circle cx="538.5" cy="185.4" r="1.95" fill="#f00000"/><circle cx="536.3" cy="142.4" r="1.95" fill="#1010f0"/><circle cx="495.4" cy="130.6" r="1.95" fill="#000"/><circle cx="543.6" cy="140.9" r="1.95" fill="#f00000"/><circle cx="548.7" cy="159.3" r="1.95" fill="#f00000"/><circle cx="531.6" cy="156.4" r="1.95" fill="#f00000"/><circle cx="538.8" cy="103.2" r="1.95" fill="#f00000"/><circle cx="500.3" cy="172.8" r="1.95" fill="#f00000"/><circle cx="499.0" cy="159.5" r="1.95" fill="#f00000"/><circle cx="527.9" cy="178.7" r="1.95" fill="#f00000"/><circle cx="547.6" cy="137.1" r="1.95" fill="#f00000"/><circle cx="535.9" cy="168.9" r="1.95" fill="#1010f0"/><circle cx="581.2" cy="108.6" r="1.95" fill="#1010f0"/><circle cx="556.7" cy="156.4" r="1.95" fill="#f00000"/><circle cx="530.3" cy="164.7" r="1.95" fill="#f00000"/><circle cx="491.1" cy="133.3" r="1.95" fill="#f00000"/><circle cx="558.2" cy="157.1" r="1.95" fill="#000"/><circle cx="548.7" cy="173.3" r="1.95" fill="#f00000"/><circle cx="574.0" cy="177.7" r="1.95" fill="#f00000"/><circle cx="524.8" cy="118.7" r="1.95" fill="#f00000"/><circle cx="545.1" cy="149.2" r="1.95" fill="#f00000"/><circle cx="508.4" cy="196.3" r="1.95" fill="#1010f0"/><circle cx="536.0" cy="121.8" r="1.95" fill="#000"/><circle cx="538.2" cy="135.6" r="1.95" fill="#f00000"/><circle cx="531.0" cy="140.9" r="1.95" fill="#1010f0"/><circle cx="541.8" cy="172.4" r="1.95" fill="#000"/><circle cx="496.3" cy="146.4" r="1.95" fill="#1010f0"/><circle cx="567.8" cy="162.0" r="1.95" fill="#f00000"/><circle cx="514.6" cy="186.9" r="1.95" fill="#f00000"/><circle cx="540.9" cy="172.4" r="1.95" fill="#f00000"/><circle cx="572.4" cy="130.4" r="1.95" fill="#f00000"/><circle cx="513.1" cy="134.7" r="1.95" fill="#f00000"/><circle cx="519.1" cy="132.2" r="1.95" fill="#000"/><circle cx="503.9" cy="191.5" r="1.95" fill="#f00000"/><circle cx="619.6" cy="172.0" r="1.95" fill="#f00000"/><circle cx="539.7" cy="106.0" r="1.95" fill="#f00000"/><circle cx="495.9" cy="146.0" r="1.95" fill="#000"/><circle cx="515.4" cy="146.5" r="1.95" fill="#f00000"/><circle cx="524.4" cy="155.8" r="1.95" fill="#f00000"/><circle cx="550.3" cy="177.0" r="1.95" fill="#f00000"/><circle cx="542.9" cy="129.3" r="1.95" fill="#f00000"/><circle cx="528.0" cy="166.4" r="1.95" fill="#f00000"/><circle cx="481.5" cy="163.4" r="1.95" fill="#f00000"/><circle cx="518.3" cy="167.5" r="1.95" fill="#f00000"/><circle cx="485.8" cy="124.2" r="1.95" fill="#f00000"/><circle cx="536.4" cy="128.7" r="1.95" fill="#f00000"/><circle cx="593.9" cy="157.0" r="1.95" fill="#f00000"/><circle cx="543.8" cy="155.6" r="1.95" fill="#f00000"/><circle cx="514.8" cy="151.5" r="1.95" fill="#f00000"/><circle cx="543.6" cy="167.6" r="1.95" fill="#f00000"/><circle cx="533.0" cy="150.6" r="1.95" fill="#000"/><circle cx="489.4" cy="159.8" r="1.95" fill="#f00000"/><circle cx="522.9" cy="139.9" r="1.95" fill="#f00000"/><circle cx="539.8" cy="154.4" r="1.95" fill="#000"/><circle cx="521.2" cy="124.0" r="1.95" fill="#f00000"/><circle cx="523.2" cy="138.1" r="1.95" fill="#f00000"/><circle cx="441.3" cy="171.2" r="1.95" fill="#f00000"/><circle cx="559.4" cy="139.7" r="1.95" fill="#f00000"/><circle cx="493.5" cy="162.4" r="1.95" fill="#f00000"/><circle cx="484.5" cy="138.2" r="1.95" fill="#000"/><circle cx="468.8" cy="142.5" r="1.95" fill="#f00000"/><circle cx="546.5" cy="124.6" r="1.95" fill="#f00000"/><circle cx="551.1" cy="137.3" r="1.95" fill="#f00000"/><circle cx="555.1" cy="141.5" r="1.95" fill="#f00000"/><circle cx="550.3" cy="140.6" r="1.95" fill="#f00000"/><circle cx="465.3" cy="157.8" r="1.95" fill="#f00000"/><circle cx="580.7" cy="138.1" r="1.95" fill="#f00000"/><circle cx="551.3" cy="144.4" r="1.95" fill="#f00000"/><circle cx="516.9" cy="106.7" r="1.95" fill="#f00000"/><circle cx="513.2" cy="178.0" r="1.95" fill="#f00000"/><circle cx="524.6" cy="130.4" r="1.95" fill="#f00000"/><circle cx="522.4" cy="131.9" r="1.95" fill="#f00000"/><circle cx="524.5" cy="150.0" r="1.95" fill="#000"/><circle cx="515.6" cy="139.1" r="1.95" fill="#f00000"/><circle cx="518.8" cy="113.2" r="1.95" fill="#000"/><circle cx="518.9" cy="152.1" r="1.95" fill="#f00000"/><circle cx="529.2" cy="154.8" r="1.95" fill="#f00000"/><circle cx="519.3" cy="116.3" r="1.95" fill="#f00000"/><circle cx="515.1" cy="158.8" r="1.95" fill="#000"/><circle cx="534.6" cy="200.6" r="1.95" fill="#f00000"/><circle cx="524.7" cy="181.6" r="1.95" fill="#f00000"/><circle cx="552.5" cy="155.1" r="1.95" fill="#000"/><circle cx="515.9" cy="155.1" r="1.95" fill="#f00000"/><circle cx="532.5" cy="154.3" r="1.95" fill="#f00000"/><circle cx="572.4" cy="137.6" r="1.95" fill="#000"/><circle cx="521.6" cy="139.8" r="1.95" fill="#f00000"/><circle cx="507.3" cy="121.9" r="1.95" fill="#f00000"/><circle cx="529.4" cy="130.1" r="1.95" fill="#f00000"/><circle cx="530.7" cy="178.7" r="1.95" fill="#f00000"/><circle cx="506.7" cy="145.0" r="1.95" fill="#f00000"/><circle cx="538.2" cy="147.4" r="1.95" fill="#000"/><circle cx="506.2" cy="157.1" r="1.95" fill="#f00000"/><circle cx="519.7" cy="122.3" r="1.95" fill="#1010f0"/><circle cx="571.1" cy="145.5" r="1.95" fill="#1010f0"/><circle cx="559.4" cy="151.4" r="1.95" fill="#f00000"/><circle cx="557.9" cy="132.4" r="1.95" fill="#f00000"/><circle cx="522.0" cy="190.4" r="1.95" fill="#000"/><circle cx="541.1" cy="154.1" r="1.95" fill="#f00000"/><circle cx="541.8" cy="127.4" r="1.95" fill="#f00000"/><circle cx="535.8" cy="131.8" r="1.95" fill="#f00000"/><circle cx="542.1" cy="169.6" r="1.95" fill="#f00000"/><circle cx="565.9" cy="139.8" r="1.95" fill="#f00000"/><circle cx="525.4" cy="148.7" r="1.95" fill="#f00000"/><circle cx="521.1" cy="128.4" r="1.95" fill="#f00000"/><circle cx="559.8" cy="167.5" r="1.95" fill="#000"/><circle cx="506.8" cy="146.1" r="1.95" fill="#f00000"/><circle cx="487.3" cy="180.8" r="1.95" fill="#000"/><circle cx="523.2" cy="148.1" r="1.95" fill="#f00000"/><circle cx="553.8" cy="140.8" r="1.95" fill="#f00000"/><circle cx="512.7" cy="144.3" r="1.95" fill="#000"/><circle cx="581.4" cy="152.8" r="1.95" fill="#f00000"/><circle cx="552.4" cy="122.4" r="1.95" fill="#f00000"/><circle cx="555.4" cy="129.7" r="1.95" fill="#f00000"/><circle cx="516.8" cy="114.7" r="1.95" fill="#f00000"/><circle cx="523.8" cy="235.0" r="1.95" fill="#f00000"/><circle cx="553.0" cy="119.9" r="1.95" fill="#f00000"/><circle cx="584.8" cy="166.6" r="1.95" fill="#000"/><circle cx="513.4" cy="105.8" r="1.95" fill="#f00000"/><circle cx="515.4" cy="144.5" r="1.95" fill="#f00000"/><circle cx="518.8" cy="55.4" r="1.95" fill="#f00000"/><circle cx="491.1" cy="217.5" r="1.95" fill="#f00000"/><circle cx="546.3" cy="155.9" r="1.95" fill="#f00000"/><circle cx="524.5" cy="134.2" r="1.95" fill="#f00000"/><circle cx="527.9" cy="158.1" r="1.95" fill="#f00000"/><circle cx="535.9" cy="193.2" r="1.95" fill="#000"/><circle cx="523.9" cy="101.2" r="1.95" fill="#f00000"/><circle cx="536.8" cy="169.7" r="1.95" fill="#f00000"/><circle cx="508.0" cy="171.5" r="1.95" fill="#f00000"/><circle cx="503.2" cy="175.0" r="1.95" fill="#000"/><circle cx="503.2" cy="142.6" r="1.95" fill="#f00000"/><circle cx="562.6" cy="141.7" r="1.95" fill="#f00000"/><circle cx="484.4" cy="151.6" r="1.95" fill="#f00000"/><circle cx="535.0" cy="146.2" r="1.95" fill="#000"/><circle cx="525.2" cy="110.7" r="1.95" fill="#f00000"/><circle cx="523.5" cy="156.9" r="1.95" fill="#f00000"/><circle cx="525.1" cy="164.8" r="1.95" fill="#f00000"/><circle cx="556.1" cy="115.0" r="1.95" fill="#f00000"/><circle cx="556.2" cy="102.7" r="1.95" fill="#000"/><circle cx="487.4" cy="174.1" r="1.95" fill="#f00000"/><circle cx="515.4" cy="174.3" r="1.95" fill="#f00000"/><circle cx="531.8" cy="155.2" r="1.95" fill="#1010f0"/><circle cx="505.0" cy="130.7" r="1.95" fill="#f00000"/><circle cx="568.7" cy="160.3" r="1.95" fill="#000"/><circle cx="440.0" cy="126.2" r="1.95" fill="#000"/><circle cx="552.3" cy="166.6" r="1.95" fill="#f00000"/><circle cx="561.6" cy="171.1" r="1.95" fill="#f00000"/><circle cx="550.9" cy="152.9" r="1.95" fill="#000"/><circle cx="566.7" cy="188.8" r="1.95" fill="#000"/><circle cx="521.6" cy="136.4" r="1.95" fill="#f00000"/><circle cx="534.5" cy="169.2" r="1.95" fill="#f00000"/><circle cx="497.3" cy="153.7" r="1.95" fill="#000"/><circle cx="508.7" cy="101.9" r="1.95" fill="#000"/><circle cx="537.9" cy="139.8" r="1.95" fill="#000"/><circle cx="519.8" cy="156.5" r="1.95" fill="#f00000"/><circle cx="500.6" cy="182.8" r="1.95" fill="#000"/><circle cx="530.4" cy="130.6" r="1.95" fill="#000"/><circle cx="542.2" cy="139.4" r="1.95" fill="#f00000"/><circle cx="526.8" cy="174.1" r="1.95" fill="#f00000"/><circle cx="548.6" cy="141.2" r="1.95" fill="#f00000"/><circle cx="537.1" cy="143.5" r="1.95" fill="#f00000"/><circle cx="517.1" cy="151.6" r="1.95" fill="#f00000"/><circle cx="516.7" cy="128.0" r="1.95" fill="#f00000"/><circle cx="510.6" cy="146.1" r="1.95" fill="#f00000"/><circle cx="496.8" cy="109.7" r="1.95" fill="#f00000"/><circle cx="486.3" cy="139.3" r="1.95" fill="#f00000"/><circle cx="563.4" cy="197.2" r="1.95" fill="#f00000"/><circle cx="535.3" cy="114.8" r="1.95" fill="#f00000"/><circle cx="514.2" cy="149.7" r="1.95" fill="#f00000"/><circle cx="548.8" cy="111.0" r="1.95" fill="#f00000"/><circle cx="512.7" cy="202.2" r="1.95" fill="#f00000"/><circle cx="563.6" cy="162.7" r="1.95" fill="#f00000"/><circle cx="511.3" cy="140.4" r="1.95" fill="#f00000"/><circle cx="525.1" cy="183.1" r="1.95" fill="#f00000"/><circle cx="496.1" cy="172.3" r="1.95" fill="#f00000"/><circle cx="571.0" cy="147.3" r="1.95" fill="#f00000"/><circle cx="527.3" cy="200.2" r="1.95" fill="#f00000"/><circle cx="552.1" cy="174.7" r="1.95" fill="#1010f0"/><circle cx="561.9" cy="142.8" r="1.95" fill="#f00000"/><circle cx="506.2" cy="157.9" r="1.95" fill="#f00000"/><circle cx="532.3" cy="168.5" r="1.95" fill="#000"/><circle cx="546.1" cy="131.3" r="1.95" fill="#1010f0"/><circle cx="522.3" cy="153.1" r="1.95" fill="#f00000"/><circle cx="512.1" cy="149.7" r="1.95" fill="#f00000"/><circle cx="538.2" cy="105.4" r="1.95" fill="#f00000"/><circle cx="585.6" cy="153.3" r="1.95" fill="#000"/><circle cx="526.4" cy="151.5" r="1.95" fill="#f00000"/><circle cx="570.2" cy="164.1" r="1.95" fill="#f00000"/><circle cx="553.8" cy="119.8" r="1.95" fill="#f00000"/><circle cx="552.5" cy="160.1" r="1.95" fill="#f00000"/><circle cx="528.3" cy="166.4" r="1.95" fill="#000"/><circle cx="577.1" cy="126.4" r="1.95" fill="#f00000"/><circle cx="517.6" cy="150.8" r="1.95" fill="#f00000"/><circle cx="550.6" cy="115.2" r="1.95" fill="#f00000"/><circle cx="500.5" cy="151.3" r="1.95" fill="#f00000"/><circle cx="545.6" cy="149.1" r="1.95" fill="#000"/><circle cx="525.7" cy="160.2" r="1.95" fill="#f00000"/><circle cx="542.3" cy="222.3" r="1.95" fill="#f00000"/><circle cx="551.2" cy="140.4" r="1.95" fill="#f00000"/><circle cx="549.1" cy="130.4" r="1.95" fill="#f00000"/><circle cx="542.2" cy="174.3" r="1.95" fill="#000"/><circle cx="545.1" cy="170.3" r="1.95" fill="#f00000"/><circle cx="539.0" cy="150.5" r="1.95" fill="#000"/><circle cx="542.2" cy="132.9" r="1.95" fill="#000"/><circle cx="542.4" cy="133.2" r="1.95" fill="#000"/><circle cx="503.8" cy="157.0" r="1.95" fill="#f00000"/><circle cx="516.2" cy="135.8" r="1.95" fill="#f00000"/><circle cx="544.8" cy="143.2" r="1.95" fill="#f00000"/><circle cx="470.0" cy="131.7" r="1.95" fill="#f00000"/><circle cx="546.5" cy="145.2" r="1.95" fill="#000"/><circle cx="506.1" cy="183.3" r="1.95" fill="#f00000"/><circle cx="491.6" cy="175.9" r="1.95" fill="#f00000"/><circle cx="517.0" cy="102.0" r="1.95" fill="#f00000"/><circle cx="568.1" cy="106.3" r="1.95" fill="#f00000"/><circle cx="515.9" cy="180.2" r="1.95" fill="#f00000"/><circle cx="498.5" cy="176.6" r="1.95" fill="#f00000"/><circle cx="519.9" cy="173.9" r="1.95" fill="#f00000"/><circle cx="556.8" cy="145.5" r="1.95" fill="#000"/><circle cx="545.8" cy="131.3" r="1.95" fill="#f00000"/><circle cx="505.8" cy="142.1" r="1.95" fill="#000"/><circle cx="501.3" cy="145.0" r="1.95" fill="#f00000"/><circle cx="545.1" cy="166.3" r="1.95" fill="#000"/><circle cx="524.2" cy="134.6" r="1.95" fill="#000"/><circle cx="534.7" cy="136.1" r="1.95" fill="#f00000"/><circle cx="551.5" cy="177.4" r="1.95" fill="#f00000"/><circle cx="549.2" cy="157.4" r="1.95" fill="#f00000"/><circle cx="512.4" cy="166.3" r="1.95" fill="#f00000"/><circle cx="551.7" cy="130.8" r="1.95" fill="#f00000"/><circle cx="512.2" cy="115.5" r="1.95" fill="#f00000"/><circle cx="560.3" cy="169.7" r="1.95" fill="#f00000"/><circle cx="536.2" cy="165.4" r="1.95" fill="#f00000"/><circle cx="497.1" cy="126.0" r="1.95" fill="#f00000"/><circle cx="510.3" cy="172.0" r="1.95" fill="#f00000"/><circle cx="549.8" cy="155.8" r="1.95" fill="#f00000"/><circle cx="524.9" cy="142.6" r="1.95" fill="#f00000"/><circle cx="501.2" cy="169.6" r="1.95" fill="#f00000"/><circle cx="535.7" cy="171.9" r="1.95" fill="#f00000"/><circle cx="555.0" cy="169.6" r="1.95" fill="#1010f0"/><circle cx="552.8" cy="119.7" r="1.95" fill="#f00000"/><circle cx="503.2" cy="134.5" r="1.95" fill="#f00000"/><circle cx="522.5" cy="128.5" r="1.95" fill="#f00000"/><circle cx="522.1" cy="187.6" r="1.95" fill="#f00000"/><circle cx="512.9" cy="174.3" r="1.95" fill="#000"/><circle cx="513.5" cy="103.1" r="1.95" fill="#000"/><circle cx="498.6" cy="176.2" r="1.95" fill="#f00000"/><circle cx="518.6" cy="117.0" r="1.95" fill="#000"/><circle cx="569.7" cy="145.5" r="1.95" fill="#000"/><circle cx="540.5" cy="98.7" r="1.95" fill="#000"/><circle cx="565.9" cy="173.5" r="1.95" fill="#f00000"/><circle cx="465.0" cy="139.9" r="1.95" fill="#000"/><circle cx="513.1" cy="120.9" r="1.95" fill="#f00000"/><circle cx="588.4" cy="173.6" r="1.95" fill="#000"/><circle cx="544.1" cy="171.4" r="1.95" fill="#f00000"/><circle cx="545.5" cy="117.3" r="1.95" fill="#000"/><circle cx="509.3" cy="161.1" r="1.95" fill="#000"/><circle cx="489.4" cy="131.1" r="1.95" fill="#f00000"/><circle cx="513.1" cy="109.9" r="1.95" fill="#f00000"/><circle cx="519.5" cy="136.6" r="1.95" fill="#f00000"/><circle cx="474.5" cy="142.4" r="1.95" fill="#f00000"/><circle cx="562.2" cy="167.5" r="1.95" fill="#f00000"/><circle cx="555.1" cy="122.2" r="1.95" fill="#000"/><circle cx="557.6" cy="188.3" r="1.95" fill="#f00000"/><circle cx="519.3" cy="180.4" r="1.95" fill="#f00000"/><circle cx="502.2" cy="122.6" r="1.95" fill="#f00000"/><circle cx="500.2" cy="140.9" r="1.95" fill="#f00000"/><circle cx="554.8" cy="90.1" r="1.95" fill="#f00000"/><circle cx="531.9" cy="149.2" r="1.95" fill="#000"/><circle cx="499.1" cy="171.3" r="1.95" fill="#000"/><circle cx="542.1" cy="174.3" r="1.95" fill="#f00000"/><circle cx="498.4" cy="128.5" r="1.95" fill="#f00000"/><circle cx="494.9" cy="155.7" r="1.95" fill="#f00000"/><circle cx="505.3" cy="196.6" r="1.95" fill="#f00000"/><circle cx="556.8" cy="147.6" r="1.95" fill="#f00000"/><circle cx="510.6" cy="166.0" r="1.95" fill="#f00000"/><circle cx="554.3" cy="171.5" r="1.95" fill="#f00000"/><circle cx="502.8" cy="111.4" r="1.95" fill="#f00000"/><circle cx="520.4" cy="119.1" r="1.95" fill="#f00000"/><circle cx="551.0" cy="138.6" r="1.95" fill="#000"/><circle cx="512.9" cy="176.0" r="1.95" fill="#f00000"/><circle cx="550.3" cy="148.6" r="1.95" fill="#f00000"/><circle cx="545.6" cy="139.3" r="1.95" fill="#f00000"/><circle cx="494.4" cy="209.5" r="1.95" fill="#f00000"/><circle cx="490.7" cy="115.2" r="1.95" fill="#000"/><circle cx="485.8" cy="126.4" r="1.95" fill="#f00000"/><circle cx="533.7" cy="201.0" r="1.95" fill="#f00000"/><circle cx="541.0" cy="120.4" r="1.95" fill="#f00000"/><circle cx="524.8" cy="141.2" r="1.95" fill="#f00000"/><circle cx="504.6" cy="150.2" r="1.95" fill="#f00000"/><circle cx="496.2" cy="140.6" r="1.95" fill="#f00000"/><circle cx="545.9" cy="138.5" r="1.95" fill="#1010f0"/><circle cx="558.8" cy="122.6" r="1.95" fill="#f00000"/><circle cx="517.7" cy="142.7" r="1.95" fill="#f00000"/><circle cx="522.1" cy="183.7" r="1.95" fill="#f00000"/><circle cx="494.6" cy="127.2" r="1.95" fill="#000"/><circle cx="530.0" cy="153.1" r="1.95" fill="#000"/><circle cx="516.5" cy="159.4" r="1.95" fill="#f00000"/><circle cx="566.8" cy="149.1" r="1.95" fill="#000"/><circle cx="526.0" cy="137.6" r="1.95" fill="#f00000"/><circle cx="521.4" cy="145.4" r="1.95" fill="#000"/><circle cx="536.2" cy="137.6" r="1.95" fill="#f00000"/><circle cx="542.9" cy="109.2" r="1.95" fill="#f00000"/><circle cx="500.9" cy="126.1" r="1.95" fill="#f00000"/><circle cx="559.8" cy="147.5" r="1.95" fill="#f00000"/><circle cx="505.7" cy="171.3" r="1.95" fill="#f00000"/><circle cx="502.4" cy="111.9" r="1.95" fill="#f00000"/><circle cx="525.8" cy="197.7" r="1.95" fill="#f00000"/><circle cx="533.0" cy="130.3" r="1.95" fill="#000"/><circle cx="516.4" cy="151.4" r="1.95" fill="#f00000"/><circle cx="508.9" cy="162.2" r="1.95" fill="#f00000"/><circle cx="505.8" cy="171.9" r="1.95" fill="#f00000"/><circle cx="543.1" cy="135.4" r="1.95" fill="#f00000"/><circle cx="570.7" cy="166.9" r="1.95" fill="#f00000"/><circle cx="531.7" cy="95.2" r="1.95" fill="#000"/><circle cx="566.4" cy="145.7" r="1.95" fill="#f00000"/><circle cx="525.3" cy="156.2" r="1.95" fill="#1010f0"/><circle cx="518.1" cy="190.7" r="1.95" fill="#000"/><circle cx="568.5" cy="160.5" r="1.95" fill="#f00000"/><circle cx="502.4" cy="167.0" r="1.95" fill="#f00000"/><circle cx="538.1" cy="146.6" r="1.95" fill="#f00000"/><circle cx="511.9" cy="155.8" r="1.95" fill="#f00000"/><circle cx="582.8" cy="162.7" r="1.95" fill="#f00000"/><circle cx="523.1" cy="213.5" r="1.95" fill="#f00000"/><circle cx="486.5" cy="180.3" r="1.95" fill="#f00000"/><circle cx="534.9" cy="167.5" r="1.95" fill="#f00000"/><circle cx="429.7" cy="131.8" r="1.95" fill="#000"/><circle cx="535.8" cy="148.9" r="1.95" fill="#000"/><circle cx="493.3" cy="149.3" r="1.95" fill="#000"/><circle cx="588.7" cy="128.5" r="1.95" fill="#f00000"/><circle cx="523.1" cy="153.6" r="1.95" fill="#000"/><circle cx="605.7" cy="124.0" r="1.95" fill="#f00000"/><circle cx="497.6" cy="187.0" r="1.95" fill="#f00000"/><circle cx="545.9" cy="141.3" r="1.95" fill="#000"/><circle cx="521.7" cy="150.9" r="1.95" fill="#f00000"/><circle cx="549.4" cy="144.0" r="1.95" fill="#f00000"/><circle cx="477.2" cy="153.7" r="1.95" fill="#000"/><circle cx="486.2" cy="144.4" r="1.95" fill="#f00000"/><circle cx="526.4" cy="172.3" r="1.95" fill="#f00000"/><circle cx="545.0" cy="173.4" r="1.95" fill="#f00000"/><circle cx="587.2" cy="201.3" r="1.95" fill="#000"/><circle cx="546.5" cy="174.8" r="1.95" fill="#f00000"/><circle cx="558.4" cy="148.5" r="1.95" fill="#000"/><circle cx="490.0" cy="203.6" r="1.95" fill="#000"/><circle cx="550.0" cy="137.7" r="1.95" fill="#000"/><circle cx="533.9" cy="158.7" r="1.95" fill="#f00000"/><circle cx="509.1" cy="146.8" r="1.95" fill="#f00000"/><circle cx="557.3" cy="132.4" r="1.95" fill="#f00000"/><circle cx="518.4" cy="139.3" r="1.95" fill="#f00000"/><circle cx="516.5" cy="110.5" r="1.95" fill="#000"/><circle cx="552.9" cy="173.6" r="1.95" fill="#f00000"/><circle cx="534.8" cy="185.7" r="1.95" fill="#000"/><circle cx="524.7" cy="121.9" r="1.95" fill="#f00000"/><circle cx="555.9" cy="131.1" r="1.95" fill="#f00000"/><circle cx="541.7" cy="133.7" r="1.95" fill="#f00000"/><circle cx="569.2" cy="152.2" r="1.95" fill="#f00000"/><circle cx="552.3" cy="161.0" r="1.95" fill="#000"/><circle cx="551.3" cy="150.2" r="1.95" fill="#000"/><circle cx="609.0" cy="193.4" r="1.95" fill="#f00000"/><circle cx="508.5" cy="134.5" r="1.95" fill="#1010f0"/><circle cx="520.8" cy="163.4" r="1.95" fill="#000"/><circle cx="579.3" cy="137.5" r="1.95" fill="#f00000"/><circle cx="560.0" cy="129.2" r="1.95" fill="#f00000"/><circle cx="555.1" cy="186.7" r="1.95" fill="#000"/><circle cx="547.2" cy="121.8" r="1.95" fill="#f00000"/><circle cx="521.8" cy="152.7" r="1.95" fill="#f00000"/><circle cx="476.3" cy="169.7" r="1.95" fill="#f00000"/><circle cx="519.1" cy="148.6" r="1.95" fill="#f00000"/><circle cx="589.7" cy="176.9" r="1.95" fill="#000"/><circle cx="528.1" cy="174.5" r="1.95" fill="#f00000"/><circle cx="538.8" cy="117.5" r="1.95" fill="#f00000"/><circle cx="506.6" cy="137.6" r="1.95" fill="#000"/><circle cx="556.9" cy="152.4" r="1.95" fill="#f00000"/><circle cx="512.2" cy="208.7" r="1.95" fill="#f00000"/><circle cx="496.1" cy="126.1" r="1.95" fill="#f00000"/><circle cx="565.5" cy="142.1" r="1.95" fill="#f00000"/><circle cx="558.4" cy="113.4" r="1.95" fill="#f00000"/><circle cx="493.0" cy="103.8" r="1.95" fill="#000"/><circle cx="486.2" cy="172.3" r="1.95" fill="#000"/><circle cx="540.3" cy="147.7" r="1.95" fill="#1010f0"/><circle cx="500.7" cy="172.8" r="1.95" fill="#f00000"/><circle cx="590.6" cy="138.5" r="1.95" fill="#1010f0"/><circle cx="454.3" cy="111.0" r="1.95" fill="#000"/><circle cx="503.6" cy="160.2" r="1.95" fill="#1010f0"/><circle cx="545.3" cy="150.7" r="1.95" fill="#f00000"/><circle cx="560.9" cy="121.5" r="1.95" fill="#f00000"/><circle cx="533.9" cy="155.6" r="1.95" fill="#1010f0"/><circle cx="501.5" cy="239.7" r="1.95" fill="#f00000"/><circle cx="531.9" cy="184.9" r="1.95" fill="#000"/><circle cx="544.2" cy="119.6" r="1.95" fill="#f00000"/><circle cx="524.0" cy="132.7" r="1.95" fill="#f00000"/><circle cx="571.1" cy="159.2" r="1.95" fill="#f00000"/><circle cx="474.4" cy="132.5" r="1.95" fill="#f00000"/><circle cx="531.8" cy="152.3" r="1.95" fill="#000"/><circle cx="503.7" cy="132.3" r="1.95" fill="#f00000"/><circle cx="597.0" cy="145.2" r="1.95" fill="#000"/><circle cx="512.9" cy="162.1" r="1.95" fill="#f00000"/><circle cx="592.9" cy="129.0" r="1.95" fill="#000"/><circle cx="530.1" cy="119.3" r="1.95" fill="#f00000"/><circle cx="504.3" cy="189.0" r="1.95" fill="#000"/><circle cx="558.0" cy="195.9" r="1.95" fill="#000"/><circle cx="557.3" cy="179.4" r="1.95" fill="#f00000"/><circle cx="542.2" cy="176.8" r="1.95" fill="#f00000"/><circle cx="521.4" cy="158.0" r="1.95" fill="#f00000"/><circle cx="486.2" cy="149.2" r="1.95" fill="#f00000"/><circle cx="519.1" cy="131.8" r="1.95" fill="#000"/><circle cx="543.2" cy="168.4" r="1.95" fill="#1010f0"/><circle cx="567.4" cy="144.0" r="1.95" fill="#f00000"/><circle cx="595.5" cy="159.5" r="1.95" fill="#f00000"/><circle cx="473.0" cy="165.6" r="1.95" fill="#000"/><circle cx="596.0" cy="145.7" r="1.95" fill="#f00000"/><circle cx="484.3" cy="144.8" r="1.95" fill="#000"/><circle cx="514.9" cy="136.3" r="1.95" fill="#f00000"/><circle cx="544.9" cy="116.0" r="1.95" fill="#f00000"/><circle cx="566.5" cy="161.2" r="1.95" fill="#f00000"/><circle cx="551.6" cy="142.5" r="1.95" fill="#f00000"/><circle cx="505.6" cy="132.2" r="1.95" fill="#1010f0"/><circle cx="536.2" cy="151.1" r="1.95" fill="#f00000"/><circle cx="509.3" cy="173.5" r="1.95" fill="#1010f0"/><circle cx="535.8" cy="181.0" r="1.95" fill="#000"/><circle cx="529.5" cy="148.8" r="1.95" fill="#f00000"/><circle cx="536.4" cy="144.4" r="1.95" fill="#000"/><circle cx="495.2" cy="109.7" r="1.95" fill="#f00000"/><circle cx="468.8" cy="183.0" r="1.95" fill="#f00000"/><circle cx="528.8" cy="185.4" r="1.95" fill="#f00000"/><circle cx="516.7" cy="155.2" r="1.95" fill="#f00000"/><circle cx="516.5" cy="166.1" r="1.95" fill="#f00000"/><circle cx="563.0" cy="170.8" r="1.95" fill="#000"/><circle cx="491.9" cy="189.5" r="1.95" fill="#f00000"/><circle cx="515.5" cy="201.6" r="1.95" fill="#f00000"/><circle cx="577.0" cy="160.7" r="1.95" fill="#f00000"/><circle cx="436.7" cy="148.9" r="1.95" fill="#f00000"/><circle cx="556.3" cy="182.0" r="1.95" fill="#f00000"/><circle cx="601.1" cy="182.7" r="1.95" fill="#000"/><circle cx="555.0" cy="160.6" r="1.95" fill="#f00000"/><circle cx="465.0" cy="137.1" r="1.95" fill="#f00000"/><circle cx="520.5" cy="170.0" r="1.95" fill="#f00000"/><circle cx="517.0" cy="137.2" r="1.95" fill="#000"/><circle cx="516.4" cy="106.1" r="1.95" fill="#000"/><circle cx="561.4" cy="105.4" r="1.95" fill="#f00000"/><circle cx="494.6" cy="123.6" r="1.95" fill="#f00000"/><circle cx="531.8" cy="133.3" r="1.95" fill="#f00000"/><circle cx="518.4" cy="151.9" r="1.95" fill="#1010f0"/><circle cx="502.6" cy="136.0" r="1.95" fill="#000"/><circle cx="519.1" cy="110.9" r="1.95" fill="#1010f0"/><circle cx="500.9" cy="194.9" r="1.95" fill="#f00000"/><circle cx="408.9" cy="135.0" r="1.95" fill="#f00000"/><circle cx="488.9" cy="162.0" r="1.95" fill="#f00000"/><circle cx="519.5" cy="134.5" r="1.95" fill="#f00000"/><circle cx="513.4" cy="183.1" r="1.95" fill="#f00000"/><circle cx="544.8" cy="159.4" r="1.95" fill="#f00000"/><circle cx="504.3" cy="107.0" r="1.95" fill="#f00000"/><circle cx="551.4" cy="144.4" r="1.95" fill="#f00000"/><circle cx="542.7" cy="156.5" r="1.95" fill="#f00000"/><circle cx="547.2" cy="136.0" r="1.95" fill="#000"/><circle cx="526.5" cy="132.7" r="1.95" fill="#000"/><circle cx="506.6" cy="163.8" r="1.95" fill="#f00000"/><circle cx="538.8" cy="119.9" r="1.95" fill="#f00000"/><circle cx="531.0" cy="171.9" r="1.95" fill="#f00000"/><circle cx="500.5" cy="165.3" r="1.95" fill="#1010f0"/><circle cx="556.1" cy="164.9" r="1.95" fill="#f00000"/><circle cx="578.6" cy="144.5" r="1.95" fill="#f00000"/><circle cx="485.8" cy="162.5" r="1.95" fill="#f00000"/><circle cx="536.2" cy="177.9" r="1.95" fill="#f00000"/><circle cx="505.1" cy="133.9" r="1.95" fill="#f00000"/><circle cx="518.5" cy="185.3" r="1.95" fill="#f00000"/><circle cx="510.4" cy="147.3" r="1.95" fill="#f00000"/><circle cx="513.0" cy="131.4" r="1.95" fill="#000"/><circle cx="525.9" cy="119.0" r="1.95" fill="#f00000"/><circle cx="552.6" cy="134.1" r="1.95" fill="#000"/><circle cx="576.1" cy="132.3" r="1.95" fill="#000"/><circle cx="517.3" cy="165.9" r="1.95" fill="#1010f0"/><circle cx="541.5" cy="187.3" r="1.95" fill="#000"/><circle cx="490.5" cy="137.4" r="1.95" fill="#f00000"/><circle cx="577.8" cy="166.5" r="1.95" fill="#f00000"/><circle cx="540.9" cy="196.6" r="1.95" fill="#000"/><circle cx="499.1" cy="158.6" r="1.95" fill="#f00000"/><circle cx="497.8" cy="118.3" r="1.95" fill="#f00000"/><circle cx="488.4" cy="170.2" r="1.95" fill="#f00000"/><circle cx="497.1" cy="149.7" r="1.95" fill="#f00000"/><circle cx="538.2" cy="151.2" r="1.95" fill="#000"/><circle cx="512.0" cy="158.0" r="1.95" fill="#1010f0"/><circle cx="483.7" cy="162.9" r="1.95" fill="#000"/><circle cx="493.0" cy="186.3" r="1.95" fill="#000"/><circle cx="557.2" cy="116.6" r="1.95" fill="#f00000"/><circle cx="517.2" cy="149.5" r="1.95" fill="#f00000"/><circle cx="527.2" cy="147.2" r="1.95" fill="#f00000"/><circle cx="511.2" cy="162.3" r="1.95" fill="#f00000"/><circle cx="555.4" cy="158.3" r="1.95" fill="#f00000"/><circle cx="525.0" cy="155.2" r="1.95" fill="#f00000"/><circle cx="534.3" cy="123.0" r="1.95" fill="#000"/><circle cx="490.0" cy="153.5" r="1.95" fill="#f00000"/><circle cx="547.5" cy="179.0" r="1.95" fill="#f00000"/><circle cx="523.3" cy="136.4" r="1.95" fill="#000"/><circle cx="559.2" cy="138.3" r="1.95" fill="#f00000"/><circle cx="531.5" cy="137.8" r="1.95" fill="#f00000"/><circle cx="544.0" cy="132.2" r="1.95" fill="#f00000"/><circle cx="508.5" cy="136.1" r="1.95" fill="#000"/><circle cx="511.4" cy="151.8" r="1.95" fill="#f00000"/><circle cx="493.4" cy="169.2" r="1.95" fill="#000"/><circle cx="473.2" cy="154.7" r="1.95" fill="#000"/><circle cx="520.9" cy="116.5" r="1.95" fill="#000"/><circle cx="579.6" cy="138.2" r="1.95" fill="#f00000"/><circle cx="562.5" cy="150.9" r="1.95" fill="#f00000"/><circle cx="500.0" cy="162.3" r="1.95" fill="#f00000"/><circle cx="563.5" cy="166.1" r="1.95" fill="#f00000"/><circle cx="489.8" cy="128.1" r="1.95" fill="#000"/><circle cx="519.6" cy="139.8" r="1.95" fill="#f00000"/><circle cx="511.5" cy="149.4" r="1.95" fill="#f00000"/><circle cx="513.8" cy="157.0" r="1.95" fill="#f00000"/><circle cx="539.7" cy="182.5" r="1.95" fill="#f00000"/><circle cx="530.3" cy="149.7" r="1.95" fill="#000"/><circle cx="546.1" cy="136.5" r="1.95" fill="#000"/><circle cx="482.0" cy="150.4" r="1.95" fill="#f00000"/><circle cx="517.8" cy="151.9" r="1.95" fill="#f00000"/><circle cx="515.0" cy="151.2" r="1.95" fill="#f00000"/><circle cx="484.8" cy="130.2" r="1.95" fill="#000"/><circle cx="517.9" cy="166.9" r="1.95" fill="#f00000"/><circle cx="524.9" cy="165.8" r="1.95" fill="#f00000"/><circle cx="501.9" cy="126.6" r="1.95" fill="#f00000"/><circle cx="508.1" cy="123.2" r="1.95" fill="#f00000"/><circle cx="519.2" cy="200.8" r="1.95" fill="#000"/><circle cx="532.0" cy="133.2" r="1.95" fill="#1010f0"/><circle cx="516.0" cy="179.3" r="1.95" fill="#f00000"/><circle cx="533.3" cy="190.6" r="1.95" fill="#f00000"/><circle cx="553.9" cy="173.0" r="1.95" fill="#f00000"/><circle cx="527.1" cy="105.3" r="1.95" fill="#f00000"/><circle cx="581.3" cy="116.0" r="1.95" fill="#f00000"/><circle cx="494.6" cy="150.7" r="1.95" fill="#f00000"/><circle cx="498.8" cy="103.3" r="1.95" fill="#f00000"/><circle cx="551.4" cy="105.3" r="1.95" fill="#f00000"/><circle cx="525.8" cy="123.9" r="1.95" fill="#f00000"/><circle cx="543.8" cy="126.8" r="1.95" fill="#000"/><circle cx="503.9" cy="179.5" r="1.95" fill="#000"/><circle cx="531.2" cy="132.3" r="1.95" fill="#f00000"/><circle cx="547.0" cy="104.9" r="1.95" fill="#000"/><circle cx="495.5" cy="131.2" r="1.95" fill="#f00000"/><circle cx="555.0" cy="179.6" r="1.95" fill="#f00000"/><circle cx="546.1" cy="165.2" r="1.95" fill="#000"/><circle cx="545.7" cy="122.4" r="1.95" fill="#f00000"/><circle cx="521.4" cy="153.2" r="1.95" fill="#f00000"/><circle cx="547.0" cy="130.1" r="1.95" fill="#f00000"/><circle cx="516.6" cy="122.6" r="1.95" fill="#f00000"/><circle cx="493.0" cy="125.3" r="1.95" fill="#f00000"/><circle cx="510.9" cy="183.8" r="1.95" fill="#f00000"/><circle cx="564.5" cy="108.2" r="1.95" fill="#000"/><circle cx="558.3" cy="157.3" r="1.95" fill="#1010f0"/><circle cx="569.4" cy="181.3" r="1.95" fill="#1010f0"/><circle cx="559.3" cy="128.3" r="1.95" fill="#f00000"/><circle cx="569.2" cy="186.6" r="1.95" fill="#f00000"/><circle cx="534.3" cy="130.9" r="1.95" fill="#f00000"/><circle cx="514.9" cy="165.5" r="1.95" fill="#f00000"/><circle cx="520.6" cy="157.2" r="1.95" fill="#f00000"/><path d="M57.70,14.50V282.60H326.40" fill="none" stroke="#111" stroke-width="2"/><path d="M54.20,282.60H57.70" stroke="#111" stroke-width="1.6"/><text transform="translate(53.10,286.40) scale(0.8,1)" font-size="14.6" text-anchor="end" fill="#262626">-0.20</text><path d="M54.20,228.98H57.70" stroke="#111" stroke-width="1.6"/><text transform="translate(53.10,232.78) scale(0.8,1)" font-size="14.6" text-anchor="end" fill="#262626">-0.10</text><path d="M54.20,175.36H57.70" stroke="#111" stroke-width="1.6"/><text transform="translate(53.10,179.16) scale(0.8,1)" font-size="14.6" text-anchor="end" fill="#262626">0.00</text><path d="M54.20,121.74H57.70" stroke="#111" stroke-width="1.6"/><text transform="translate(53.10,125.54) scale(0.8,1)" font-size="14.6" text-anchor="end" fill="#262626">0.10</text><path d="M54.20,68.12H57.70" stroke="#111" stroke-width="1.6"/><text transform="translate(53.10,71.92) scale(0.8,1)" font-size="14.6" text-anchor="end" fill="#262626">0.20</text><path d="M54.20,14.50H57.70" stroke="#111" stroke-width="1.6"/><text transform="translate(53.10,18.30) scale(0.8,1)" font-size="14.6" text-anchor="end" fill="#262626">0.30</text><path d="M57.70,282.60V286.10" stroke="#111" stroke-width="1.6"/><text transform="translate(57.00,299.80) scale(0.84,1)" font-size="13.8" text-anchor="middle" fill="#262626">-0.20</text><path d="M111.44,282.60V286.10" stroke="#111" stroke-width="1.6"/><text transform="translate(111.30,299.80) scale(0.84,1)" font-size="13.8" text-anchor="middle" fill="#262626">-0.10</text><path d="M165.18,282.60V286.10" stroke="#111" stroke-width="1.6"/><text transform="translate(165.80,299.80) scale(0.84,1)" font-size="13.8" text-anchor="middle" fill="#262626">0.00</text><path d="M218.92,282.60V286.10" stroke="#111" stroke-width="1.6"/><text transform="translate(219.70,299.80) scale(0.84,1)" font-size="13.8" text-anchor="middle" fill="#262626">0.10</text><path d="M272.66,282.60V286.10" stroke="#111" stroke-width="1.6"/><text transform="translate(273.50,299.80) scale(0.84,1)" font-size="13.8" text-anchor="middle" fill="#262626">0.20</text><path d="M326.40,282.60V286.10" stroke="#111" stroke-width="1.6"/><text transform="translate(329.60,299.80) scale(0.84,1)" font-size="13.8" text-anchor="middle" fill="#262626">0.30</text><path d="M396.00,14.00V282.00H664.00" fill="none" stroke="#111" stroke-width="2"/><path d="M392.50,282.00H396.00" stroke="#111" stroke-width="1.6"/><text transform="translate(391.40,285.80) scale(0.8,1)" font-size="14.6" text-anchor="end" fill="#262626">-0.20</text><path d="M392.50,215.00H396.00" stroke="#111" stroke-width="1.6"/><text transform="translate(391.40,218.80) scale(0.8,1)" font-size="14.6" text-anchor="end" fill="#262626">-0.10</text><path d="M392.50,148.00H396.00" stroke="#111" stroke-width="1.6"/><text transform="translate(391.40,151.80) scale(0.8,1)" font-size="14.6" text-anchor="end" fill="#262626">0.00</text><path d="M392.50,81.00H396.00" stroke="#111" stroke-width="1.6"/><text transform="translate(391.40,84.80) scale(0.8,1)" font-size="14.6" text-anchor="end" fill="#262626">0.10</text><path d="M392.50,14.00H396.00" stroke="#111" stroke-width="1.6"/><text transform="translate(391.40,17.80) scale(0.8,1)" font-size="14.6" text-anchor="end" fill="#262626">0.20</text><path d="M396.00,282.00V285.50" stroke="#111" stroke-width="1.6"/><text transform="translate(398.80,299.20) scale(0.84,1)" font-size="13.8" text-anchor="middle" fill="#262626">-0.20</text><path d="M463.00,282.00V285.50" stroke="#111" stroke-width="1.6"/><text transform="translate(463.10,299.20) scale(0.84,1)" font-size="13.8" text-anchor="middle" fill="#262626">-0.10</text><path d="M530.00,282.00V285.50" stroke="#111" stroke-width="1.6"/><text transform="translate(530.70,299.20) scale(0.84,1)" font-size="13.8" text-anchor="middle" fill="#262626">0.00</text><path d="M597.00,282.00V285.50" stroke="#111" stroke-width="1.6"/><text transform="translate(599.20,299.20) scale(0.84,1)" font-size="13.8" text-anchor="middle" fill="#262626">0.10</text><path d="M664.00,282.00V285.50" stroke="#111" stroke-width="1.6"/><text transform="translate(665.50,299.20) scale(0.84,1)" font-size="13.8" text-anchor="middle" fill="#262626">0.20</text><text transform="translate(191.80,320.00) scale(0.845,1)" font-size="17" text-anchor="middle" fill="#262626">PC1(42%)</text><text transform="translate(13.20,147.60) rotate(-90) scale(0.845,1)" font-size="17" text-anchor="middle" fill="#262626">PC2 (21%)</text><text transform="translate(531.00,320.00) scale(0.845,1)" font-size="17" text-anchor="middle" fill="#262626">PC1(39%)</text><text transform="translate(359.60,148.60) rotate(-90) scale(0.845,1)" font-size="17" text-anchor="middle" fill="#262626">PC2 (28%)</text><text transform="translate(0.50,15.00) scale(0.9,1)" font-size="20" text-anchor="start" fill="#111">a</text><text transform="translate(342.50,15.30) scale(0.9,1)" font-size="20" text-anchor="start" fill="#111">b</text><circle cx="241.6" cy="34.5" r="3.4" fill="#ee1111"/><text transform="translate(255.00,40.10) scale(0.78,1)" font-size="18" text-anchor="start" fill="#262626">WSP-HDM</text><circle cx="241.6" cy="56.2" r="3.4" fill="#000"/><text transform="translate(256.20,61.80) scale(0.78,1)" font-size="18" text-anchor="start" fill="#262626">Tibet</text><circle cx="241.6" cy="79.0" r="3.4" fill="#2222dd"/><text transform="translate(256.00,84.60) scale(0.78,1)" font-size="18" text-anchor="start" fill="#262626">Mix</text><circle cx="605.2" cy="34.5" r="3.4" fill="#ee1111"/><text transform="translate(617.70,40.10) scale(0.78,1)" font-size="18" text-anchor="start" fill="#262626">WSP-HDM</text><circle cx="605.2" cy="56.2" r="3.4" fill="#000"/><text transform="translate(619.80,61.80) scale(0.78,1)" font-size="18" text-anchor="start" fill="#262626">Tibet</text><circle cx="605.2" cy="79.0" r="3.4" fill="#2222dd"/><text transform="translate(619.50,84.60) scale(0.78,1)" font-size="18" text-anchor="start" fill="#262626">Mix</text><path d="M27.5,331.2L28.4,331.2L29.3,331.2L30.5,331.2L31.7,331.2L33.1,331.2L34.5,331.2L36.1,331.2L37.7,331.2L39.3,331.2L41.1,331.2L42.8,331.2L44.6,331.2L46.4,331.2L48.2,331.2L50.0,331.2L51.7,331.2L53.4,331.2L55.1,331.2L56.7,331.2L58.3,331.2L59.9,331.2L61.6,331.2L63.3,331.2L65.0,331.2L66.8,331.2L68.6,331.2L70.4,331.2L72.2,331.2L73.9,331.2L75.7,331.2L77.3,331.2L78.9,331.2L80.5,331.2L81.9,331.2L83.3,331.2L84.5,331.2L85.7,331.2L86.6,331.2L87.5,331.2M27.1,338.7L28.0,338.7L29.1,338.7L30.2,338.7L31.5,338.6L32.9,338.6L34.4,338.6L36.0,338.6L37.6,338.6L39.3,338.5L41.0,338.5L42.8,338.5L44.5,338.5L46.3,338.5L48.1,338.4L49.9,338.4L51.7,338.4L53.4,338.4L55.1,338.3L56.7,338.3L58.3,338.3L59.9,338.3L61.6,338.4L63.3,338.4L65.1,338.4L66.9,338.4L68.7,338.5L70.5,338.5L72.2,338.5L74.0,338.5L75.7,338.5L77.4,338.6L79.0,338.6L80.6,338.6L82.1,338.6L83.5,338.6L84.8,338.7L85.9,338.7L87.0,338.7L87.9,338.7M26.5,349.5L27.6,349.5L28.7,349.4L29.9,349.4L31.3,349.3L32.7,349.3L34.2,349.3L35.8,349.2L37.5,349.2L39.2,349.1L40.9,349.1L42.7,349.0L44.5,349.0L46.3,349.0L48.1,348.9L49.8,348.9L51.6,348.8L53.4,348.8L55.0,348.8L56.7,348.7L58.3,348.7L60.0,348.8L61.6,348.8L63.4,348.8L65.2,348.9L66.9,348.9L68.7,349.0L70.5,349.0L72.3,349.0L74.1,349.1L75.8,349.1L77.5,349.2L79.2,349.2L80.8,349.3L82.3,349.3L83.7,349.3L85.1,349.4L86.3,349.4L87.4,349.5L88.5,349.5M26.4,360.1L27.5,360.0L28.6,360.0L29.9,359.9L31.3,359.8L32.8,359.8L34.3,359.7L35.9,359.6L37.6,359.6L39.2,359.5L41.0,359.4L42.7,359.4L44.5,359.3L46.3,359.3L48.1,359.2L49.9,359.1L51.6,359.1L53.3,359.0L55.0,358.9L56.7,358.9L58.3,358.9L60.0,358.9L61.7,359.0L63.4,359.1L65.1,359.1L66.9,359.2L68.7,359.3L70.5,359.3L72.3,359.4L74.0,359.4L75.8,359.5L77.4,359.6L79.1,359.6L80.7,359.7L82.2,359.8L83.7,359.8L85.1,359.9L86.4,360.0L87.5,360.0L88.6,360.1M26.6,373.2L27.8,373.1L29.0,373.0L30.3,372.9L31.7,372.8L33.2,372.7L34.7,372.6L36.3,372.6L37.9,372.5L39.6,372.4L41.3,372.3L43.0,372.2L44.8,372.1L46.5,372.0L48.2,371.9L50.0,371.8L51.7,371.7L53.4,371.6L55.1,371.6L56.7,371.5L58.3,371.5L59.9,371.6L61.6,371.6L63.3,371.7L65.0,371.8L66.8,371.9L68.5,372.0L70.2,372.1L72.0,372.2L73.7,372.3L75.4,372.4L77.1,372.5L78.7,372.6L80.3,372.6L81.8,372.7L83.3,372.8L84.7,372.9L86.0,373.0L87.2,373.1L88.4,373.2M28.6,389.5L29.8,389.3L31.0,389.2L32.3,389.1L33.6,388.9L35.0,388.8L36.4,388.6L37.9,388.5L39.4,388.4L41.0,388.2L42.5,388.1L44.1,388.0L45.7,387.8L47.3,387.7L48.9,387.6L50.5,387.4L52.1,387.3L53.7,387.2L55.2,387.0L56.8,386.9L58.2,386.9L59.8,387.0L61.3,387.2L62.9,387.3L64.5,387.4L66.1,387.6L67.7,387.7L69.3,387.8L70.9,388.0L72.5,388.1L74.0,388.2L75.6,388.4L77.1,388.5L78.6,388.6L80.0,388.8L81.4,388.9L82.7,389.1L84.0,389.2L85.2,389.3L86.4,389.5M30.2,400.3L31.3,400.1L32.5,399.9L33.8,399.8L35.1,399.6L36.4,399.4L37.8,399.2L39.2,399.0L40.6,398.8L42.0,398.6L43.5,398.4L45.0,398.2L46.5,398.1L48.0,397.9L49.5,397.7L51.0,397.5L52.4,397.3L53.9,397.1L55.4,396.9L56.8,396.7L58.2,396.7L59.6,396.9L61.1,397.1L62.6,397.3L64.0,397.5L65.5,397.7L67.0,397.9L68.5,398.1L70.0,398.2L71.5,398.4L73.0,398.6L74.4,398.8L75.8,399.0L77.2,399.2L78.6,399.4L79.9,399.6L81.2,399.8L82.5,399.9L83.7,400.1L84.8,400.3M31.1,409.5L32.2,409.3L33.4,409.0L34.7,408.7L35.9,408.5L37.2,408.2L38.5,407.9L39.9,407.7L41.3,407.4L42.7,407.1L44.1,406.9L45.5,406.6L46.9,406.3L48.4,406.1L49.8,405.8L51.2,405.5L52.6,405.3L54.0,405.0L55.4,404.7L56.8,404.4L58.2,404.4L59.6,404.7L61.0,405.0L62.4,405.3L63.8,405.5L65.2,405.8L66.6,406.1L68.1,406.3L69.5,406.6L70.9,406.9L72.3,407.1L73.7,407.4L75.1,407.7L76.5,407.9L77.8,408.2L79.1,408.5L80.3,408.7L81.6,409.0L82.8,409.3L83.9,409.5M32.0,418.0L33.1,417.6L34.3,417.3L35.5,417.0L36.7,416.6L38.0,416.3L39.3,416.0L40.6,415.6L41.9,415.3L43.3,414.9L44.6,414.6L46.0,414.3L47.4,413.9L48.7,413.6L50.1,413.3L51.5,412.9L52.8,412.6L54.2,412.2L55.5,411.9L56.8,411.6L58.2,411.6L59.5,411.9L60.8,412.2L62.2,412.6L63.5,412.9L64.9,413.3L66.3,413.6L67.6,413.9L69.0,414.3L70.4,414.6L71.7,414.9L73.1,415.3L74.4,415.6L75.7,416.0L77.0,416.3L78.3,416.6L79.5,417.0L80.7,417.3L81.9,417.6L83.0,418.0M32.9,425.4L34.1,425.1L35.2,424.7L36.4,424.4L37.6,424.0L38.8,423.6L40.1,423.3L41.4,422.9L42.6,422.6L43.9,422.2L45.2,421.9L46.5,421.5L47.8,421.1L49.1,420.8L50.4,420.4L51.7,420.1L53.0,419.7L54.3,419.4L55.6,419.0L56.9,418.6L58.1,418.6L59.4,419.0L60.7,419.4L62.0,419.7L63.3,420.1L64.6,420.4L65.9,420.8L67.2,421.1L68.5,421.5L69.8,421.9L71.1,422.2L72.4,422.6L73.6,422.9L74.9,423.3L76.2,423.6L77.4,424.0L78.6,424.4L79.8,424.7L80.9,425.1L82.1,425.4M34.0,433.0L35.1,432.6L36.2,432.3L37.4,431.9L38.6,431.6L39.8,431.3L41.0,430.9L42.2,430.6L43.4,430.3L44.6,429.9L45.8,429.6L47.1,429.3L48.3,428.9L49.5,428.6L50.8,428.3L52.0,427.9L53.2,427.6L54.5,427.3L55.7,426.9L56.9,426.6L58.1,426.6L59.3,426.9L60.5,427.3L61.8,427.6L63.0,427.9L64.2,428.3L65.5,428.6L66.7,428.9L67.9,429.3L69.2,429.6L70.4,429.9L71.6,430.3L72.8,430.6L74.0,430.9L75.2,431.3L76.4,431.6L77.6,431.9L78.8,432.3L79.9,432.6L81.0,433.0M34.8,438.8L36.0,438.5L37.1,438.2L38.2,437.9L39.4,437.6L40.5,437.3L41.7,437.0L42.8,436.7L44.0,436.4L45.2,436.1L46.3,435.8L47.5,435.5L48.7,435.2L49.9,434.9L51.0,434.6L52.2,434.3L53.4,434.0L54.6,433.6L55.8,433.3L56.9,433.0L58.1,433.0L59.2,433.3L60.4,433.6L61.6,434.0L62.8,434.3L64.0,434.6L65.1,434.9L66.3,435.2L67.5,435.5L68.7,435.8L69.8,436.1L71.0,436.4L72.2,436.7L73.3,437.0L74.5,437.3L75.6,437.6L76.8,437.9L77.9,438.2L79.0,438.5L80.2,438.8M35.4,442.3L36.5,442.0L37.6,441.8L38.7,441.5L39.8,441.2L41.0,440.9L42.1,440.6L43.2,440.3L44.4,440.0L45.5,439.7L46.7,439.5L47.8,439.2L48.9,438.9L50.1,438.6L51.2,438.3L52.4,438.0L53.5,437.7L54.7,437.4L55.8,437.2L56.9,436.9L58.1,436.9L59.2,437.2L60.3,437.4L61.5,437.7L62.6,438.0L63.8,438.3L64.9,438.6L66.1,438.9L67.2,439.2L68.3,439.5L69.5,439.7L70.6,440.0L71.8,440.3L72.9,440.6L74.0,440.9L75.2,441.2L76.3,441.5L77.4,441.8L78.5,442.0L79.6,442.3M35.7,444.7L36.8,444.4L37.9,444.1L39.1,443.9L40.2,443.6L41.3,443.3L42.4,443.0L43.5,442.8L44.6,442.5L45.8,442.2L46.9,441.9L48.0,441.6L49.1,441.4L50.2,441.1L51.4,440.8L52.5,440.5L53.6,440.3L54.7,440.0L55.8,439.7L56.9,439.4L58.1,439.4L59.2,439.7L60.3,440.0L61.4,440.3L62.5,440.5L63.6,440.8L64.8,441.1L65.9,441.4L67.0,441.6L68.1,441.9L69.2,442.2L70.4,442.5L71.5,442.8L72.6,443.0L73.7,443.3L74.8,443.6L75.9,443.9L77.1,444.1L78.2,444.4L79.3,444.7M27.5,331.2L27.4,333.0L27.3,335.3L27.1,338.1L26.9,341.3L26.8,344.6L26.6,348.0L26.5,351.3L26.4,354.5L26.4,357.4L26.4,360.4L26.4,363.5L26.4,366.6L26.5,369.7L26.6,372.6L26.7,375.5L26.9,378.1L27.1,380.9L27.5,384.1L28.0,386.7L28.5,389.1L29.1,391.8L29.6,395.2L29.9,397.7L30.2,400.4L30.5,403.2L30.8,406.2L31.1,409.3L31.4,412.4L31.7,415.5L32.0,418.5L32.4,421.5L32.8,424.7L33.3,428.0L33.7,431.4L34.2,434.7L34.7,437.8L35.1,440.6L35.4,442.9L35.7,444.7M30.5,331.2L30.4,333.0L30.4,335.3L30.3,338.1L30.2,341.2L30.0,344.5L30.0,347.8L29.9,351.2L29.9,354.3L29.9,357.2L29.9,360.2L30.0,363.3L30.1,366.4L30.2,369.4L30.3,372.4L30.4,375.2L30.6,377.8L30.8,380.5L31.2,383.7L31.7,386.3L32.2,388.7L32.7,391.4L33.2,394.7L33.5,397.2L33.8,399.8L34.1,402.6L34.3,405.5L34.6,408.5L34.9,411.5L35.2,414.5L35.6,417.5L35.9,420.4L36.3,423.6L36.7,427.0L37.2,430.4L37.6,433.7L38.1,436.9L38.5,439.7L38.8,442.1L39.1,443.9M34.5,331.2L34.5,332.9L34.5,335.3L34.4,338.0L34.4,341.1L34.3,344.4L34.2,347.7L34.2,351.0L34.2,354.2L34.3,357.0L34.3,360.0L34.4,363.1L34.5,366.1L34.6,369.2L34.7,372.1L34.8,374.9L35.0,377.5L35.2,380.2L35.5,383.4L35.9,385.9L36.4,388.3L36.8,391.0L37.2,394.3L37.5,396.6L37.8,399.2L38.0,402.0L38.3,404.8L38.5,407.7L38.8,410.6L39.1,413.6L39.4,416.5L39.7,419.3L40.0,422.5L40.4,425.9L40.8,429.3L41.2,432.7L41.5,435.9L41.9,438.8L42.2,441.2L42.4,443.0M39.3,331.2L39.3,332.9L39.3,335.2L39.3,338.0L39.2,341.0L39.2,344.3L39.2,347.6L39.2,350.9L39.2,354.0L39.2,356.9L39.3,359.8L39.3,362.8L39.4,365.9L39.5,368.9L39.6,371.8L39.7,374.6L39.8,377.2L40.0,379.9L40.3,383.0L40.6,385.5L40.9,387.9L41.3,390.6L41.6,393.8L41.8,396.1L42.0,398.7L42.2,401.3L42.4,404.1L42.7,406.9L42.9,409.8L43.1,412.6L43.3,415.4L43.6,418.3L43.8,421.4L44.1,424.8L44.5,428.3L44.8,431.8L45.1,435.0L45.3,437.9L45.6,440.4L45.8,442.2M44.6,331.2L44.6,332.9L44.6,335.2L44.5,337.9L44.5,340.9L44.5,344.2L44.5,347.5L44.4,350.8L44.5,353.8L44.5,356.7L44.5,359.6L44.6,362.6L44.6,365.7L44.7,368.7L44.7,371.6L44.8,374.3L44.9,376.9L45.0,379.5L45.2,382.7L45.4,385.2L45.7,387.5L46.0,390.1L46.2,393.3L46.3,395.6L46.5,398.1L46.6,400.7L46.8,403.4L46.9,406.1L47.1,408.9L47.2,411.6L47.4,414.4L47.6,417.2L47.8,420.4L48.0,423.8L48.2,427.3L48.4,430.8L48.6,434.1L48.8,437.0L49.0,439.5L49.1,441.4M50.0,331.2L50.0,332.9L49.9,335.1L49.9,337.8L49.9,340.9L49.9,344.1L49.8,347.4L49.8,350.6L49.8,353.7L49.8,356.5L49.9,359.4L49.9,362.4L49.9,365.4L49.9,368.4L50.0,371.3L50.0,374.0L50.1,376.6L50.1,379.2L50.2,382.3L50.4,384.8L50.5,387.1L50.7,389.7L50.8,392.9L50.9,395.1L51.0,397.5L51.0,400.1L51.1,402.7L51.2,405.3L51.3,408.0L51.4,410.7L51.5,413.4L51.6,416.2L51.7,419.3L51.8,422.7L51.9,426.3L52.1,429.8L52.2,433.1L52.3,436.1L52.4,438.6L52.5,440.5M55.1,331.2L55.1,332.9L55.1,335.1L55.1,337.8L55.1,340.8L55.1,344.0L55.1,347.3L55.0,350.5L55.0,353.5L55.0,356.3L55.0,359.2L55.0,362.2L55.1,365.2L55.1,368.2L55.1,371.0L55.1,373.7L55.1,376.3L55.1,378.9L55.1,382.0L55.2,384.4L55.2,386.7L55.3,389.3L55.3,392.4L55.3,394.6L55.4,397.0L55.4,399.4L55.4,402.0L55.4,404.5L55.5,407.1L55.5,409.7L55.5,412.4L55.6,415.1L55.6,418.2L55.6,421.7L55.7,425.3L55.7,428.8L55.7,432.2L55.8,435.3L55.8,437.8L55.8,439.7M59.9,331.2L59.9,332.9L59.9,335.1L59.9,337.8L59.9,340.8L59.9,344.0L59.9,347.3L60.0,350.5L60.0,353.5L60.0,356.3L60.0,359.2L60.0,362.2L59.9,365.2L59.9,368.2L59.9,371.0L59.9,373.7L59.9,376.3L59.9,378.9L59.9,382.0L59.8,384.4L59.8,386.7L59.7,389.3L59.7,392.4L59.7,394.6L59.6,397.0L59.6,399.4L59.6,402.0L59.6,404.5L59.5,407.1L59.5,409.7L59.5,412.4L59.4,415.1L59.4,418.2L59.4,421.7L59.3,425.3L59.3,428.8L59.3,432.2L59.2,435.3L59.2,437.8L59.2,439.7M65.0,331.2L65.0,332.9L65.1,335.1L65.1,337.8L65.1,340.9L65.1,344.1L65.2,347.4L65.2,350.6L65.2,353.7L65.2,356.5L65.1,359.4L65.1,362.4L65.1,365.4L65.1,368.4L65.0,371.3L65.0,374.0L64.9,376.6L64.9,379.2L64.8,382.3L64.6,384.8L64.5,387.1L64.3,389.7L64.2,392.9L64.1,395.1L64.0,397.5L64.0,400.1L63.9,402.7L63.8,405.3L63.7,408.0L63.6,410.7L63.5,413.4L63.4,416.2L63.3,419.3L63.2,422.7L63.1,426.3L62.9,429.8L62.8,433.1L62.7,436.1L62.6,438.6L62.5,440.5M70.4,331.2L70.4,332.9L70.4,335.2L70.5,337.9L70.5,340.9L70.5,344.2L70.5,347.5L70.6,350.8L70.5,353.8L70.5,356.7L70.5,359.6L70.4,362.6L70.4,365.7L70.3,368.7L70.3,371.6L70.2,374.3L70.1,376.9L70.0,379.5L69.8,382.7L69.6,385.2L69.3,387.5L69.0,390.1L68.8,393.3L68.7,395.6L68.5,398.1L68.4,400.7L68.2,403.4L68.1,406.1L67.9,408.9L67.8,411.6L67.6,414.4L67.4,417.2L67.2,420.4L67.0,423.8L66.8,427.3L66.6,430.8L66.4,434.1L66.2,437.0L66.0,439.5L65.9,441.4M75.7,331.2L75.7,332.9L75.7,335.2L75.7,338.0L75.8,341.0L75.8,344.3L75.8,347.6L75.8,350.9L75.8,354.0L75.8,356.9L75.7,359.8L75.7,362.8L75.6,365.9L75.5,368.9L75.4,371.8L75.3,374.6L75.2,377.2L75.0,379.9L74.7,383.0L74.4,385.5L74.1,387.9L73.7,390.6L73.4,393.8L73.2,396.1L73.0,398.7L72.8,401.3L72.6,404.1L72.3,406.9L72.1,409.8L71.9,412.6L71.7,415.4L71.4,418.3L71.2,421.4L70.9,424.8L70.5,428.3L70.2,431.8L69.9,435.0L69.7,437.9L69.4,440.4L69.2,442.2M80.5,331.2L80.5,332.9L80.5,335.3L80.6,338.0L80.6,341.1L80.7,344.4L80.8,347.7L80.8,351.0L80.8,354.2L80.7,357.0L80.7,360.0L80.6,363.1L80.5,366.1L80.4,369.2L80.3,372.1L80.2,374.9L80.0,377.5L79.8,380.2L79.5,383.4L79.1,385.9L78.6,388.3L78.2,391.0L77.8,394.3L77.5,396.6L77.2,399.2L77.0,402.0L76.7,404.8L76.5,407.7L76.2,410.6L75.9,413.6L75.6,416.5L75.3,419.3L75.0,422.5L74.6,425.9L74.2,429.3L73.8,432.7L73.5,435.9L73.1,438.8L72.8,441.2L72.6,443.0M84.5,331.2L84.6,333.0L84.6,335.3L84.7,338.1L84.8,341.2L85.0,344.5L85.0,347.8L85.1,351.2L85.1,354.3L85.1,357.2L85.1,360.2L85.0,363.3L84.9,366.4L84.8,369.4L84.7,372.4L84.6,375.2L84.4,377.8L84.2,380.5L83.8,383.7L83.3,386.3L82.8,388.7L82.3,391.4L81.8,394.7L81.5,397.2L81.2,399.8L80.9,402.6L80.7,405.5L80.4,408.5L80.1,411.5L79.8,414.5L79.4,417.5L79.1,420.4L78.7,423.6L78.3,427.0L77.8,430.4L77.4,433.7L76.9,436.9L76.5,439.7L76.2,442.1L75.9,443.9M87.5,331.2L87.6,333.0L87.7,335.3L87.9,338.1L88.1,341.3L88.2,344.6L88.4,348.0L88.5,351.3L88.6,354.5L88.6,357.4L88.6,360.4L88.6,363.5L88.6,366.6L88.5,369.7L88.4,372.6L88.3,375.5L88.1,378.1L87.9,380.9L87.5,384.1L87.0,386.7L86.5,389.1L85.9,391.8L85.4,395.2L85.1,397.7L84.8,400.4L84.5,403.2L84.2,406.2L83.9,409.3L83.6,412.4L83.3,415.5L83.0,418.5L82.6,421.5L82.2,424.7L81.7,428.0L81.3,431.4L80.8,434.7L80.3,437.8L79.9,440.6L79.6,442.9L79.3,444.7" fill="none" stroke="#22ecf2" stroke-width="1.6" stroke-linejoin="round"/><path d="M57.5,339.4L62.2,341.4L66.9,342.7L83.6,376.0L70.3,419.6L66.4,423.8L57.5,424.0L48.6,423.8L44.7,419.6L31.4,376.0L48.1,342.7L52.8,341.4ZM57.5,339.4L57.5,429.6" fill="none" stroke="#1e1ed6" stroke-width="1.8" stroke-linejoin="round"/><circle cx="57.5" cy="339.4" r="1.3" fill="#1e1ed6"/><circle cx="62.2" cy="341.4" r="1.3" fill="#1e1ed6"/><circle cx="66.9" cy="342.7" r="1.3" fill="#1e1ed6"/><circle cx="83.6" cy="376.0" r="1.3" fill="#1e1ed6"/><circle cx="70.3" cy="419.6" r="1.3" fill="#1e1ed6"/><circle cx="66.4" cy="423.8" r="1.3" fill="#1e1ed6"/><circle cx="57.5" cy="424.0" r="1.3" fill="#1e1ed6"/><circle cx="48.6" cy="423.8" r="1.3" fill="#1e1ed6"/><circle cx="44.7" cy="419.6" r="1.3" fill="#1e1ed6"/><circle cx="31.4" cy="376.0" r="1.3" fill="#1e1ed6"/><circle cx="48.1" cy="342.7" r="1.3" fill="#1e1ed6"/><circle cx="52.8" cy="341.4" r="1.3" fill="#1e1ed6"/><circle cx="57.5" cy="429.6" r="1.3" fill="#1e1ed6"/><path d="M93.0,331.0L94.2,331.0L95.6,331.0L97.1,331.0L98.9,331.0L100.8,331.0L102.8,331.0L104.9,331.0L107.2,331.0L109.5,331.0L111.9,331.0L114.3,331.0L116.8,331.0L119.3,331.0L121.8,331.0L124.3,331.0L126.7,331.0L129.1,331.0L131.5,331.0L133.7,331.0L135.9,331.0L138.1,331.0L140.5,331.0L142.9,331.0L145.3,331.0L147.8,331.0L150.3,331.0L152.8,331.0L155.3,331.0L157.7,331.0L160.1,331.0L162.4,331.0L164.7,331.0L166.8,331.0L168.8,331.0L170.7,331.0L172.5,331.0L174.0,331.0L175.4,331.0L176.6,331.0M92.9,343.0L94.1,343.1L95.5,343.1L97.1,343.2L98.9,343.2L100.8,343.3L102.9,343.4L105.1,343.4L107.4,343.5L109.8,343.5L112.1,343.6L114.5,343.6L117.0,343.6L119.5,343.6L121.9,343.7L124.4,343.7L126.8,343.7L129.2,343.7L131.5,343.7L133.7,343.7L135.9,343.7L138.1,343.7L140.4,343.7L142.8,343.7L145.2,343.7L147.7,343.7L150.1,343.6L152.6,343.6L155.1,343.6L157.5,343.6L159.8,343.5L162.2,343.5L164.5,343.4L166.7,343.4L168.8,343.3L170.7,343.2L172.5,343.2L174.1,343.1L175.5,343.1L176.7,343.0M92.6,356.9L93.8,357.2L95.2,357.4L96.9,357.6L98.8,357.8L100.8,357.9L103.0,358.1L105.2,358.3L107.6,358.4L109.9,358.5L112.3,358.6L114.7,358.7L117.1,358.7L119.6,358.8L122.0,358.8L124.4,358.9L126.8,358.9L129.2,358.9L131.5,359.0L133.7,359.0L135.9,359.0L138.1,359.0L140.4,358.9L142.8,358.9L145.2,358.9L147.6,358.8L150.0,358.8L152.5,358.7L154.9,358.7L157.3,358.6L159.7,358.5L162.0,358.4L164.4,358.3L166.6,358.1L168.8,357.9L170.8,357.8L172.7,357.6L174.4,357.4L175.8,357.2L177.0,356.9M91.9,368.5L93.1,369.1L94.6,369.7L96.4,370.1L98.3,370.6L100.4,371.0L102.7,371.3L105.0,371.6L107.4,371.9L109.8,372.1L112.2,372.3L114.6,372.4L117.1,372.5L119.5,372.6L121.9,372.7L124.3,372.7L126.7,372.8L129.1,372.8L131.4,372.9L133.7,372.9L135.9,372.9L138.2,372.9L140.5,372.8L142.9,372.8L145.3,372.7L147.7,372.7L150.1,372.6L152.5,372.5L155.0,372.4L157.4,372.3L159.8,372.1L162.2,371.9L164.6,371.6L166.9,371.3L169.2,371.0L171.3,370.6L173.2,370.1L175.0,369.7L176.5,369.1L177.7,368.5M90.5,378.1L91.8,379.0L93.4,379.9L95.2,380.6L97.3,381.3L99.5,381.9L101.9,382.4L104.3,382.9L106.8,383.3L109.3,383.6L111.8,383.8L114.2,384.0L116.7,384.2L119.2,384.3L121.6,384.4L124.1,384.5L126.5,384.5L128.9,384.6L131.3,384.6L133.7,384.6L135.9,384.6L138.3,384.6L140.7,384.6L143.1,384.5L145.5,384.5L148.0,384.4L150.4,384.3L152.9,384.2L155.4,384.0L157.8,383.8L160.3,383.6L162.8,383.3L165.3,382.9L167.7,382.4L170.1,381.9L172.3,381.3L174.4,380.6L176.2,379.9L177.8,379.0L179.1,378.1M89.6,382.6L90.9,383.7L92.6,384.6L94.5,385.4L96.6,386.2L98.9,386.8L101.4,387.4L103.9,387.9L106.4,388.3L109.0,388.6L111.4,388.9L113.9,389.1L116.4,389.3L118.9,389.4L121.4,389.5L123.9,389.6L126.4,389.7L128.8,389.8L131.3,389.8L133.6,389.8L136.0,389.8L138.3,389.8L140.8,389.8L143.2,389.7L145.7,389.6L148.2,389.5L150.7,389.4L153.2,389.3L155.7,389.1L158.2,388.9L160.6,388.6L163.2,388.3L165.7,387.9L168.2,387.4L170.7,386.8L173.0,386.2L175.1,385.4L177.0,384.6L178.7,383.7L180.0,382.6M88.7,387.2L90.1,388.3L91.8,389.2L93.8,390.1L96.0,390.9L98.3,391.5L100.8,392.1L103.4,392.6L106.0,393.1L108.6,393.4L111.1,393.7L113.6,393.9L116.2,394.1L118.7,394.3L121.2,394.4L123.8,394.5L126.3,394.6L128.7,394.6L131.2,394.7L133.6,394.7L136.0,394.7L138.4,394.7L140.9,394.6L143.3,394.6L145.8,394.5L148.4,394.4L150.9,394.3L153.4,394.1L156.0,393.9L158.5,393.7L161.0,393.4L163.6,393.1L166.2,392.6L168.8,392.1L171.3,391.5L173.6,390.9L175.8,390.1L177.8,389.2L179.5,388.3L180.9,387.2M87.5,393.4L89.0,394.4L90.7,395.2L92.8,396.0L95.1,396.7L97.5,397.4L100.1,397.9L102.8,398.4L105.5,398.8L108.1,399.2L110.7,399.5L113.3,399.7L115.8,399.9L118.4,400.0L121.0,400.2L123.5,400.3L126.1,400.4L128.6,400.4L131.1,400.5L133.6,400.5L136.0,400.5L138.5,400.5L141.0,400.4L143.5,400.4L146.1,400.3L148.6,400.2L151.2,400.0L153.8,399.9L156.3,399.7L158.9,399.5L161.5,399.2L164.1,398.8L166.8,398.4L169.5,397.9L172.1,397.4L174.5,396.7L176.8,396.0L178.9,395.2L180.6,394.4L182.1,393.4M86.3,401.3L87.8,402.0L89.6,402.6L91.8,403.2L94.2,403.8L96.7,404.3L99.4,404.8L102.2,405.2L105.0,405.6L107.7,405.9L110.3,406.2L112.9,406.4L115.5,406.6L118.1,406.7L120.7,406.9L123.3,407.0L125.9,407.1L128.5,407.1L131.0,407.2L133.6,407.2L136.0,407.2L138.6,407.2L141.1,407.1L143.7,407.1L146.3,407.0L148.9,406.9L151.5,406.7L154.1,406.6L156.7,406.4L159.3,406.2L161.9,405.9L164.6,405.6L167.4,405.2L170.2,404.8L172.9,404.3L175.4,403.8L177.8,403.2L180.0,402.6L181.8,402.0L183.3,401.3M85.8,409.7L87.3,410.1L89.2,410.6L91.4,411.0L93.8,411.5L96.4,411.9L99.2,412.3L102.0,412.7L104.8,413.0L107.6,413.3L110.2,413.5L112.8,413.7L115.4,413.9L118.0,414.1L120.6,414.2L123.3,414.3L125.8,414.4L128.4,414.5L131.0,414.6L133.5,414.6L136.1,414.6L138.6,414.6L141.2,414.5L143.8,414.4L146.3,414.3L149.0,414.2L151.6,414.1L154.2,413.9L156.8,413.7L159.4,413.5L162.0,413.3L164.8,413.0L167.6,412.7L170.4,412.3L173.2,411.9L175.8,411.5L178.2,411.0L180.4,410.6L182.3,410.1L183.8,409.7M85.5,419.2L87.0,419.5L88.9,419.8L91.2,420.2L93.7,420.5L96.4,420.9L99.2,421.3L102.0,421.7L104.9,422.0L107.7,422.3L110.3,422.5L112.9,422.7L115.5,422.9L118.1,423.0L120.7,423.2L123.3,423.3L125.8,423.4L128.4,423.5L131.0,423.6L133.5,423.6L136.1,423.6L138.6,423.6L141.2,423.5L143.8,423.4L146.3,423.3L148.9,423.2L151.5,423.0L154.1,422.9L156.7,422.7L159.3,422.5L161.9,422.3L164.7,422.0L167.6,421.7L170.4,421.3L173.2,420.9L175.9,420.5L178.4,420.2L180.7,419.8L182.6,419.5L184.1,419.2M85.4,429.2L86.9,429.4L88.8,429.7L91.1,430.0L93.6,430.3L96.4,430.7L99.2,431.1L102.1,431.5L105.0,431.8L107.8,432.1L110.4,432.3L113.0,432.5L115.6,432.7L118.1,432.9L120.7,433.1L123.3,433.2L125.9,433.3L128.4,433.4L131.0,433.5L133.5,433.5L136.1,433.5L138.6,433.5L141.2,433.4L143.7,433.3L146.3,433.2L148.9,433.1L151.5,432.9L154.0,432.7L156.6,432.5L159.2,432.3L161.8,432.1L164.6,431.8L167.5,431.5L170.4,431.1L173.2,430.7L176.0,430.3L178.5,430.0L180.8,429.7L182.7,429.4L184.2,429.2M85.3,436.7L86.8,436.9L88.7,437.2L91.0,437.5L93.6,437.9L96.4,438.3L99.3,438.7L102.2,439.1L105.1,439.4L107.9,439.8L110.5,440.0L113.1,440.2L115.7,440.4L118.2,440.6L120.8,440.8L123.3,441.0L125.9,441.1L128.4,441.2L131.0,441.3L133.5,441.3L136.1,441.3L138.6,441.3L141.2,441.2L143.7,441.1L146.3,441.0L148.8,440.8L151.4,440.6L153.9,440.4L156.5,440.2L159.1,440.0L161.7,439.8L164.5,439.4L167.4,439.1L170.3,438.7L173.2,438.3L176.0,437.9L178.6,437.5L180.9,437.2L182.8,436.9L184.3,436.7M85.2,440.2L86.7,440.4L88.7,440.7L91.0,441.1L93.6,441.5L96.4,441.9L99.3,442.3L102.3,442.7L105.2,443.1L108.0,443.4L110.6,443.7L113.2,443.9L115.7,444.1L118.3,444.3L120.8,444.5L123.4,444.7L125.9,444.8L128.4,444.9L131.0,445.0L133.5,445.0L136.1,445.0L138.6,445.0L141.2,444.9L143.7,444.8L146.2,444.7L148.8,444.5L151.3,444.3L153.9,444.1L156.4,443.9L159.0,443.7L161.6,443.4L164.4,443.1L167.3,442.7L170.3,442.3L173.2,441.9L176.0,441.5L178.6,441.1L180.9,440.7L182.9,440.4L184.4,440.2M93.0,331.0L93.0,332.7L93.0,335.1L92.9,337.9L92.9,341.0L92.9,344.2L92.8,347.6L92.8,350.8L92.7,353.7L92.6,356.3L92.5,359.5L92.4,362.6L92.2,365.2L92.0,367.7L91.7,370.2L91.4,373.0L90.9,375.7L90.4,378.5L89.9,381.3L89.3,384.1L88.8,387.0L88.3,389.7L87.8,392.0L87.4,394.4L86.9,396.8L86.5,399.7L86.1,403.2L85.9,406.3L85.8,408.8L85.7,411.6L85.6,414.7L85.5,417.9L85.5,421.3L85.4,424.6L85.4,427.9L85.3,431.0L85.3,433.8L85.3,436.4L85.2,438.5L85.2,440.2M97.1,331.0L97.1,332.8L97.1,335.1L97.1,338.0L97.1,341.1L97.1,344.4L97.0,347.8L97.0,351.1L97.0,354.2L96.9,356.9L96.8,360.3L96.7,363.6L96.6,366.4L96.4,369.2L96.2,372.0L95.9,375.0L95.6,378.1L95.2,381.1L94.7,384.0L94.2,387.0L93.8,389.8L93.4,392.5L93.0,394.7L92.6,396.9L92.3,399.1L91.9,401.8L91.6,405.0L91.5,407.8L91.4,410.1L91.3,412.8L91.3,415.8L91.2,418.9L91.2,422.2L91.1,425.5L91.1,428.7L91.1,431.8L91.1,434.7L91.0,437.2L91.0,439.4L91.0,441.1M102.8,331.0L102.8,332.8L102.9,335.2L102.9,338.1L102.9,341.3L102.9,344.6L103.0,348.1L103.0,351.4L103.0,354.6L103.0,357.5L102.9,361.0L102.9,364.3L102.8,367.4L102.7,370.3L102.6,373.3L102.4,376.5L102.1,379.7L101.8,382.9L101.5,386.0L101.2,389.0L100.9,391.9L100.6,394.5L100.3,396.7L100.0,398.7L99.8,400.9L99.5,403.4L99.3,406.6L99.2,409.2L99.2,411.4L99.2,414.0L99.2,416.9L99.2,420.0L99.2,423.3L99.2,426.6L99.2,429.8L99.2,432.9L99.3,435.8L99.3,438.4L99.3,440.6L99.3,442.3M109.5,331.0L109.6,332.8L109.6,335.3L109.7,338.2L109.7,341.4L109.8,344.8L109.8,348.3L109.9,351.7L109.9,354.9L109.9,357.8L109.9,361.4L109.9,364.9L109.9,368.0L109.9,371.0L109.8,374.2L109.7,377.5L109.5,380.8L109.3,384.0L109.1,387.2L108.8,390.2L108.6,393.2L108.4,395.8L108.2,398.0L108.1,400.0L107.9,402.1L107.7,404.6L107.6,407.7L107.6,410.3L107.6,412.5L107.6,415.0L107.6,417.9L107.6,421.0L107.7,424.2L107.7,427.5L107.8,430.8L107.8,433.9L107.9,436.8L107.9,439.4L108.0,441.7L108.0,443.4M116.8,331.0L116.9,332.9L116.9,335.3L116.9,338.2L117.0,341.5L117.0,344.9L117.0,348.4L117.1,351.9L117.1,355.1L117.1,358.0L117.1,361.7L117.1,365.2L117.1,368.4L117.1,371.4L117.0,374.6L116.9,378.0L116.8,381.3L116.7,384.6L116.5,387.8L116.3,390.9L116.2,393.8L116.0,396.5L115.9,398.7L115.8,400.7L115.6,402.8L115.5,405.2L115.4,408.3L115.4,410.9L115.4,413.1L115.4,415.6L115.4,418.5L115.5,421.6L115.5,424.9L115.5,428.2L115.5,431.4L115.6,434.6L115.6,437.5L115.6,440.1L115.7,442.4L115.7,444.1M124.3,331.0L124.3,332.9L124.3,335.3L124.3,338.3L124.4,341.5L124.4,345.0L124.4,348.5L124.4,352.0L124.4,355.2L124.4,358.2L124.4,361.8L124.4,365.4L124.4,368.6L124.4,371.7L124.3,374.9L124.2,378.3L124.2,381.6L124.1,384.9L124.0,388.1L123.9,391.2L123.8,394.2L123.7,396.9L123.6,399.1L123.5,401.1L123.4,403.2L123.3,405.6L123.3,408.7L123.3,411.3L123.3,413.5L123.3,416.1L123.3,418.9L123.3,422.1L123.3,425.3L123.3,428.6L123.3,431.9L123.3,435.1L123.3,438.0L123.3,440.6L123.3,442.9L123.4,444.7M131.5,331.0L131.5,332.9L131.5,335.4L131.5,338.3L131.5,341.6L131.5,345.0L131.5,348.5L131.5,352.0L131.5,355.3L131.5,358.3L131.5,361.9L131.5,365.4L131.4,368.7L131.4,371.8L131.4,375.0L131.4,378.4L131.4,381.7L131.3,385.1L131.3,388.3L131.2,391.4L131.2,394.4L131.2,397.0L131.1,399.2L131.1,401.3L131.1,403.4L131.0,405.8L131.0,408.9L131.0,411.5L131.0,413.7L131.0,416.3L131.0,419.2L131.0,422.3L131.0,425.6L131.0,428.9L131.0,432.2L131.0,435.3L131.0,438.3L131.0,440.9L131.0,443.2L131.0,445.0M138.1,331.0L138.1,332.9L138.1,335.4L138.1,338.3L138.1,341.6L138.1,345.0L138.1,348.5L138.1,352.0L138.1,355.3L138.1,358.3L138.1,361.9L138.1,365.4L138.2,368.7L138.2,371.8L138.2,375.0L138.2,378.4L138.2,381.7L138.3,385.1L138.3,388.3L138.4,391.4L138.4,394.4L138.4,397.0L138.5,399.2L138.5,401.3L138.5,403.4L138.6,405.8L138.6,408.9L138.6,411.5L138.6,413.7L138.6,416.3L138.6,419.2L138.6,422.3L138.6,425.6L138.6,428.9L138.6,432.2L138.6,435.3L138.6,438.3L138.6,440.9L138.6,443.2L138.6,445.0M145.3,331.0L145.3,332.9L145.3,335.3L145.3,338.3L145.2,341.5L145.2,345.0L145.2,348.5L145.2,352.0L145.2,355.2L145.2,358.2L145.2,361.8L145.2,365.4L145.2,368.6L145.2,371.7L145.3,374.9L145.4,378.3L145.4,381.6L145.5,384.9L145.6,388.1L145.7,391.2L145.8,394.2L145.9,396.9L146.0,399.1L146.1,401.1L146.2,403.2L146.3,405.6L146.3,408.7L146.3,411.3L146.3,413.5L146.3,416.1L146.3,418.9L146.3,422.1L146.3,425.3L146.3,428.6L146.3,431.9L146.3,435.1L146.3,438.0L146.3,440.6L146.3,442.9L146.2,444.7M152.8,331.0L152.7,332.9L152.7,335.3L152.7,338.2L152.6,341.5L152.6,344.9L152.6,348.4L152.5,351.9L152.5,355.1L152.5,358.0L152.5,361.7L152.5,365.2L152.5,368.4L152.5,371.4L152.6,374.6L152.7,378.0L152.8,381.3L152.9,384.6L153.1,387.8L153.3,390.9L153.4,393.8L153.6,396.5L153.7,398.7L153.8,400.7L154.0,402.8L154.1,405.2L154.2,408.3L154.2,410.9L154.2,413.1L154.2,415.6L154.2,418.5L154.1,421.6L154.1,424.9L154.1,428.2L154.1,431.4L154.0,434.6L154.0,437.5L154.0,440.1L153.9,442.4L153.9,444.1M160.1,331.0L160.0,332.8L160.0,335.3L159.9,338.2L159.9,341.4L159.8,344.8L159.8,348.3L159.7,351.7L159.7,354.9L159.7,357.8L159.7,361.4L159.7,364.9L159.7,368.0L159.7,371.0L159.8,374.2L159.9,377.5L160.1,380.8L160.3,384.0L160.5,387.2L160.8,390.2L161.0,393.2L161.2,395.8L161.4,398.0L161.5,400.0L161.7,402.1L161.9,404.6L162.0,407.7L162.0,410.3L162.0,412.5L162.0,415.0L162.0,417.9L162.0,421.0L161.9,424.2L161.9,427.5L161.8,430.8L161.8,433.9L161.7,436.8L161.7,439.4L161.6,441.7L161.6,443.4M166.8,331.0L166.8,332.8L166.7,335.2L166.7,338.1L166.7,341.3L166.7,344.6L166.6,348.1L166.6,351.4L166.6,354.6L166.6,357.5L166.7,361.0L166.7,364.3L166.8,367.4L166.9,370.3L167.0,373.3L167.2,376.5L167.5,379.7L167.8,382.9L168.1,386.0L168.4,389.0L168.7,391.9L169.0,394.5L169.3,396.7L169.6,398.7L169.8,400.9L170.1,403.4L170.3,406.6L170.4,409.2L170.4,411.4L170.4,414.0L170.4,416.9L170.4,420.0L170.4,423.3L170.4,426.6L170.4,429.8L170.4,432.9L170.3,435.8L170.3,438.4L170.3,440.6L170.3,442.3M172.5,331.0L172.5,332.8L172.5,335.1L172.5,338.0L172.5,341.1L172.5,344.4L172.6,347.8L172.6,351.1L172.6,354.2L172.7,356.9L172.8,360.3L172.9,363.6L173.0,366.4L173.2,369.2L173.4,372.0L173.7,375.0L174.0,378.1L174.4,381.1L174.9,384.0L175.4,387.0L175.8,389.8L176.2,392.5L176.6,394.7L177.0,396.9L177.3,399.1L177.7,401.8L178.0,405.0L178.1,407.8L178.2,410.1L178.3,412.8L178.3,415.8L178.4,418.9L178.4,422.2L178.5,425.5L178.5,428.7L178.5,431.8L178.5,434.7L178.6,437.2L178.6,439.4L178.6,441.1M176.6,331.0L176.6,332.7L176.6,335.1L176.7,337.9L176.7,341.0L176.7,344.2L176.8,347.6L176.8,350.8L176.9,353.7L177.0,356.3L177.1,359.5L177.2,362.6L177.4,365.2L177.6,367.7L177.9,370.2L178.2,373.0L178.7,375.7L179.2,378.5L179.7,381.3L180.3,384.1L180.8,387.0L181.3,389.7L181.8,392.0L182.2,394.4L182.7,396.8L183.1,399.7L183.5,403.2L183.7,406.3L183.8,408.8L183.9,411.6L184.0,414.7L184.1,417.9L184.1,421.3L184.2,424.6L184.2,427.9L184.3,431.0L184.3,433.8L184.3,436.4L184.4,438.5L184.4,440.2" fill="none" stroke="#22ecf2" stroke-width="1.6" stroke-linejoin="round"/><path d="M134.8,344.9L142.9,350.7L148.6,348.7L169.3,380.4L167.9,396.9L160.4,413.7L134.8,425.8L109.2,413.7L101.7,396.9L100.3,380.4L121.0,348.7L126.7,350.7ZM134.8,344.9L134.8,433.0" fill="none" stroke="#1e1ed6" stroke-width="1.8" stroke-linejoin="round"/><circle cx="134.8" cy="344.9" r="1.3" fill="#1e1ed6"/><circle cx="142.9" cy="350.7" r="1.3" fill="#1e1ed6"/><circle cx="148.6" cy="348.7" r="1.3" fill="#1e1ed6"/><circle cx="169.3" cy="380.4" r="1.3" fill="#1e1ed6"/><circle cx="167.9" cy="396.9" r="1.3" fill="#1e1ed6"/><circle cx="160.4" cy="413.7" r="1.3" fill="#1e1ed6"/><circle cx="134.8" cy="425.8" r="1.3" fill="#1e1ed6"/><circle cx="109.2" cy="413.7" r="1.3" fill="#1e1ed6"/><circle cx="101.7" cy="396.9" r="1.3" fill="#1e1ed6"/><circle cx="100.3" cy="380.4" r="1.3" fill="#1e1ed6"/><circle cx="121.0" cy="348.7" r="1.3" fill="#1e1ed6"/><circle cx="126.7" cy="350.7" r="1.3" fill="#1e1ed6"/><circle cx="134.8" cy="433.0" r="1.3" fill="#1e1ed6"/><path d="M195.7,332.2L196.6,332.4L197.8,332.7L199.3,333.1L200.9,333.5L202.6,333.9L204.4,334.3L206.2,334.7L208.0,335.0L209.8,335.3L211.4,335.6L213.0,335.8L214.5,336.0L216.1,336.2L217.7,336.3L219.3,336.4L220.9,336.5L222.4,336.6L224.0,336.7L225.6,336.7L227.2,336.7L228.8,336.7L230.4,336.6L231.9,336.5L233.5,336.4L235.1,336.3L236.7,336.2L238.3,336.0L239.8,335.8L241.4,335.6L243.0,335.3L244.8,335.0L246.6,334.7L248.4,334.3L250.2,333.9L251.9,333.5L253.5,333.1L255.0,332.7L256.2,332.4L257.1,332.2M195.6,337.3L196.5,337.6L197.7,338.0L199.2,338.4L200.8,338.9L202.5,339.4L204.3,339.9L206.2,340.3L208.0,340.8L209.7,341.1L211.3,341.5L212.9,341.7L214.5,342.0L216.1,342.2L217.7,342.4L219.3,342.5L220.8,342.7L222.4,342.7L224.0,342.8L225.6,342.8L227.2,342.8L228.8,342.8L230.4,342.7L232.0,342.7L233.5,342.5L235.1,342.4L236.7,342.2L238.3,342.0L239.9,341.7L241.5,341.5L243.1,341.1L244.8,340.8L246.6,340.3L248.5,339.9L250.3,339.4L252.0,338.9L253.6,338.4L255.1,338.0L256.3,337.6L257.2,337.3M195.4,342.8L196.3,343.3L197.6,343.8L199.0,344.3L200.6,344.9L202.4,345.5L204.2,346.1L206.1,346.6L207.9,347.1L209.6,347.6L211.3,348.0L212.9,348.4L214.4,348.7L216.0,348.9L217.6,349.2L219.2,349.4L220.8,349.5L222.4,349.7L224.0,349.7L225.6,349.8L227.2,349.8L228.8,349.7L230.4,349.7L232.0,349.5L233.6,349.4L235.2,349.2L236.8,348.9L238.4,348.7L239.9,348.4L241.5,348.0L243.2,347.6L244.9,347.1L246.7,346.6L248.6,346.1L250.4,345.5L252.2,344.9L253.8,344.3L255.2,343.8L256.5,343.3L257.4,342.8M195.2,348.7L196.2,349.2L197.4,349.8L198.9,350.5L200.5,351.1L202.3,351.8L204.1,352.5L206.0,353.2L207.8,353.8L209.5,354.4L211.2,354.8L212.8,355.3L214.4,355.7L216.0,356.0L217.6,356.3L219.2,356.5L220.8,356.7L222.4,356.9L224.0,357.0L225.6,357.0L227.2,357.0L228.8,357.0L230.4,356.9L232.0,356.7L233.6,356.5L235.2,356.3L236.8,356.0L238.4,355.7L240.0,355.3L241.6,354.8L243.3,354.4L245.0,353.8L246.8,353.2L248.7,352.5L250.5,351.8L252.3,351.1L253.9,350.5L255.4,349.8L256.6,349.2L257.6,348.7M195.1,355.0L196.0,355.7L197.3,356.4L198.7,357.1L200.4,357.9L202.1,358.6L204.0,359.4L205.8,360.1L207.7,360.8L209.5,361.4L211.1,362.0L212.7,362.4L214.3,362.9L215.9,363.3L217.5,363.6L219.2,363.9L220.8,364.1L222.4,364.3L224.0,364.4L225.6,364.4L227.2,364.4L228.8,364.4L230.4,364.3L232.0,364.1L233.6,363.9L235.3,363.6L236.9,363.3L238.5,362.9L240.1,362.4L241.7,362.0L243.3,361.4L245.1,360.8L247.0,360.1L248.8,359.4L250.7,358.6L252.4,357.9L254.1,357.1L255.5,356.4L256.8,355.7L257.7,355.0M194.9,362.1L195.8,362.7L197.1,363.4L198.6,364.1L200.2,364.9L202.0,365.6L203.9,366.4L205.7,367.1L207.6,367.8L209.4,368.4L211.0,369.0L212.6,369.4L214.3,369.9L215.9,370.2L217.5,370.6L219.1,370.8L220.7,371.1L222.4,371.2L224.0,371.4L225.6,371.4L227.2,371.4L228.8,371.4L230.4,371.2L232.1,371.1L233.7,370.8L235.3,370.6L236.9,370.2L238.5,369.9L240.2,369.4L241.8,369.0L243.4,368.4L245.2,367.8L247.1,367.1L248.9,366.4L250.8,365.6L252.6,364.9L254.2,364.1L255.7,363.4L257.0,362.7L257.9,362.1M194.7,369.5L195.7,370.0L196.9,370.6L198.4,371.2L200.1,371.8L201.9,372.5L203.7,373.1L205.6,373.7L207.5,374.3L209.3,374.8L211.0,375.3L212.6,375.7L214.2,376.0L215.8,376.3L217.5,376.6L219.1,376.8L220.7,377.0L222.3,377.2L224.0,377.3L225.6,377.3L227.2,377.3L228.8,377.3L230.5,377.2L232.1,377.0L233.7,376.8L235.3,376.6L237.0,376.3L238.6,376.0L240.2,375.7L241.8,375.3L243.5,374.8L245.3,374.3L247.2,373.7L249.1,373.1L250.9,372.5L252.7,371.8L254.4,371.2L255.9,370.6L257.1,370.0L258.1,369.5M194.5,378.2L195.5,378.5L196.8,378.9L198.3,379.3L199.9,379.8L201.7,380.3L203.6,380.8L205.5,381.2L207.4,381.7L209.2,382.0L210.9,382.4L212.5,382.6L214.2,382.9L215.8,383.1L217.4,383.3L219.1,383.5L220.7,383.6L222.3,383.7L224.0,383.7L225.6,383.8L227.2,383.8L228.8,383.7L230.5,383.7L232.1,383.6L233.7,383.5L235.4,383.3L237.0,383.1L238.6,382.9L240.3,382.6L241.9,382.4L243.6,382.0L245.4,381.7L247.3,381.2L249.2,380.8L251.1,380.3L252.9,379.8L254.5,379.3L256.0,378.9L257.3,378.5L258.3,378.2M194.3,389.3L195.3,389.5L196.6,389.8L198.1,390.1L199.8,390.5L201.6,390.9L203.5,391.3L205.4,391.7L207.3,392.0L209.1,392.3L210.8,392.6L212.4,392.8L214.1,393.0L215.7,393.1L217.4,393.3L219.0,393.4L220.7,393.5L222.3,393.6L223.9,393.6L225.6,393.6L227.2,393.6L228.9,393.6L230.5,393.6L232.1,393.5L233.8,393.4L235.4,393.3L237.1,393.1L238.7,393.0L240.4,392.8L242.0,392.6L243.7,392.3L245.5,392.0L247.4,391.7L249.3,391.3L251.2,390.9L253.0,390.5L254.7,390.1L256.2,389.8L257.5,389.5L258.5,389.3M194.1,401.5L195.1,401.7L196.4,402.0L197.9,402.3L199.6,402.6L201.4,403.0L203.3,403.4L205.3,403.8L207.2,404.1L209.0,404.4L210.7,404.6L212.4,404.8L214.0,405.0L215.7,405.2L217.3,405.3L219.0,405.4L220.6,405.5L222.3,405.6L223.9,405.6L225.6,405.6L227.2,405.6L228.9,405.6L230.5,405.6L232.2,405.5L233.8,405.4L235.5,405.3L237.1,405.2L238.8,405.0L240.4,404.8L242.1,404.6L243.8,404.4L245.6,404.1L247.5,403.8L249.5,403.4L251.4,403.0L253.2,402.6L254.9,402.3L256.4,402.0L257.7,401.7L258.7,401.5M193.9,415.3L194.9,415.4L196.2,415.7L197.7,416.0L199.4,416.4L201.2,416.8L203.2,417.1L205.1,417.5L207.0,417.9L208.9,418.1L210.6,418.4L212.3,418.6L213.9,418.8L215.6,418.9L217.3,419.0L218.9,419.2L220.6,419.3L222.2,419.3L223.9,419.4L225.6,419.4L227.2,419.4L228.9,419.4L230.6,419.3L232.2,419.3L233.9,419.2L235.5,419.0L237.2,418.9L238.9,418.8L240.5,418.6L242.2,418.4L243.9,418.1L245.8,417.9L247.7,417.5L249.6,417.1L251.6,416.8L253.4,416.4L255.1,416.0L256.6,415.7L257.9,415.4L258.9,415.3M193.6,429.8L194.6,430.0L195.9,430.2L197.5,430.6L199.2,430.9L201.1,431.3L203.0,431.7L205.0,432.0L206.9,432.4L208.8,432.7L210.5,432.9L212.2,433.1L213.9,433.3L215.5,433.4L217.2,433.6L218.9,433.7L220.5,433.8L222.2,433.9L223.9,433.9L225.6,433.9L227.2,433.9L228.9,433.9L230.6,433.9L232.3,433.8L233.9,433.7L235.6,433.6L237.3,433.4L238.9,433.3L240.6,433.1L242.3,432.9L244.0,432.7L245.9,432.4L247.8,432.0L249.8,431.7L251.7,431.3L253.6,430.9L255.3,430.6L256.9,430.2L258.2,430.0L259.2,429.8M193.4,439.7L194.4,439.9L195.7,440.2L197.3,440.5L199.0,440.9L200.9,441.2L202.9,441.6L204.9,442.0L206.8,442.3L208.7,442.6L210.4,442.9L212.1,443.1L213.8,443.2L215.5,443.4L217.2,443.5L218.8,443.7L220.5,443.7L222.2,443.8L223.9,443.9L225.6,443.9L227.2,443.9L228.9,443.9L230.6,443.8L232.3,443.7L234.0,443.7L235.6,443.5L237.3,443.4L239.0,443.2L240.7,443.1L242.4,442.9L244.1,442.6L246.0,442.3L247.9,442.0L249.9,441.6L251.9,441.2L253.8,440.9L255.5,440.5L257.1,440.2L258.4,439.9L259.4,439.7M195.7,332.2L195.7,333.8L195.6,335.8L195.5,338.1L195.5,340.6L195.4,343.5L195.3,346.4L195.2,349.6L195.1,352.8L195.0,356.0L194.9,359.2L194.9,362.3L194.8,365.3L194.7,367.9L194.7,370.5L194.6,373.2L194.6,376.0L194.5,378.7L194.5,381.5L194.4,384.3L194.4,387.1L194.3,389.9L194.3,392.7L194.2,395.5L194.2,398.3L194.1,401.1L194.1,403.9L194.0,406.8L194.0,409.9L193.9,413.1L193.8,416.3L193.8,419.5L193.7,422.7L193.7,425.7L193.6,428.7L193.6,431.4L193.5,433.9L193.5,436.2L193.4,438.1L193.4,439.7M199.3,333.1L199.2,334.7L199.2,336.8L199.1,339.2L199.1,342.0L199.0,345.0L198.9,348.1L198.8,351.4L198.8,354.7L198.7,358.0L198.6,361.3L198.6,364.3L198.5,367.2L198.4,369.7L198.4,372.2L198.4,374.7L198.3,377.2L198.3,379.8L198.2,382.5L198.2,385.2L198.1,387.9L198.1,390.7L198.0,393.5L198.0,396.3L198.0,399.1L197.9,401.9L197.9,404.7L197.8,407.6L197.8,410.7L197.7,413.9L197.7,417.1L197.6,420.3L197.6,423.4L197.5,426.5L197.5,429.4L197.4,432.2L197.4,434.7L197.3,437.0L197.3,438.9L197.3,440.5M204.4,334.3L204.4,336.0L204.3,338.2L204.3,340.7L204.2,343.6L204.2,346.7L204.1,350.1L204.1,353.5L204.0,357.0L204.0,360.4L203.9,363.6L203.8,366.6L203.8,369.4L203.8,371.7L203.7,374.0L203.7,376.4L203.7,378.8L203.6,381.3L203.6,383.8L203.6,386.4L203.5,389.1L203.5,391.9L203.5,394.6L203.4,397.4L203.4,400.2L203.4,403.0L203.3,405.8L203.3,408.7L203.2,411.8L203.2,415.0L203.2,418.2L203.1,421.4L203.1,424.6L203.0,427.6L203.0,430.6L203.0,433.3L202.9,435.8L202.9,438.1L202.9,440.0L202.9,441.6M209.8,335.3L209.8,337.1L209.7,339.4L209.7,342.0L209.7,345.0L209.6,348.3L209.6,351.8L209.5,355.4L209.5,359.0L209.4,362.4L209.4,365.7L209.4,368.7L209.3,371.3L209.3,373.5L209.3,375.7L209.3,377.9L209.2,380.2L209.2,382.5L209.2,385.0L209.2,387.6L209.1,390.2L209.1,392.9L209.1,395.7L209.1,398.4L209.0,401.2L209.0,404.0L209.0,406.8L209.0,409.7L208.9,412.8L208.9,416.0L208.9,419.2L208.9,422.4L208.8,425.6L208.8,428.6L208.8,431.6L208.8,434.3L208.7,436.8L208.7,439.1L208.7,441.0L208.7,442.6M214.5,336.0L214.5,337.8L214.5,340.1L214.5,342.9L214.5,346.0L214.4,349.4L214.4,353.0L214.4,356.7L214.3,360.4L214.3,363.9L214.3,367.1L214.3,370.1L214.2,372.7L214.2,374.8L214.2,376.8L214.2,378.9L214.2,381.1L214.2,383.4L214.1,385.7L214.1,388.3L214.1,390.9L214.1,393.5L214.1,396.3L214.1,399.0L214.0,401.8L214.0,404.6L214.0,407.4L214.0,410.3L214.0,413.4L214.0,416.6L213.9,419.8L213.9,423.0L213.9,426.2L213.9,429.2L213.9,432.2L213.8,434.9L213.8,437.5L213.8,439.7L213.8,441.7L213.8,443.2M219.3,336.4L219.3,338.3L219.3,340.7L219.3,343.5L219.2,346.6L219.2,350.1L219.2,353.8L219.2,357.6L219.2,361.3L219.2,364.9L219.1,368.1L219.1,371.1L219.1,373.6L219.1,375.7L219.1,377.6L219.1,379.6L219.1,381.7L219.1,383.9L219.0,386.3L219.0,388.7L219.0,391.3L219.0,394.0L219.0,396.7L219.0,399.4L219.0,402.2L219.0,405.0L219.0,407.8L219.0,410.7L218.9,413.8L218.9,417.0L218.9,420.2L218.9,423.4L218.9,426.6L218.9,429.7L218.9,432.6L218.9,435.3L218.9,437.9L218.9,440.1L218.8,442.1L218.8,443.7M224.0,336.7L224.0,338.5L224.0,340.9L224.0,343.7L224.0,347.0L224.0,350.5L224.0,354.3L224.0,358.1L224.0,361.8L224.0,365.4L224.0,368.7L224.0,371.6L224.0,374.1L224.0,376.1L224.0,378.0L224.0,380.0L224.0,382.0L224.0,384.2L223.9,386.5L223.9,389.0L223.9,391.5L223.9,394.2L223.9,396.9L223.9,399.7L223.9,402.4L223.9,405.2L223.9,408.0L223.9,411.0L223.9,414.0L223.9,417.2L223.9,420.4L223.9,423.6L223.9,426.8L223.9,429.9L223.9,432.8L223.9,435.6L223.9,438.1L223.9,440.3L223.9,442.3L223.9,443.9M228.8,336.7L228.8,338.5L228.8,340.9L228.8,343.7L228.8,347.0L228.8,350.5L228.8,354.3L228.8,358.1L228.8,361.8L228.8,365.4L228.8,368.7L228.8,371.6L228.8,374.1L228.8,376.1L228.8,378.0L228.8,380.0L228.8,382.0L228.8,384.2L228.9,386.5L228.9,389.0L228.9,391.5L228.9,394.2L228.9,396.9L228.9,399.7L228.9,402.4L228.9,405.2L228.9,408.0L228.9,411.0L228.9,414.0L228.9,417.2L228.9,420.4L228.9,423.6L228.9,426.8L228.9,429.9L228.9,432.8L228.9,435.6L228.9,438.1L228.9,440.3L228.9,442.3L228.9,443.9M233.5,336.4L233.5,338.3L233.5,340.7L233.5,343.5L233.6,346.6L233.6,350.1L233.6,353.8L233.6,357.6L233.6,361.3L233.6,364.9L233.7,368.1L233.7,371.1L233.7,373.6L233.7,375.7L233.7,377.6L233.7,379.6L233.7,381.7L233.7,383.9L233.8,386.3L233.8,388.7L233.8,391.3L233.8,394.0L233.8,396.7L233.8,399.4L233.8,402.2L233.8,405.0L233.8,407.8L233.8,410.7L233.9,413.8L233.9,417.0L233.9,420.2L233.9,423.4L233.9,426.6L233.9,429.7L233.9,432.6L233.9,435.3L233.9,437.9L233.9,440.1L234.0,442.1L234.0,443.7M238.3,336.0L238.3,337.8L238.3,340.1L238.3,342.9L238.3,346.0L238.4,349.4L238.4,353.0L238.4,356.7L238.5,360.4L238.5,363.9L238.5,367.1L238.5,370.1L238.6,372.7L238.6,374.8L238.6,376.8L238.6,378.9L238.6,381.1L238.6,383.4L238.7,385.7L238.7,388.3L238.7,390.9L238.7,393.5L238.7,396.3L238.7,399.0L238.8,401.8L238.8,404.6L238.8,407.4L238.8,410.3L238.8,413.4L238.8,416.6L238.9,419.8L238.9,423.0L238.9,426.2L238.9,429.2L238.9,432.2L239.0,434.9L239.0,437.5L239.0,439.7L239.0,441.7L239.0,443.2M243.0,335.3L243.0,337.1L243.1,339.4L243.1,342.0L243.1,345.0L243.2,348.3L243.2,351.8L243.3,355.4L243.3,359.0L243.4,362.4L243.4,365.7L243.4,368.7L243.5,371.3L243.5,373.5L243.5,375.7L243.5,377.9L243.6,380.2L243.6,382.5L243.6,385.0L243.6,387.6L243.7,390.2L243.7,392.9L243.7,395.7L243.7,398.4L243.8,401.2L243.8,404.0L243.8,406.8L243.8,409.7L243.9,412.8L243.9,416.0L243.9,419.2L243.9,422.4L244.0,425.6L244.0,428.6L244.0,431.6L244.0,434.3L244.1,436.8L244.1,439.1L244.1,441.0L244.1,442.6M248.4,334.3L248.4,336.0L248.5,338.2L248.5,340.7L248.6,343.6L248.6,346.7L248.7,350.1L248.7,353.5L248.8,357.0L248.8,360.4L248.9,363.6L249.0,366.6L249.0,369.4L249.0,371.7L249.1,374.0L249.1,376.4L249.1,378.8L249.2,381.3L249.2,383.8L249.2,386.4L249.3,389.1L249.3,391.9L249.3,394.6L249.4,397.4L249.4,400.2L249.4,403.0L249.5,405.8L249.5,408.7L249.6,411.8L249.6,415.0L249.6,418.2L249.7,421.4L249.7,424.6L249.8,427.6L249.8,430.6L249.8,433.3L249.9,435.8L249.9,438.1L249.9,440.0L249.9,441.6M253.5,333.1L253.6,334.7L253.6,336.8L253.7,339.2L253.7,342.0L253.8,345.0L253.9,348.1L254.0,351.4L254.0,354.7L254.1,358.0L254.2,361.3L254.2,364.3L254.3,367.2L254.4,369.7L254.4,372.2L254.4,374.7L254.5,377.2L254.5,379.8L254.6,382.5L254.6,385.2L254.7,387.9L254.7,390.7L254.8,393.5L254.8,396.3L254.8,399.1L254.9,401.9L254.9,404.7L255.0,407.6L255.0,410.7L255.1,413.9L255.1,417.1L255.2,420.3L255.2,423.4L255.3,426.5L255.3,429.4L255.4,432.2L255.4,434.7L255.5,437.0L255.5,438.9L255.5,440.5M257.1,332.2L257.1,333.8L257.2,335.8L257.3,338.1L257.3,340.6L257.4,343.5L257.5,346.4L257.6,349.6L257.7,352.8L257.8,356.0L257.9,359.2L257.9,362.3L258.0,365.3L258.1,367.9L258.1,370.5L258.2,373.2L258.2,376.0L258.3,378.7L258.3,381.5L258.4,384.3L258.4,387.1L258.5,389.9L258.5,392.7L258.6,395.5L258.6,398.3L258.7,401.1L258.7,403.9L258.8,406.8L258.8,409.9L258.9,413.1L259.0,416.3L259.0,419.5L259.1,422.7L259.1,425.7L259.2,428.7L259.2,431.4L259.3,433.9L259.3,436.2L259.4,438.1L259.4,439.7" fill="none" stroke="#22ecf2" stroke-width="1.6" stroke-linejoin="round"/><path d="M226.4,346.5L231.1,350.0L236.1,348.7L252.3,361.0L247.5,402.1L242.7,414.4L226.4,425.8L210.1,414.4L205.3,402.1L200.5,361.0L216.7,348.7L221.7,350.0ZM226.4,346.5L226.4,433.6" fill="none" stroke="#1e1ed6" stroke-width="1.8" stroke-linejoin="round"/><circle cx="226.4" cy="346.5" r="1.3" fill="#1e1ed6"/><circle cx="231.1" cy="350.0" r="1.3" fill="#1e1ed6"/><circle cx="236.1" cy="348.7" r="1.3" fill="#1e1ed6"/><circle cx="252.3" cy="361.0" r="1.3" fill="#1e1ed6"/><circle cx="247.5" cy="402.1" r="1.3" fill="#1e1ed6"/><circle cx="242.7" cy="414.4" r="1.3" fill="#1e1ed6"/><circle cx="226.4" cy="425.8" r="1.3" fill="#1e1ed6"/><circle cx="210.1" cy="414.4" r="1.3" fill="#1e1ed6"/><circle cx="205.3" cy="402.1" r="1.3" fill="#1e1ed6"/><circle cx="200.5" cy="361.0" r="1.3" fill="#1e1ed6"/><circle cx="216.7" cy="348.7" r="1.3" fill="#1e1ed6"/><circle cx="221.7" cy="350.0" r="1.3" fill="#1e1ed6"/><circle cx="226.4" cy="433.6" r="1.3" fill="#1e1ed6"/><path d="M261.9,338.4L263.1,338.1L264.6,337.8L266.4,337.4L268.4,336.9L270.5,336.5L272.8,336.0L275.0,335.5L277.3,335.1L279.5,334.7L281.5,334.4L283.5,334.2L285.5,334.0L287.4,333.8L289.4,333.6L291.4,333.5L293.4,333.4L295.4,333.3L297.4,333.2L299.4,333.2L301.4,333.2L303.4,333.2L305.4,333.3L307.4,333.4L309.4,333.5L311.4,333.6L313.4,333.8L315.3,334.0L317.3,334.2L319.3,334.4L321.3,334.7L323.5,335.1L325.8,335.5L328.0,336.0L330.3,336.5L332.4,336.9L334.4,337.4L336.2,337.8L337.7,338.1L338.9,338.4M262.0,349.0L263.1,348.8L264.6,348.5L266.4,348.1L268.4,347.6L270.5,347.1L272.8,346.7L275.0,346.2L277.3,345.8L279.4,345.4L281.5,345.2L283.5,344.9L285.4,344.7L287.4,344.5L289.4,344.3L291.4,344.2L293.4,344.1L295.4,344.0L297.4,343.9L299.4,343.9L301.4,343.9L303.4,343.9L305.4,344.0L307.4,344.1L309.4,344.2L311.4,344.3L313.4,344.5L315.4,344.7L317.3,344.9L319.3,345.2L321.4,345.4L323.5,345.8L325.8,346.2L328.0,346.7L330.3,347.1L332.4,347.6L334.4,348.1L336.2,348.5L337.7,348.8L338.8,349.0M262.0,365.0L263.2,364.7L264.7,364.3L266.5,363.9L268.5,363.4L270.6,362.9L272.8,362.4L275.1,362.0L277.3,361.5L279.4,361.1L281.5,360.8L283.4,360.5L285.4,360.3L287.4,360.1L289.4,359.9L291.4,359.7L293.4,359.6L295.4,359.5L297.4,359.4L299.4,359.4L301.4,359.4L303.4,359.4L305.4,359.5L307.4,359.6L309.4,359.7L311.4,359.9L313.4,360.1L315.4,360.3L317.4,360.5L319.3,360.8L321.4,361.1L323.5,361.5L325.7,362.0L328.0,362.4L330.2,362.9L332.3,363.4L334.3,363.9L336.1,364.3L337.6,364.7L338.8,365.0M262.2,379.1L263.4,378.8L264.8,378.3L266.6,377.8L268.6,377.2L270.7,376.6L272.9,376.0L275.1,375.5L277.3,374.9L279.5,374.5L281.5,374.1L283.5,373.7L285.4,373.4L287.4,373.1L289.4,372.9L291.4,372.7L293.4,372.5L295.4,372.4L297.4,372.3L299.4,372.2L301.4,372.2L303.4,372.3L305.4,372.4L307.4,372.5L309.4,372.7L311.4,372.9L313.4,373.1L315.4,373.4L317.3,373.7L319.3,374.1L321.3,374.5L323.5,374.9L325.7,375.5L327.9,376.0L330.1,376.6L332.2,377.2L334.2,377.8L336.0,378.3L337.4,378.8L338.6,379.1M262.4,389.0L263.5,388.5L265.0,388.0L266.8,387.4L268.7,386.7L270.8,386.1L273.0,385.4L275.2,384.8L277.4,384.2L279.6,383.7L281.6,383.3L283.5,382.9L285.5,382.5L287.5,382.2L289.5,381.9L291.4,381.7L293.4,381.5L295.4,381.3L297.4,381.2L299.4,381.2L301.4,381.2L303.4,381.2L305.4,381.3L307.4,381.5L309.4,381.7L311.3,381.9L313.3,382.2L315.3,382.5L317.3,382.9L319.2,383.3L321.2,383.7L323.4,384.2L325.6,384.8L327.8,385.4L330.0,386.1L332.1,386.7L334.0,387.4L335.8,388.0L337.3,388.5L338.4,389.0M262.6,395.8L263.7,395.3L265.2,394.8L266.9,394.2L268.9,393.5L270.9,392.9L273.1,392.2L275.3,391.6L277.5,391.0L279.6,390.5L281.6,390.0L283.6,389.6L285.5,389.2L287.5,388.9L289.5,388.6L291.5,388.3L293.5,388.1L295.4,388.0L297.4,387.8L299.4,387.8L301.4,387.8L303.4,387.8L305.4,388.0L307.3,388.1L309.3,388.3L311.3,388.6L313.3,388.9L315.3,389.2L317.2,389.6L319.2,390.0L321.2,390.5L323.3,391.0L325.5,391.6L327.7,392.2L329.9,392.9L331.9,393.5L333.9,394.2L335.6,394.8L337.1,395.3L338.2,395.8M262.8,403.3L264.0,402.9L265.4,402.3L267.2,401.8L269.1,401.1L271.1,400.5L273.3,399.9L275.5,399.3L277.7,398.7L279.8,398.2L281.7,397.8L283.7,397.4L285.6,397.0L287.6,396.7L289.6,396.4L291.5,396.2L293.5,396.0L295.5,395.8L297.4,395.7L299.4,395.6L301.4,395.6L303.4,395.7L305.3,395.8L307.3,396.0L309.3,396.2L311.2,396.4L313.2,396.7L315.2,397.0L317.1,397.4L319.1,397.8L321.0,398.2L323.1,398.7L325.3,399.3L327.5,399.9L329.7,400.5L331.7,401.1L333.6,401.8L335.4,402.3L336.8,402.9L338.0,403.3M263.1,410.2L264.2,409.8L265.7,409.3L267.4,408.8L269.3,408.2L271.3,407.6L273.5,407.1L275.7,406.5L277.8,406.0L279.9,405.5L281.9,405.1L283.8,404.8L285.7,404.5L287.7,404.2L289.6,403.9L291.6,403.7L293.5,403.5L295.5,403.3L297.5,403.2L299.4,403.2L301.4,403.2L303.3,403.2L305.3,403.3L307.3,403.5L309.2,403.7L311.2,403.9L313.1,404.2L315.1,404.5L317.0,404.8L318.9,405.1L320.9,405.5L323.0,406.0L325.1,406.5L327.3,407.1L329.5,407.6L331.5,408.2L333.4,408.8L335.1,409.3L336.6,409.8L337.7,410.2M263.4,416.3L264.5,416.0L265.9,415.6L267.6,415.1L269.5,414.6L271.5,414.1L273.7,413.6L275.8,413.1L278.0,412.6L280.0,412.2L282.0,411.8L283.9,411.5L285.8,411.2L287.7,411.0L289.7,410.7L291.6,410.5L293.6,410.3L295.5,410.2L297.5,410.1L299.4,410.1L301.4,410.1L303.3,410.1L305.3,410.2L307.2,410.3L309.2,410.5L311.1,410.7L313.1,411.0L315.0,411.2L316.9,411.5L318.8,411.8L320.8,412.2L322.8,412.6L325.0,413.1L327.1,413.6L329.3,414.1L331.3,414.6L333.2,415.1L334.9,415.6L336.3,416.0L337.4,416.3M263.7,422.3L264.8,422.0L266.2,421.7L267.8,421.2L269.7,420.8L271.7,420.3L273.8,419.9L276.0,419.4L278.1,419.0L280.1,418.7L282.1,418.4L284.0,418.1L285.9,417.8L287.8,417.6L289.7,417.4L291.7,417.2L293.6,417.0L295.6,416.9L297.5,416.8L299.4,416.8L301.4,416.8L303.3,416.8L305.2,416.9L307.2,417.0L309.1,417.2L311.1,417.4L313.0,417.6L314.9,417.8L316.8,418.1L318.7,418.4L320.7,418.7L322.7,419.0L324.8,419.4L327.0,419.9L329.1,420.3L331.1,420.8L333.0,421.2L334.6,421.7L336.0,422.0L337.1,422.3M263.9,427.9L265.0,427.7L266.4,427.4L268.1,427.0L269.9,426.6L271.9,426.2L274.0,425.8L276.1,425.4L278.2,425.0L280.3,424.7L282.2,424.4L284.1,424.2L286.0,423.9L287.9,423.7L289.8,423.5L291.7,423.4L293.7,423.2L295.6,423.1L297.5,423.0L299.4,423.0L301.4,423.0L303.3,423.0L305.2,423.1L307.1,423.2L309.1,423.4L311.0,423.5L312.9,423.7L314.8,423.9L316.7,424.2L318.6,424.4L320.5,424.7L322.6,425.0L324.7,425.4L326.8,425.8L328.9,426.2L330.9,426.6L332.7,427.0L334.4,427.4L335.8,427.7L336.9,427.9M264.2,433.2L265.2,433.0L266.6,432.7L268.3,432.4L270.1,432.0L272.1,431.6L274.2,431.2L276.3,430.9L278.4,430.5L280.4,430.2L282.3,430.0L284.2,429.7L286.1,429.5L287.9,429.3L289.9,429.1L291.8,429.0L293.7,428.8L295.6,428.7L297.5,428.7L299.4,428.6L301.4,428.6L303.3,428.7L305.2,428.7L307.1,428.8L309.0,429.0L310.9,429.1L312.9,429.3L314.7,429.5L316.6,429.7L318.5,430.0L320.4,430.2L322.4,430.5L324.5,430.9L326.6,431.2L328.7,431.6L330.7,432.0L332.5,432.4L334.2,432.7L335.6,433.0L336.6,433.2M264.4,437.6L265.4,437.4L266.8,437.2L268.4,436.9L270.3,436.6L272.2,436.2L274.3,435.8L276.4,435.5L278.5,435.2L280.5,434.9L282.4,434.6L284.2,434.4L286.1,434.2L288.0,434.0L289.9,433.9L291.8,433.7L293.7,433.6L295.6,433.5L297.5,433.4L299.5,433.4L301.3,433.4L303.3,433.4L305.2,433.5L307.1,433.6L309.0,433.7L310.9,433.9L312.8,434.0L314.7,434.2L316.6,434.4L318.4,434.6L320.3,434.9L322.3,435.2L324.4,435.5L326.5,435.8L328.6,436.2L330.5,436.6L332.4,436.9L334.0,437.2L335.4,437.4L336.4,437.6M264.6,442.7L265.7,442.5L267.0,442.3L268.6,442.0L270.4,441.7L272.4,441.4L274.4,441.0L276.5,440.7L278.6,440.4L280.6,440.1L282.5,439.9L284.3,439.7L286.2,439.5L288.1,439.3L290.0,439.1L291.9,439.0L293.8,438.9L295.7,438.8L297.6,438.7L299.5,438.7L301.3,438.7L303.2,438.7L305.1,438.8L307.0,438.9L308.9,439.0L310.8,439.1L312.7,439.3L314.6,439.5L316.5,439.7L318.3,439.9L320.2,440.1L322.2,440.4L324.3,440.7L326.4,441.0L328.4,441.4L330.4,441.7L332.2,442.0L333.8,442.3L335.1,442.5L336.2,442.7M261.9,338.4L261.9,339.9L261.9,341.6L261.9,343.6L261.9,345.7L262.0,348.1L262.0,350.6L262.0,353.3L262.0,356.1L262.0,359.0L262.0,362.0L262.0,365.0L262.1,368.1L262.1,371.2L262.1,374.4L262.2,377.4L262.2,380.5L262.3,383.5L262.3,386.4L262.4,389.2L262.5,391.9L262.5,394.7L262.6,397.6L262.7,400.6L262.9,403.7L263.0,406.7L263.1,409.9L263.2,413.0L263.4,416.1L263.5,419.1L263.6,422.1L263.8,425.0L263.9,427.8L264.0,430.5L264.2,433.0L264.3,435.4L264.4,437.5L264.5,439.5L264.5,441.2L264.6,442.7M266.4,337.4L266.4,338.9L266.4,340.6L266.4,342.6L266.4,344.7L266.4,347.1L266.4,349.6L266.4,352.3L266.4,355.1L266.4,358.0L266.5,360.9L266.5,363.9L266.5,367.0L266.5,370.0L266.6,373.1L266.6,376.1L266.6,379.1L266.7,382.0L266.7,384.8L266.8,387.6L266.8,390.3L266.9,393.0L267.0,396.0L267.1,399.0L267.2,402.1L267.3,405.3L267.4,408.4L267.5,411.7L267.6,414.8L267.7,418.0L267.8,421.1L267.9,424.0L268.1,426.9L268.2,429.6L268.3,432.2L268.4,434.6L268.4,436.8L268.5,438.8L268.6,440.5L268.6,442.0M272.8,336.0L272.8,337.5L272.8,339.2L272.8,341.2L272.8,343.4L272.8,345.7L272.8,348.3L272.8,350.9L272.8,353.7L272.8,356.5L272.8,359.5L272.8,362.5L272.8,365.5L272.8,368.5L272.9,371.5L272.9,374.4L272.9,377.3L272.9,380.2L273.0,383.0L273.0,385.7L273.0,388.3L273.1,391.1L273.2,394.0L273.2,397.1L273.3,400.2L273.4,403.5L273.5,406.7L273.6,410.0L273.6,413.3L273.7,416.5L273.8,419.7L273.9,422.8L274.0,425.7L274.1,428.5L274.2,431.1L274.2,433.5L274.3,435.7L274.4,437.8L274.4,439.5L274.4,441.0M279.5,334.7L279.5,336.2L279.5,338.0L279.5,340.0L279.5,342.1L279.5,344.5L279.4,347.0L279.4,349.7L279.4,352.4L279.4,355.3L279.4,358.2L279.4,361.1L279.5,364.1L279.5,367.1L279.5,370.0L279.5,372.9L279.5,375.7L279.5,378.5L279.5,381.3L279.6,383.9L279.6,386.6L279.6,389.3L279.7,392.3L279.7,395.4L279.8,398.6L279.8,401.9L279.9,405.2L280.0,408.6L280.0,411.9L280.1,415.2L280.1,418.5L280.2,421.6L280.3,424.6L280.3,427.4L280.4,430.1L280.4,432.5L280.5,434.8L280.5,436.8L280.6,438.6L280.6,440.1M285.5,334.0L285.5,335.5L285.4,337.2L285.4,339.2L285.4,341.4L285.4,343.7L285.4,346.3L285.4,348.9L285.4,351.7L285.4,354.5L285.4,357.4L285.4,360.3L285.4,363.2L285.4,366.1L285.4,369.0L285.4,371.9L285.4,374.7L285.5,377.4L285.5,380.1L285.5,382.7L285.5,385.3L285.5,388.1L285.6,391.0L285.6,394.1L285.6,397.4L285.7,400.7L285.7,404.1L285.8,407.5L285.8,411.0L285.8,414.3L285.9,417.6L285.9,420.8L286.0,423.8L286.0,426.7L286.0,429.4L286.1,431.9L286.1,434.1L286.1,436.2L286.2,438.0L286.2,439.5M291.4,333.5L291.4,335.0L291.4,336.7L291.4,338.7L291.4,340.9L291.4,343.2L291.4,345.8L291.4,348.4L291.4,351.1L291.4,354.0L291.4,356.8L291.4,359.7L291.4,362.6L291.4,365.5L291.4,368.3L291.4,371.2L291.4,373.9L291.4,376.6L291.4,379.3L291.4,381.9L291.5,384.5L291.5,387.2L291.5,390.1L291.5,393.3L291.5,396.5L291.5,399.9L291.6,403.3L291.6,406.8L291.6,410.2L291.7,413.6L291.7,417.0L291.7,420.2L291.7,423.2L291.8,426.1L291.8,428.8L291.8,431.3L291.8,433.6L291.8,435.7L291.8,437.4L291.9,439.0M297.4,333.2L297.4,334.7L297.4,336.5L297.4,338.5L297.4,340.6L297.4,343.0L297.4,345.5L297.4,348.1L297.4,350.9L297.4,353.7L297.4,356.5L297.4,359.4L297.4,362.3L297.4,365.2L297.4,368.0L297.4,370.8L297.4,373.5L297.4,376.2L297.4,378.8L297.4,381.4L297.4,384.0L297.4,386.7L297.4,389.7L297.4,392.8L297.4,396.0L297.5,399.4L297.5,402.9L297.5,406.4L297.5,409.8L297.5,413.3L297.5,416.6L297.5,419.8L297.5,422.9L297.5,425.8L297.5,428.5L297.5,431.0L297.5,433.3L297.6,435.4L297.6,437.1L297.6,438.7M303.4,333.2L303.4,334.7L303.4,336.5L303.4,338.5L303.4,340.6L303.4,343.0L303.4,345.5L303.4,348.1L303.4,350.9L303.4,353.7L303.4,356.5L303.4,359.4L303.4,362.3L303.4,365.2L303.4,368.0L303.4,370.8L303.4,373.5L303.4,376.2L303.4,378.8L303.4,381.4L303.4,384.0L303.4,386.7L303.4,389.7L303.4,392.8L303.4,396.0L303.3,399.4L303.3,402.9L303.3,406.4L303.3,409.8L303.3,413.3L303.3,416.6L303.3,419.8L303.3,422.9L303.3,425.8L303.3,428.5L303.3,431.0L303.3,433.3L303.2,435.4L303.2,437.1L303.2,438.7M309.4,333.5L309.4,335.0L309.4,336.7L309.4,338.7L309.4,340.9L309.4,343.2L309.4,345.8L309.4,348.4L309.4,351.1L309.4,354.0L309.4,356.8L309.4,359.7L309.4,362.6L309.4,365.5L309.4,368.3L309.4,371.2L309.4,373.9L309.4,376.6L309.4,379.3L309.4,381.9L309.3,384.5L309.3,387.2L309.3,390.1L309.3,393.3L309.3,396.5L309.3,399.9L309.2,403.3L309.2,406.8L309.2,410.2L309.1,413.6L309.1,417.0L309.1,420.2L309.1,423.2L309.0,426.1L309.0,428.8L309.0,431.3L309.0,433.6L309.0,435.7L309.0,437.4L308.9,439.0M315.3,334.0L315.3,335.5L315.4,337.2L315.4,339.2L315.4,341.4L315.4,343.7L315.4,346.3L315.4,348.9L315.4,351.7L315.4,354.5L315.4,357.4L315.4,360.3L315.4,363.2L315.4,366.1L315.4,369.0L315.4,371.9L315.4,374.7L315.3,377.4L315.3,380.1L315.3,382.7L315.3,385.3L315.3,388.1L315.2,391.0L315.2,394.1L315.2,397.4L315.1,400.7L315.1,404.1L315.0,407.5L315.0,411.0L315.0,414.3L314.9,417.6L314.9,420.8L314.8,423.8L314.8,426.7L314.8,429.4L314.7,431.9L314.7,434.1L314.7,436.2L314.6,438.0L314.6,439.5M321.3,334.7L321.3,336.2L321.3,338.0L321.3,340.0L321.3,342.1L321.3,344.5L321.4,347.0L321.4,349.7L321.4,352.4L321.4,355.3L321.4,358.2L321.4,361.1L321.3,364.1L321.3,367.1L321.3,370.0L321.3,372.9L321.3,375.7L321.3,378.5L321.3,381.3L321.2,383.9L321.2,386.6L321.2,389.3L321.1,392.3L321.1,395.4L321.0,398.6L321.0,401.9L320.9,405.2L320.8,408.6L320.8,411.9L320.7,415.2L320.7,418.5L320.6,421.6L320.5,424.6L320.5,427.4L320.4,430.1L320.4,432.5L320.3,434.8L320.3,436.8L320.2,438.6L320.2,440.1M328.0,336.0L328.0,337.5L328.0,339.2L328.0,341.2L328.0,343.4L328.0,345.7L328.0,348.3L328.0,350.9L328.0,353.7L328.0,356.5L328.0,359.5L328.0,362.5L328.0,365.5L328.0,368.5L327.9,371.5L327.9,374.4L327.9,377.3L327.9,380.2L327.8,383.0L327.8,385.7L327.8,388.3L327.7,391.1L327.6,394.0L327.6,397.1L327.5,400.2L327.4,403.5L327.3,406.7L327.2,410.0L327.2,413.3L327.1,416.5L327.0,419.7L326.9,422.8L326.8,425.7L326.7,428.5L326.6,431.1L326.6,433.5L326.5,435.7L326.4,437.8L326.4,439.5L326.4,441.0M334.4,337.4L334.4,338.9L334.4,340.6L334.4,342.6L334.4,344.7L334.4,347.1L334.4,349.6L334.4,352.3L334.4,355.1L334.4,358.0L334.3,360.9L334.3,363.9L334.3,367.0L334.3,370.0L334.2,373.1L334.2,376.1L334.2,379.1L334.1,382.0L334.1,384.8L334.0,387.6L334.0,390.3L333.9,393.0L333.8,396.0L333.7,399.0L333.6,402.1L333.5,405.3L333.4,408.4L333.3,411.7L333.2,414.8L333.1,418.0L333.0,421.1L332.9,424.0L332.7,426.9L332.6,429.6L332.5,432.2L332.4,434.6L332.4,436.8L332.3,438.8L332.2,440.5L332.2,442.0M338.9,338.4L338.9,339.9L338.9,341.6L338.9,343.6L338.9,345.7L338.8,348.1L338.8,350.6L338.8,353.3L338.8,356.1L338.8,359.0L338.8,362.0L338.8,365.0L338.7,368.1L338.7,371.2L338.7,374.4L338.6,377.4L338.6,380.5L338.5,383.5L338.5,386.4L338.4,389.2L338.3,391.9L338.3,394.7L338.2,397.6L338.1,400.6L337.9,403.7L337.8,406.7L337.7,409.9L337.6,413.0L337.4,416.1L337.3,419.1L337.2,422.1L337.0,425.0L336.9,427.8L336.8,430.5L336.6,433.0L336.5,435.4L336.4,437.5L336.3,439.5L336.3,441.2L336.2,442.7" fill="none" stroke="#22ecf2" stroke-width="1.6" stroke-linejoin="round"/><path d="M300.4,345.0L307.3,350.2L313.1,349.9L332.8,400.3L323.6,415.5L316.9,422.8L300.4,422.8L283.9,422.8L277.2,415.5L268.0,400.3L287.7,349.9L293.5,350.2ZM300.4,345.0L300.4,427.7" fill="none" stroke="#1e1ed6" stroke-width="1.8" stroke-linejoin="round"/><circle cx="300.4" cy="345.0" r="1.3" fill="#1e1ed6"/><circle cx="307.3" cy="350.2" r="1.3" fill="#1e1ed6"/><circle cx="313.1" cy="349.9" r="1.3" fill="#1e1ed6"/><circle cx="332.8" cy="400.3" r="1.3" fill="#1e1ed6"/><circle cx="323.6" cy="415.5" r="1.3" fill="#1e1ed6"/><circle cx="316.9" cy="422.8" r="1.3" fill="#1e1ed6"/><circle cx="300.4" cy="422.8" r="1.3" fill="#1e1ed6"/><circle cx="283.9" cy="422.8" r="1.3" fill="#1e1ed6"/><circle cx="277.2" cy="415.5" r="1.3" fill="#1e1ed6"/><circle cx="268.0" cy="400.3" r="1.3" fill="#1e1ed6"/><circle cx="287.7" cy="349.9" r="1.3" fill="#1e1ed6"/><circle cx="293.5" cy="350.2" r="1.3" fill="#1e1ed6"/><circle cx="300.4" cy="427.7" r="1.3" fill="#1e1ed6"/><path d="M368.6,331.6L369.6,331.6L370.9,331.7L372.4,331.7L374.0,331.8L375.8,331.9L377.8,331.9L379.7,332.0L381.7,332.1L383.6,332.1L385.5,332.2L387.3,332.3L389.2,332.4L391.2,332.5L393.2,332.5L395.2,332.6L397.2,332.7L399.2,332.8L401.2,332.9L403.1,333.0L404.9,333.0L406.7,333.1L408.5,333.2L410.2,333.3L411.9,333.3L413.6,333.4L415.3,333.5L417.1,333.6L418.8,333.7L420.6,333.8L422.4,333.9L424.4,334.0L426.5,334.1L428.6,334.3L430.7,334.4L432.7,334.6L434.6,334.7L436.3,334.8L437.7,334.9L438.8,335.0M368.8,337.6L369.8,337.6L371.1,337.7L372.6,337.7L374.3,337.8L376.1,337.9L378.0,338.0L380.0,338.0L382.0,338.1L383.9,338.2L385.7,338.3L387.6,338.4L389.5,338.5L391.5,338.5L393.4,338.6L395.4,338.7L397.4,338.8L399.4,338.9L401.3,339.0L403.2,339.1L405.1,339.2L406.9,339.3L408.6,339.4L410.4,339.5L412.1,339.5L413.8,339.6L415.5,339.7L417.2,339.8L419.0,339.9L420.7,340.0L422.6,340.1L424.6,340.3L426.7,340.4L428.8,340.6L430.9,340.7L432.9,340.8L434.8,341.0L436.5,341.1L437.9,341.2L439.0,341.3M369.0,346.1L370.0,346.2L371.3,346.2L372.8,346.3L374.6,346.4L376.4,346.5L378.3,346.6L380.3,346.7L382.3,346.8L384.3,346.9L386.1,347.0L388.0,347.1L389.9,347.2L391.8,347.3L393.8,347.4L395.7,347.5L397.7,347.6L399.6,347.7L401.6,347.8L403.5,347.9L405.3,348.0L407.1,348.1L408.9,348.2L410.6,348.3L412.3,348.4L414.0,348.5L415.8,348.6L417.5,348.7L419.2,348.8L421.0,348.9L422.8,349.1L424.8,349.2L426.9,349.4L429.0,349.5L431.1,349.7L433.2,349.8L435.0,350.0L436.7,350.1L438.1,350.2L439.2,350.3M369.3,355.8L370.3,355.8L371.6,355.9L373.2,356.0L374.9,356.1L376.8,356.2L378.7,356.3L380.7,356.4L382.7,356.5L384.7,356.6L386.5,356.7L388.4,356.9L390.3,357.0L392.2,357.1L394.1,357.2L396.1,357.3L398.0,357.4L399.9,357.6L401.8,357.7L403.7,357.8L405.6,357.9L407.3,358.0L409.1,358.1L410.9,358.2L412.6,358.4L414.3,358.5L416.0,358.6L417.8,358.7L419.5,358.8L421.3,359.0L423.1,359.1L425.1,359.2L427.2,359.4L429.3,359.6L431.4,359.7L433.5,359.9L435.3,360.1L437.0,360.2L438.4,360.3L439.5,360.4M369.6,365.0L370.6,365.1L371.9,365.2L373.5,365.3L375.2,365.4L377.1,365.5L379.1,365.6L381.1,365.7L383.1,365.8L385.1,366.0L386.9,366.1L388.8,366.2L390.6,366.3L392.5,366.5L394.5,366.6L396.4,366.7L398.3,366.8L400.2,367.0L402.1,367.1L404.0,367.2L405.8,367.3L407.6,367.5L409.4,367.6L411.1,367.7L412.8,367.8L414.6,368.0L416.3,368.1L418.0,368.2L419.8,368.3L421.6,368.5L423.4,368.6L425.4,368.8L427.5,368.9L429.6,369.1L431.7,369.3L433.7,369.5L435.6,369.6L437.3,369.8L438.7,369.9L439.8,370.0M369.9,373.6L371.0,373.6L372.3,373.7L373.9,373.8L375.6,373.9L377.5,374.1L379.5,374.2L381.5,374.3L383.5,374.4L385.5,374.6L387.3,374.7L389.2,374.8L391.0,374.9L392.9,375.1L394.8,375.2L396.7,375.3L398.6,375.5L400.5,375.6L402.4,375.7L404.2,375.8L406.1,376.0L407.8,376.1L409.6,376.2L411.3,376.4L413.1,376.5L414.8,376.6L416.5,376.7L418.3,376.9L420.0,377.0L421.8,377.1L423.7,377.3L425.6,377.4L427.7,377.6L429.8,377.8L431.9,378.0L434.0,378.1L435.8,378.3L437.5,378.4L438.9,378.6L440.0,378.7M370.3,382.2L371.3,382.2L372.7,382.3L374.2,382.4L376.0,382.6L377.9,382.7L379.9,382.8L381.9,382.9L384.0,383.1L385.9,383.2L387.8,383.3L389.6,383.4L391.4,383.6L393.3,383.7L395.2,383.8L397.1,384.0L398.9,384.1L400.8,384.2L402.7,384.4L404.5,384.5L406.3,384.6L408.1,384.7L409.9,384.9L411.6,385.0L413.3,385.1L415.1,385.3L416.8,385.4L418.5,385.5L420.3,385.6L422.1,385.8L423.9,385.9L425.9,386.1L428.0,386.3L430.1,386.4L432.2,386.6L434.2,386.8L436.1,386.9L437.8,387.1L439.2,387.2L440.3,387.3M370.6,391.0L371.7,391.0L373.0,391.1L374.6,391.2L376.4,391.3L378.3,391.5L380.3,391.6L382.4,391.7L384.4,391.8L386.4,392.0L388.2,392.1L390.0,392.2L391.9,392.4L393.7,392.5L395.6,392.6L397.4,392.7L399.3,392.9L401.1,393.0L403.0,393.1L404.8,393.3L406.6,393.4L408.4,393.5L410.1,393.6L411.9,393.8L413.6,393.9L415.3,394.0L417.1,394.2L418.8,394.3L420.6,394.4L422.3,394.6L424.2,394.7L426.1,394.8L428.2,395.0L430.3,395.2L432.4,395.3L434.4,395.5L436.3,395.7L438.0,395.8L439.4,395.9L440.5,396.0M371.0,400.0L372.1,400.1L373.4,400.2L375.0,400.3L376.8,400.4L378.7,400.5L380.8,400.6L382.8,400.8L384.9,400.9L386.8,401.0L388.7,401.1L390.5,401.3L392.3,401.4L394.1,401.5L395.9,401.7L397.8,401.8L399.6,401.9L401.4,402.0L403.3,402.2L405.1,402.3L406.8,402.4L408.6,402.6L410.4,402.7L412.1,402.8L413.8,402.9L415.6,403.1L417.3,403.2L419.1,403.3L420.8,403.4L422.6,403.6L424.4,403.7L426.4,403.9L428.5,404.0L430.6,404.2L432.7,404.4L434.7,404.5L436.5,404.7L438.2,404.8L439.6,404.9L440.7,405.0M371.4,410.3L372.5,410.4L373.8,410.5L375.4,410.6L377.3,410.7L379.2,410.8L381.2,411.0L383.3,411.1L385.3,411.2L387.3,411.3L389.1,411.5L390.9,411.6L392.7,411.7L394.5,411.8L396.3,412.0L398.2,412.1L400.0,412.2L401.8,412.4L403.6,412.5L405.4,412.6L407.1,412.7L408.9,412.9L410.6,413.0L412.4,413.1L414.1,413.2L415.8,413.4L417.6,413.5L419.3,413.6L421.1,413.8L422.9,413.9L424.7,414.0L426.7,414.2L428.7,414.3L430.8,414.5L432.9,414.6L434.9,414.8L436.8,414.9L438.4,415.1L439.8,415.2L440.9,415.3M371.8,421.5L372.9,421.6L374.3,421.7L375.9,421.8L377.7,421.9L379.7,422.0L381.7,422.2L383.8,422.3L385.8,422.4L387.8,422.6L389.6,422.7L391.4,422.8L393.2,422.9L395.0,423.0L396.8,423.2L398.6,423.3L400.3,423.4L402.1,423.6L403.9,423.7L405.7,423.8L407.4,423.9L409.2,424.1L410.9,424.2L412.7,424.3L414.4,424.4L416.1,424.6L417.9,424.7L419.6,424.8L421.4,424.9L423.1,425.1L425.0,425.2L426.9,425.3L429.0,425.5L431.1,425.6L433.2,425.8L435.2,425.9L437.0,426.1L438.7,426.2L440.1,426.3L441.2,426.4M372.2,431.7L373.3,431.7L374.7,431.8L376.3,431.9L378.1,432.0L380.1,432.1L382.2,432.3L384.3,432.4L386.3,432.5L388.3,432.7L390.1,432.8L391.9,432.9L393.6,433.0L395.4,433.1L397.2,433.3L398.9,433.4L400.7,433.5L402.4,433.6L404.2,433.8L405.9,433.9L407.7,434.0L409.4,434.1L411.2,434.3L412.9,434.4L414.6,434.5L416.4,434.6L418.1,434.8L419.9,434.9L421.6,435.0L423.4,435.1L425.2,435.3L427.2,435.4L429.2,435.6L431.3,435.7L433.4,435.8L435.4,436.0L437.2,436.1L438.9,436.2L440.3,436.3L441.4,436.4M372.5,438.7L373.6,438.8L375.0,438.9L376.6,439.0L378.5,439.1L380.4,439.2L382.5,439.3L384.6,439.5L386.7,439.6L388.6,439.7L390.4,439.8L392.2,439.9L394.0,440.1L395.7,440.2L397.4,440.3L399.2,440.4L400.9,440.6L402.7,440.7L404.4,440.8L406.1,440.9L407.9,441.1L409.6,441.2L411.3,441.3L413.1,441.4L414.8,441.6L416.6,441.7L418.3,441.8L420.0,441.9L421.8,442.0L423.6,442.2L425.4,442.3L427.3,442.4L429.4,442.6L431.5,442.7L433.6,442.9L435.5,443.0L437.4,443.1L439.0,443.2L440.4,443.3L441.5,443.4M368.6,331.6L368.6,333.1L368.7,334.9L368.8,337.0L368.8,339.4L368.9,341.9L369.0,344.7L369.1,347.6L369.1,350.5L369.2,353.5L369.3,356.5L369.4,359.4L369.5,362.3L369.6,365.0L369.7,367.6L369.8,370.3L369.9,372.9L370.0,375.5L370.1,378.2L370.2,380.8L370.3,383.5L370.4,386.2L370.5,388.9L370.7,391.6L370.8,394.4L370.9,397.2L371.0,400.0L371.1,403.0L371.2,406.1L371.4,409.5L371.5,412.9L371.6,416.4L371.8,419.8L371.9,423.2L372.0,426.5L372.1,429.5L372.3,432.3L372.4,434.8L372.4,437.0L372.5,438.7M372.4,331.7L372.4,333.2L372.5,335.0L372.5,337.2L372.6,339.5L372.7,342.1L372.8,344.9L372.9,347.8L373.0,350.7L373.1,353.7L373.2,356.7L373.3,359.7L373.4,362.5L373.5,365.3L373.6,367.9L373.7,370.5L373.8,373.2L373.9,375.8L374.1,378.5L374.2,381.1L374.3,383.8L374.4,386.5L374.5,389.2L374.7,391.9L374.8,394.7L374.9,397.5L375.0,400.3L375.1,403.2L375.3,406.4L375.4,409.7L375.5,413.2L375.7,416.6L375.8,420.1L376.0,423.5L376.1,426.7L376.2,429.8L376.3,432.6L376.4,435.1L376.5,437.2L376.6,439.0M377.8,331.9L377.8,333.4L377.9,335.2L378.0,337.4L378.1,339.8L378.2,342.4L378.3,345.1L378.4,348.0L378.5,351.0L378.6,354.0L378.7,357.1L378.9,360.0L379.0,362.9L379.1,365.6L379.2,368.2L379.3,370.9L379.5,373.5L379.6,376.2L379.7,378.8L379.8,381.5L380.0,384.1L380.1,386.8L380.2,389.5L380.4,392.3L380.5,395.0L380.6,397.8L380.8,400.6L380.9,403.6L381.0,406.8L381.2,410.1L381.3,413.5L381.5,417.0L381.6,420.5L381.8,423.8L381.9,427.1L382.1,430.1L382.2,433.0L382.3,435.5L382.4,437.6L382.5,439.3M383.6,332.1L383.7,333.6L383.8,335.5L383.9,337.6L384.0,340.0L384.1,342.6L384.2,345.4L384.3,348.3L384.4,351.3L384.6,354.4L384.7,357.4L384.8,360.4L384.9,363.2L385.1,366.0L385.2,368.6L385.3,371.3L385.5,373.9L385.6,376.5L385.7,379.2L385.9,381.9L386.0,384.5L386.1,387.2L386.3,389.9L386.4,392.7L386.5,395.4L386.7,398.2L386.8,401.0L387.0,404.0L387.1,407.2L387.3,410.5L387.4,413.9L387.6,417.4L387.7,420.9L387.9,424.2L388.0,427.5L388.2,430.5L388.3,433.3L388.4,435.8L388.5,438.0L388.6,439.7M389.2,332.4L389.3,333.9L389.4,335.7L389.5,337.9L389.6,340.3L389.7,342.9L389.8,345.7L389.9,348.6L390.0,351.6L390.2,354.7L390.3,357.7L390.4,360.7L390.5,363.6L390.6,366.3L390.8,369.0L390.9,371.6L391.0,374.3L391.1,376.9L391.3,379.6L391.4,382.2L391.5,384.9L391.6,387.6L391.8,390.3L391.9,393.0L392.0,395.8L392.2,398.6L392.3,401.4L392.4,404.4L392.5,407.5L392.7,410.9L392.8,414.3L393.0,417.8L393.1,421.2L393.3,424.6L393.4,427.8L393.5,430.9L393.7,433.7L393.8,436.2L393.9,438.3L394.0,440.1M395.2,332.6L395.3,334.1L395.3,336.0L395.4,338.1L395.5,340.6L395.6,343.2L395.7,346.0L395.8,349.0L395.9,352.0L396.0,355.0L396.1,358.1L396.2,361.1L396.3,364.0L396.4,366.7L396.5,369.4L396.6,372.0L396.7,374.7L396.8,377.3L396.9,380.0L397.0,382.6L397.1,385.3L397.2,388.0L397.3,390.7L397.5,393.4L397.6,396.2L397.7,399.0L397.8,401.8L397.9,404.7L398.0,407.9L398.1,411.2L398.2,414.7L398.4,418.1L398.5,421.6L398.6,425.0L398.7,428.2L398.8,431.3L398.9,434.1L399.0,436.6L399.1,438.7L399.2,440.4M401.2,332.9L401.2,334.4L401.3,336.3L401.3,338.4L401.4,340.9L401.4,343.5L401.5,346.3L401.6,349.3L401.7,352.3L401.8,355.4L401.9,358.4L402.0,361.4L402.0,364.3L402.1,367.1L402.2,369.8L402.3,372.4L402.4,375.1L402.5,377.7L402.5,380.4L402.6,383.0L402.7,385.7L402.8,388.4L402.9,391.1L403.0,393.8L403.1,396.6L403.2,399.4L403.3,402.2L403.3,405.1L403.4,408.3L403.5,411.6L403.6,415.1L403.7,418.5L403.8,422.0L403.9,425.4L404.0,428.6L404.1,431.6L404.2,434.5L404.3,436.9L404.3,439.1L404.4,440.8M406.7,333.1L406.8,334.6L406.8,336.5L406.8,338.7L406.9,341.1L407.0,343.8L407.0,346.6L407.1,349.6L407.2,352.6L407.3,355.7L407.4,358.8L407.4,361.8L407.5,364.7L407.6,367.5L407.7,370.1L407.7,372.8L407.8,375.4L407.9,378.1L408.0,380.8L408.1,383.4L408.1,386.1L408.2,388.8L408.3,391.5L408.4,394.2L408.5,397.0L408.5,399.7L408.6,402.6L408.7,405.5L408.8,408.7L408.9,412.0L409.0,415.4L409.0,418.9L409.1,422.4L409.2,425.7L409.3,429.0L409.4,432.0L409.5,434.8L409.5,437.3L409.6,439.5L409.6,441.2M411.9,333.3L412.0,334.9L412.0,336.8L412.1,338.9L412.1,341.4L412.2,344.1L412.3,346.9L412.4,349.9L412.4,353.0L412.5,356.0L412.6,359.1L412.7,362.1L412.8,365.1L412.8,367.8L412.9,370.5L413.0,373.2L413.1,375.8L413.1,378.5L413.2,381.1L413.3,383.8L413.4,386.5L413.5,389.2L413.5,391.9L413.6,394.6L413.7,397.3L413.8,400.1L413.8,402.9L413.9,405.9L414.0,409.1L414.1,412.4L414.2,415.8L414.3,419.3L414.4,422.7L414.4,426.1L414.5,429.3L414.6,432.4L414.7,435.2L414.7,437.7L414.8,439.8L414.8,441.6M417.1,333.6L417.1,335.1L417.2,337.0L417.2,339.2L417.3,341.7L417.4,344.4L417.4,347.2L417.5,350.2L417.6,353.3L417.7,356.4L417.8,359.5L417.9,362.5L418.0,365.4L418.0,368.2L418.1,370.9L418.2,373.5L418.3,376.2L418.3,378.9L418.4,381.5L418.5,384.2L418.6,386.9L418.7,389.5L418.7,392.2L418.8,395.0L418.9,397.7L419.0,400.5L419.1,403.3L419.1,406.3L419.2,409.5L419.3,412.8L419.4,416.2L419.5,419.7L419.6,423.1L419.7,426.5L419.7,429.7L419.8,432.8L419.9,435.6L419.9,438.1L420.0,440.2L420.0,441.9M422.4,333.9L422.4,335.4L422.5,337.3L422.6,339.5L422.6,342.0L422.7,344.7L422.8,347.6L422.9,350.6L423.0,353.7L423.1,356.8L423.1,359.9L423.2,362.9L423.3,365.8L423.4,368.6L423.5,371.3L423.6,374.0L423.6,376.6L423.7,379.3L423.8,381.9L423.9,384.6L423.9,387.3L424.0,390.0L424.1,392.7L424.2,395.4L424.3,398.1L424.3,400.9L424.4,403.7L424.5,406.7L424.6,409.9L424.7,413.2L424.7,416.6L424.8,420.1L424.9,423.5L425.0,426.9L425.1,430.1L425.2,433.1L425.2,435.9L425.3,438.4L425.3,440.6L425.4,442.3M428.6,334.3L428.6,335.8L428.7,337.7L428.8,339.9L428.8,342.4L428.9,345.1L429.0,348.0L429.1,351.0L429.2,354.1L429.3,357.2L429.4,360.4L429.4,363.4L429.5,366.3L429.6,369.1L429.7,371.8L429.8,374.5L429.8,377.1L429.9,379.8L430.0,382.4L430.1,385.1L430.1,387.8L430.2,390.4L430.3,393.1L430.4,395.9L430.4,398.6L430.5,401.4L430.6,404.2L430.7,407.2L430.7,410.3L430.8,413.6L430.9,417.1L431.0,420.5L431.1,423.9L431.1,427.3L431.2,430.5L431.3,433.6L431.3,436.4L431.4,438.9L431.5,441.0L431.5,442.7M434.6,334.7L434.7,336.3L434.7,338.2L434.8,340.4L434.8,342.9L434.9,345.6L435.0,348.5L435.1,351.5L435.2,354.6L435.3,357.7L435.4,360.8L435.4,363.9L435.5,366.8L435.6,369.6L435.7,372.3L435.8,375.0L435.8,377.6L435.9,380.3L436.0,382.9L436.0,385.6L436.1,388.3L436.2,390.9L436.3,393.6L436.3,396.3L436.4,399.1L436.5,401.9L436.5,404.7L436.6,407.6L436.7,410.8L436.8,414.1L436.8,417.5L436.9,421.0L437.0,424.4L437.1,427.7L437.1,431.0L437.2,434.0L437.3,436.8L437.3,439.3L437.4,441.4L437.4,443.1M438.8,335.0L438.8,336.6L438.9,338.5L439.0,340.7L439.0,343.2L439.1,345.9L439.2,348.8L439.3,351.8L439.4,354.9L439.5,358.1L439.6,361.2L439.6,364.3L439.7,367.2L439.8,370.0L439.9,372.7L439.9,375.4L440.0,378.0L440.1,380.7L440.2,383.3L440.2,386.0L440.3,388.6L440.4,391.3L440.4,394.0L440.5,396.7L440.6,399.4L440.6,402.2L440.7,405.0L440.8,408.0L440.8,411.1L440.9,414.4L441.0,417.8L441.1,421.3L441.1,424.7L441.2,428.0L441.3,431.3L441.3,434.3L441.4,437.1L441.4,439.6L441.5,441.7L441.5,443.4" fill="none" stroke="#22ecf2" stroke-width="1.6" stroke-linejoin="round"/><path d="M404.1,344.5L410.4,347.6L415.3,346.6L437.0,388.1L430.0,409.8L423.7,420.3L406.2,424.5L390.0,417.8L384.3,407.7L378.0,371.2L392.8,349.3L397.8,348.7ZM404.1,344.5L406.5,431.5" fill="none" stroke="#1e1ed6" stroke-width="1.8" stroke-linejoin="round"/><circle cx="404.1" cy="344.5" r="1.3" fill="#1e1ed6"/><circle cx="410.4" cy="347.6" r="1.3" fill="#1e1ed6"/><circle cx="415.3" cy="346.6" r="1.3" fill="#1e1ed6"/><circle cx="437.0" cy="388.1" r="1.3" fill="#1e1ed6"/><circle cx="430.0" cy="409.8" r="1.3" fill="#1e1ed6"/><circle cx="423.7" cy="420.3" r="1.3" fill="#1e1ed6"/><circle cx="406.2" cy="424.5" r="1.3" fill="#1e1ed6"/><circle cx="390.0" cy="417.8" r="1.3" fill="#1e1ed6"/><circle cx="384.3" cy="407.7" r="1.3" fill="#1e1ed6"/><circle cx="378.0" cy="371.2" r="1.3" fill="#1e1ed6"/><circle cx="392.8" cy="349.3" r="1.3" fill="#1e1ed6"/><circle cx="397.8" cy="348.7" r="1.3" fill="#1e1ed6"/><circle cx="406.5" cy="431.5" r="1.3" fill="#1e1ed6"/><path d="M450.4,335.0L451.5,334.9L452.9,334.8L454.6,334.7L456.5,334.6L458.5,334.4L460.6,334.3L462.7,334.1L464.8,334.0L466.8,333.9L468.6,333.8L470.4,333.7L472.1,333.6L473.9,333.5L475.6,333.4L477.3,333.3L479.0,333.3L480.7,333.2L482.5,333.1L484.3,333.0L486.1,333.0L488.0,332.9L490.0,332.8L492.0,332.7L494.0,332.6L496.0,332.5L498.0,332.5L500.0,332.4L501.9,332.3L503.7,332.2L505.6,332.1L507.5,332.1L509.5,332.0L511.4,331.9L513.4,331.9L515.2,331.8L516.8,331.7L518.3,331.7L519.6,331.6L520.6,331.6M450.2,341.3L451.3,341.2L452.7,341.1L454.4,341.0L456.3,340.8L458.3,340.7L460.4,340.6L462.5,340.4L464.6,340.3L466.6,340.1L468.5,340.0L470.2,339.9L472.0,339.8L473.7,339.7L475.4,339.6L477.1,339.5L478.8,339.5L480.6,339.4L482.3,339.3L484.1,339.2L486.0,339.1L487.9,339.0L489.8,338.9L491.8,338.8L493.8,338.7L495.8,338.6L497.7,338.5L499.7,338.5L501.6,338.4L503.5,338.3L505.3,338.2L507.2,338.1L509.2,338.0L511.2,338.0L513.1,337.9L514.9,337.8L516.6,337.7L518.1,337.7L519.4,337.6L520.4,337.6M450.0,350.3L451.1,350.2L452.5,350.1L454.2,350.0L456.0,349.8L458.1,349.7L460.2,349.5L462.3,349.4L464.4,349.2L466.4,349.1L468.2,348.9L470.0,348.8L471.7,348.7L473.4,348.6L475.2,348.5L476.9,348.4L478.6,348.3L480.3,348.2L482.1,348.1L483.9,348.0L485.7,347.9L487.6,347.8L489.6,347.7L491.5,347.6L493.5,347.5L495.4,347.4L497.4,347.3L499.3,347.2L501.2,347.1L503.1,347.0L504.9,346.9L506.9,346.8L508.9,346.7L510.9,346.6L512.8,346.5L514.6,346.4L516.4,346.3L517.9,346.2L519.2,346.2L520.2,346.1M449.7,360.4L450.8,360.3L452.2,360.2L453.9,360.1L455.7,359.9L457.8,359.7L459.9,359.6L462.0,359.4L464.1,359.2L466.1,359.1L467.9,359.0L469.7,358.8L471.4,358.7L473.2,358.6L474.9,358.5L476.6,358.4L478.3,358.2L480.1,358.1L481.9,358.0L483.6,357.9L485.5,357.8L487.4,357.7L489.3,357.6L491.2,357.4L493.1,357.3L495.1,357.2L497.0,357.1L498.9,357.0L500.8,356.9L502.7,356.7L504.5,356.6L506.5,356.5L508.5,356.4L510.5,356.3L512.4,356.2L514.3,356.1L516.0,356.0L517.6,355.9L518.9,355.8L519.9,355.8M449.4,370.0L450.5,369.9L451.9,369.8L453.6,369.6L455.5,369.5L457.5,369.3L459.6,369.1L461.7,368.9L463.8,368.8L465.8,368.6L467.6,368.5L469.4,368.3L471.2,368.2L472.9,368.1L474.6,368.0L476.4,367.8L478.1,367.7L479.8,367.6L481.6,367.5L483.4,367.3L485.2,367.2L487.1,367.1L489.0,367.0L490.9,366.8L492.8,366.7L494.7,366.6L496.7,366.5L498.6,366.3L500.4,366.2L502.3,366.1L504.1,366.0L506.1,365.8L508.1,365.7L510.1,365.6L512.1,365.5L514.0,365.4L515.7,365.3L517.3,365.2L518.6,365.1L519.6,365.0M449.2,378.7L450.3,378.6L451.7,378.4L453.4,378.3L455.2,378.1L457.3,378.0L459.4,377.8L461.5,377.6L463.6,377.4L465.5,377.3L467.4,377.1L469.2,377.0L470.9,376.9L472.7,376.7L474.4,376.6L476.1,376.5L477.9,376.4L479.6,376.2L481.4,376.1L483.1,376.0L485.0,375.8L486.8,375.7L488.7,375.6L490.6,375.5L492.5,375.3L494.4,375.2L496.3,375.1L498.2,374.9L500.0,374.8L501.9,374.7L503.7,374.6L505.7,374.4L507.7,374.3L509.7,374.2L511.7,374.1L513.6,373.9L515.3,373.8L516.9,373.7L518.2,373.6L519.3,373.6M448.9,387.3L450.0,387.2L451.4,387.1L453.1,386.9L455.0,386.8L457.0,386.6L459.1,386.4L461.2,386.3L463.3,386.1L465.3,385.9L467.1,385.8L468.9,385.6L470.7,385.5L472.4,385.4L474.1,385.3L475.9,385.1L477.6,385.0L479.3,384.9L481.1,384.7L482.9,384.6L484.7,384.5L486.5,384.4L488.4,384.2L490.3,384.1L492.1,384.0L494.0,383.8L495.9,383.7L497.8,383.6L499.6,383.4L501.4,383.3L503.3,383.2L505.2,383.1L507.3,382.9L509.3,382.8L511.3,382.7L513.2,382.6L515.0,382.4L516.5,382.3L517.9,382.2L518.9,382.2M448.7,396.0L449.8,395.9L451.2,395.8L452.9,395.7L454.8,395.5L456.8,395.3L458.9,395.2L461.0,395.0L463.1,394.8L465.0,394.7L466.9,394.6L468.6,394.4L470.4,394.3L472.1,394.2L473.9,394.0L475.6,393.9L477.3,393.8L479.1,393.6L480.8,393.5L482.6,393.4L484.4,393.3L486.2,393.1L488.1,393.0L489.9,392.9L491.8,392.7L493.6,392.6L495.5,392.5L497.3,392.4L499.2,392.2L501.0,392.1L502.8,392.0L504.8,391.8L506.8,391.7L508.9,391.6L510.9,391.5L512.8,391.3L514.6,391.2L516.2,391.1L517.5,391.0L518.6,391.0M448.5,405.0L449.6,404.9L451.0,404.8L452.7,404.7L454.5,404.5L456.5,404.4L458.6,404.2L460.7,404.0L462.8,403.9L464.8,403.7L466.6,403.6L468.4,403.4L470.1,403.3L471.9,403.2L473.6,403.1L475.4,402.9L477.1,402.8L478.8,402.7L480.6,402.6L482.4,402.4L484.1,402.3L485.9,402.2L487.8,402.0L489.6,401.9L491.4,401.8L493.3,401.7L495.1,401.5L496.9,401.4L498.7,401.3L500.5,401.1L502.4,401.0L504.3,400.9L506.4,400.8L508.4,400.6L510.5,400.5L512.4,400.4L514.2,400.3L515.8,400.2L517.1,400.1L518.2,400.0M448.3,415.3L449.4,415.2L450.8,415.1L452.4,414.9L454.3,414.8L456.3,414.6L458.4,414.5L460.5,414.3L462.5,414.2L464.5,414.0L466.3,413.9L468.1,413.8L469.9,413.6L471.6,413.5L473.4,413.4L475.1,413.2L476.8,413.1L478.6,413.0L480.3,412.9L482.1,412.7L483.8,412.6L485.6,412.5L487.4,412.4L489.2,412.2L491.0,412.1L492.9,412.0L494.7,411.8L496.5,411.7L498.3,411.6L500.1,411.5L501.9,411.3L503.9,411.2L505.9,411.1L508.0,411.0L510.0,410.8L511.9,410.7L513.8,410.6L515.4,410.5L516.7,410.4L517.8,410.3M448.0,426.4L449.1,426.3L450.5,426.2L452.2,426.1L454.0,425.9L456.0,425.8L458.1,425.6L460.2,425.5L462.3,425.3L464.2,425.2L466.1,425.1L467.8,424.9L469.6,424.8L471.3,424.7L473.1,424.6L474.8,424.4L476.5,424.3L478.3,424.2L480.0,424.1L481.8,423.9L483.5,423.8L485.3,423.7L487.1,423.6L488.9,423.4L490.6,423.3L492.4,423.2L494.2,423.0L496.0,422.9L497.8,422.8L499.6,422.7L501.4,422.6L503.4,422.4L505.4,422.3L507.5,422.2L509.5,422.0L511.5,421.9L513.3,421.8L514.9,421.7L516.3,421.6L517.4,421.5M447.8,436.4L448.9,436.3L450.3,436.2L452.0,436.1L453.8,436.0L455.8,435.8L457.9,435.7L460.0,435.6L462.0,435.4L464.0,435.3L465.8,435.1L467.6,435.0L469.3,434.9L471.1,434.8L472.8,434.6L474.6,434.5L476.3,434.4L478.0,434.3L479.8,434.1L481.5,434.0L483.3,433.9L485.0,433.8L486.8,433.6L488.5,433.5L490.3,433.4L492.0,433.3L493.8,433.1L495.6,433.0L497.3,432.9L499.1,432.8L500.9,432.7L502.9,432.5L504.9,432.4L507.0,432.3L509.1,432.1L511.1,432.0L512.9,431.9L514.5,431.8L515.9,431.7L517.0,431.7M447.7,443.4L448.8,443.3L450.2,443.2L451.8,443.1L453.7,443.0L455.6,442.9L457.7,442.7L459.8,442.6L461.9,442.4L463.8,442.3L465.6,442.2L467.4,442.0L469.2,441.9L470.9,441.8L472.6,441.7L474.4,441.6L476.1,441.4L477.9,441.3L479.6,441.2L481.3,441.1L483.1,440.9L484.8,440.8L486.5,440.7L488.3,440.6L490.0,440.4L491.8,440.3L493.5,440.2L495.2,440.1L497.0,439.9L498.8,439.8L500.6,439.7L502.5,439.6L504.6,439.5L506.7,439.3L508.8,439.2L510.7,439.1L512.6,439.0L514.2,438.9L515.6,438.8L516.7,438.7M450.4,335.0L450.4,336.6L450.3,338.5L450.2,340.7L450.2,343.2L450.1,345.9L450.0,348.8L449.9,351.8L449.8,354.9L449.7,358.1L449.6,361.2L449.6,364.3L449.5,367.2L449.4,370.0L449.3,372.7L449.3,375.4L449.2,378.0L449.1,380.7L449.0,383.3L449.0,386.0L448.9,388.6L448.8,391.3L448.8,394.0L448.7,396.7L448.6,399.4L448.6,402.2L448.5,405.0L448.4,408.0L448.4,411.1L448.3,414.4L448.2,417.8L448.1,421.3L448.1,424.7L448.0,428.0L447.9,431.3L447.9,434.3L447.8,437.1L447.8,439.6L447.7,441.7L447.7,443.4M454.6,334.7L454.5,336.3L454.5,338.2L454.4,340.4L454.4,342.9L454.3,345.6L454.2,348.5L454.1,351.5L454.0,354.6L453.9,357.7L453.8,360.8L453.8,363.9L453.7,366.8L453.6,369.6L453.5,372.3L453.4,375.0L453.4,377.6L453.3,380.3L453.2,382.9L453.2,385.6L453.1,388.3L453.0,390.9L452.9,393.6L452.9,396.3L452.8,399.1L452.7,401.9L452.7,404.7L452.6,407.6L452.5,410.8L452.4,414.1L452.4,417.5L452.3,421.0L452.2,424.4L452.1,427.7L452.1,431.0L452.0,434.0L451.9,436.8L451.9,439.3L451.8,441.4L451.8,443.1M460.6,334.3L460.6,335.8L460.5,337.7L460.4,339.9L460.4,342.4L460.3,345.1L460.2,348.0L460.1,351.0L460.0,354.1L459.9,357.2L459.8,360.4L459.8,363.4L459.7,366.3L459.6,369.1L459.5,371.8L459.4,374.5L459.4,377.1L459.3,379.8L459.2,382.4L459.1,385.1L459.1,387.8L459.0,390.4L458.9,393.1L458.8,395.9L458.8,398.6L458.7,401.4L458.6,404.2L458.5,407.2L458.5,410.3L458.4,413.6L458.3,417.1L458.2,420.5L458.1,423.9L458.1,427.3L458.0,430.5L457.9,433.6L457.9,436.4L457.8,438.9L457.7,441.0L457.7,442.7M466.8,333.9L466.8,335.4L466.7,337.3L466.6,339.5L466.6,342.0L466.5,344.7L466.4,347.6L466.3,350.6L466.2,353.7L466.1,356.8L466.1,359.9L466.0,362.9L465.9,365.8L465.8,368.6L465.7,371.3L465.6,374.0L465.6,376.6L465.5,379.3L465.4,381.9L465.3,384.6L465.3,387.3L465.2,390.0L465.1,392.7L465.0,395.4L464.9,398.1L464.9,400.9L464.8,403.7L464.7,406.7L464.6,409.9L464.5,413.2L464.5,416.6L464.4,420.1L464.3,423.5L464.2,426.9L464.1,430.1L464.0,433.1L464.0,435.9L463.9,438.4L463.9,440.6L463.8,442.3M472.1,333.6L472.1,335.1L472.0,337.0L472.0,339.2L471.9,341.7L471.8,344.4L471.8,347.2L471.7,350.2L471.6,353.3L471.5,356.4L471.4,359.5L471.3,362.5L471.2,365.4L471.2,368.2L471.1,370.9L471.0,373.5L470.9,376.2L470.9,378.9L470.8,381.5L470.7,384.2L470.6,386.9L470.5,389.5L470.5,392.2L470.4,395.0L470.3,397.7L470.2,400.5L470.1,403.3L470.1,406.3L470.0,409.5L469.9,412.8L469.8,416.2L469.7,419.7L469.6,423.1L469.5,426.5L469.5,429.7L469.4,432.8L469.3,435.6L469.3,438.1L469.2,440.2L469.2,441.9M477.3,333.3L477.2,334.9L477.2,336.8L477.1,338.9L477.1,341.4L477.0,344.1L476.9,346.9L476.8,349.9L476.8,353.0L476.7,356.0L476.6,359.1L476.5,362.1L476.4,365.1L476.4,367.8L476.3,370.5L476.2,373.2L476.1,375.8L476.1,378.5L476.0,381.1L475.9,383.8L475.8,386.5L475.7,389.2L475.7,391.9L475.6,394.6L475.5,397.3L475.4,400.1L475.4,402.9L475.3,405.9L475.2,409.1L475.1,412.4L475.0,415.8L474.9,419.3L474.8,422.7L474.8,426.1L474.7,429.3L474.6,432.4L474.5,435.2L474.5,437.7L474.4,439.8L474.4,441.6M482.5,333.1L482.4,334.6L482.4,336.5L482.4,338.7L482.3,341.1L482.2,343.8L482.2,346.6L482.1,349.6L482.0,352.6L481.9,355.7L481.8,358.8L481.8,361.8L481.7,364.7L481.6,367.5L481.5,370.1L481.5,372.8L481.4,375.4L481.3,378.1L481.2,380.8L481.1,383.4L481.1,386.1L481.0,388.8L480.9,391.5L480.8,394.2L480.7,397.0L480.7,399.7L480.6,402.6L480.5,405.5L480.4,408.7L480.3,412.0L480.2,415.4L480.2,418.9L480.1,422.4L480.0,425.7L479.9,429.0L479.8,432.0L479.7,434.8L479.7,437.3L479.6,439.5L479.6,441.2M488.0,332.9L488.0,334.4L487.9,336.3L487.9,338.4L487.8,340.9L487.8,343.5L487.7,346.3L487.6,349.3L487.5,352.3L487.4,355.4L487.3,358.4L487.2,361.4L487.2,364.3L487.1,367.1L487.0,369.8L486.9,372.4L486.8,375.1L486.7,377.7L486.7,380.4L486.6,383.0L486.5,385.7L486.4,388.4L486.3,391.1L486.2,393.8L486.1,396.6L486.0,399.4L485.9,402.2L485.9,405.1L485.8,408.3L485.7,411.6L485.6,415.1L485.5,418.5L485.4,422.0L485.3,425.4L485.2,428.6L485.1,431.6L485.0,434.5L484.9,436.9L484.9,439.1L484.8,440.8M494.0,332.6L493.9,334.1L493.9,336.0L493.8,338.1L493.7,340.6L493.6,343.2L493.5,346.0L493.4,349.0L493.3,352.0L493.2,355.0L493.1,358.1L493.0,361.1L492.9,364.0L492.8,366.7L492.7,369.4L492.6,372.0L492.5,374.7L492.4,377.3L492.3,380.0L492.2,382.6L492.1,385.3L492.0,388.0L491.9,390.7L491.7,393.4L491.6,396.2L491.5,399.0L491.4,401.8L491.3,404.7L491.2,407.9L491.1,411.2L491.0,414.7L490.8,418.1L490.7,421.6L490.6,425.0L490.5,428.2L490.4,431.3L490.3,434.1L490.2,436.6L490.1,438.7L490.0,440.4M500.0,332.4L499.9,333.9L499.8,335.7L499.7,337.9L499.6,340.3L499.5,342.9L499.4,345.7L499.3,348.6L499.2,351.6L499.0,354.7L498.9,357.7L498.8,360.7L498.7,363.6L498.6,366.3L498.4,369.0L498.3,371.6L498.2,374.3L498.1,376.9L497.9,379.6L497.8,382.2L497.7,384.9L497.6,387.6L497.4,390.3L497.3,393.0L497.2,395.8L497.0,398.6L496.9,401.4L496.8,404.4L496.7,407.5L496.5,410.9L496.4,414.3L496.2,417.8L496.1,421.2L495.9,424.6L495.8,427.8L495.7,430.9L495.5,433.7L495.4,436.2L495.3,438.3L495.2,440.1M505.6,332.1L505.5,333.6L505.4,335.5L505.3,337.6L505.2,340.0L505.1,342.6L505.0,345.4L504.9,348.3L504.8,351.3L504.6,354.4L504.5,357.4L504.4,360.4L504.3,363.2L504.1,366.0L504.0,368.6L503.9,371.3L503.7,373.9L503.6,376.5L503.5,379.2L503.3,381.9L503.2,384.5L503.1,387.2L502.9,389.9L502.8,392.7L502.7,395.4L502.5,398.2L502.4,401.0L502.2,404.0L502.1,407.2L501.9,410.5L501.8,413.9L501.6,417.4L501.5,420.9L501.3,424.2L501.2,427.5L501.0,430.5L500.9,433.3L500.8,435.8L500.7,438.0L500.6,439.7M511.4,331.9L511.4,333.4L511.3,335.2L511.2,337.4L511.1,339.8L511.0,342.4L510.9,345.1L510.8,348.0L510.7,351.0L510.6,354.0L510.5,357.1L510.3,360.0L510.2,362.9L510.1,365.6L510.0,368.2L509.9,370.9L509.7,373.5L509.6,376.2L509.5,378.8L509.4,381.5L509.2,384.1L509.1,386.8L509.0,389.5L508.8,392.3L508.7,395.0L508.6,397.8L508.4,400.6L508.3,403.6L508.2,406.8L508.0,410.1L507.9,413.5L507.7,417.0L507.6,420.5L507.4,423.8L507.3,427.1L507.1,430.1L507.0,433.0L506.9,435.5L506.8,437.6L506.7,439.3M516.8,331.7L516.8,333.2L516.7,335.0L516.7,337.2L516.6,339.5L516.5,342.1L516.4,344.9L516.3,347.8L516.2,350.7L516.1,353.7L516.0,356.7L515.9,359.7L515.8,362.5L515.7,365.3L515.6,367.9L515.5,370.5L515.4,373.2L515.3,375.8L515.1,378.5L515.0,381.1L514.9,383.8L514.8,386.5L514.7,389.2L514.5,391.9L514.4,394.7L514.3,397.5L514.2,400.3L514.1,403.2L513.9,406.4L513.8,409.7L513.7,413.2L513.5,416.6L513.4,420.1L513.2,423.5L513.1,426.7L513.0,429.8L512.9,432.6L512.8,435.1L512.7,437.2L512.6,439.0M520.6,331.6L520.6,333.1L520.5,334.9L520.4,337.0L520.4,339.4L520.3,341.9L520.2,344.7L520.1,347.6L520.1,350.5L520.0,353.5L519.9,356.5L519.8,359.4L519.7,362.3L519.6,365.0L519.5,367.6L519.4,370.3L519.3,372.9L519.2,375.5L519.1,378.2L519.0,380.8L518.9,383.5L518.8,386.2L518.7,388.9L518.5,391.6L518.4,394.4L518.3,397.2L518.2,400.0L518.1,403.0L518.0,406.1L517.8,409.5L517.7,412.9L517.6,416.4L517.4,419.8L517.3,423.2L517.2,426.5L517.1,429.5L516.9,432.3L516.8,434.8L516.8,437.0L516.7,438.7" fill="none" stroke="#22ecf2" stroke-width="1.6" stroke-linejoin="round"/><path d="M485.1,344.5L478.8,347.6L473.9,346.6L452.2,388.1L459.2,409.8L465.5,420.3L483.0,424.5L499.2,417.8L504.9,407.7L511.2,371.2L496.4,349.3L491.4,348.7ZM485.1,344.5L482.7,431.5" fill="none" stroke="#1e1ed6" stroke-width="1.8" stroke-linejoin="round"/><circle cx="485.1" cy="344.5" r="1.3" fill="#1e1ed6"/><circle cx="478.8" cy="347.6" r="1.3" fill="#1e1ed6"/><circle cx="473.9" cy="346.6" r="1.3" fill="#1e1ed6"/><circle cx="452.2" cy="388.1" r="1.3" fill="#1e1ed6"/><circle cx="459.2" cy="409.8" r="1.3" fill="#1e1ed6"/><circle cx="465.5" cy="420.3" r="1.3" fill="#1e1ed6"/><circle cx="483.0" cy="424.5" r="1.3" fill="#1e1ed6"/><circle cx="499.2" cy="417.8" r="1.3" fill="#1e1ed6"/><circle cx="504.9" cy="407.7" r="1.3" fill="#1e1ed6"/><circle cx="511.2" cy="371.2" r="1.3" fill="#1e1ed6"/><circle cx="496.4" cy="349.3" r="1.3" fill="#1e1ed6"/><circle cx="491.4" cy="348.7" r="1.3" fill="#1e1ed6"/><circle cx="482.7" cy="431.5" r="1.3" fill="#1e1ed6"/><path d="M533.8,339.0L534.7,338.9L535.8,338.8L537.1,338.7L538.5,338.5L540.0,338.4L541.6,338.2L543.3,338.1L545.1,337.9L546.9,337.7L548.8,337.5L550.8,337.3L552.8,337.1L554.7,336.9L556.7,336.7L558.7,336.5L560.7,336.3L562.6,336.1L564.4,336.0L566.2,335.8L568.0,335.6L569.8,335.4L571.6,335.3L573.6,335.1L575.5,334.9L577.5,334.7L579.5,334.5L581.5,334.3L583.5,334.1L585.5,333.9L587.4,333.7L589.3,333.5L591.1,333.3L592.8,333.2L594.5,333.0L596.0,332.9L597.4,332.7L598.6,332.6L599.7,332.5L600.7,332.4M534.4,346.1L535.3,346.0L536.4,345.8L537.6,345.7L539.0,345.5L540.5,345.3L542.1,345.1L543.8,344.9L545.5,344.8L547.4,344.6L549.3,344.3L551.2,344.1L553.2,343.9L555.2,343.7L557.1,343.5L559.1,343.3L561.0,343.1L562.9,342.9L564.8,342.7L566.6,342.5L568.3,342.3L570.1,342.1L571.9,341.9L573.8,341.7L575.8,341.5L577.8,341.3L579.8,341.1L581.8,340.9L583.7,340.6L585.7,340.4L587.6,340.2L589.5,340.0L591.3,339.8L593.0,339.7L594.6,339.5L596.1,339.3L597.5,339.1L598.7,339.0L599.8,338.8L600.7,338.7M535.2,356.1L536.1,355.9L537.2,355.7L538.4,355.5L539.8,355.3L541.2,355.1L542.8,354.9L544.5,354.6L546.2,354.4L548.1,354.2L549.9,354.0L551.8,353.7L553.8,353.5L555.8,353.3L557.7,353.0L559.7,352.8L561.6,352.6L563.5,352.3L565.3,352.1L567.0,351.9L568.8,351.6L570.5,351.4L572.4,351.2L574.2,351.0L576.2,350.7L578.1,350.5L580.1,350.2L582.1,350.0L584.0,349.8L586.0,349.5L587.9,349.3L589.7,349.1L591.5,348.9L593.2,348.6L594.7,348.4L596.2,348.2L597.6,348.0L598.8,347.8L599.9,347.6L600.8,347.4M536.0,365.0L536.9,364.8L537.9,364.7L539.1,364.5L540.5,364.3L541.9,364.1L543.5,364.0L545.1,363.8L546.9,363.6L548.7,363.4L550.5,363.2L552.4,363.0L554.4,362.8L556.3,362.6L558.3,362.4L560.2,362.2L562.1,362.0L564.0,361.9L565.8,361.7L567.5,361.5L569.2,361.3L570.9,361.1L572.8,360.9L574.6,360.7L576.5,360.5L578.5,360.3L580.4,360.1L582.4,359.9L584.3,359.8L586.2,359.6L588.1,359.4L589.9,359.2L591.7,359.0L593.3,358.8L594.9,358.6L596.4,358.4L597.7,358.3L598.9,358.1L600.0,357.9L600.9,357.8M536.8,370.9L537.7,370.9L538.7,370.8L539.9,370.8L541.2,370.7L542.6,370.7L544.2,370.6L545.8,370.6L547.5,370.5L549.3,370.5L551.2,370.4L553.0,370.4L555.0,370.3L556.9,370.3L558.8,370.2L560.7,370.1L562.6,370.1L564.4,370.0L566.2,370.0L568.0,369.9L569.6,369.9L571.4,369.8L573.2,369.8L575.0,369.7L576.9,369.7L578.8,369.6L580.8,369.6L582.7,369.5L584.6,369.4L586.5,369.4L588.4,369.3L590.1,369.3L591.9,369.2L593.5,369.2L595.1,369.1L596.5,369.1L597.8,369.0L599.0,369.0L600.1,368.9L600.9,368.9M537.5,375.8L538.4,375.9L539.4,376.0L540.6,376.1L541.8,376.2L543.3,376.3L544.8,376.4L546.4,376.5L548.1,376.6L549.9,376.7L551.7,376.8L553.6,376.9L555.5,377.0L557.4,377.2L559.3,377.3L561.2,377.4L563.1,377.5L564.9,377.6L566.7,377.7L568.4,377.8L570.0,377.9L571.7,378.0L573.5,378.1L575.4,378.2L577.2,378.3L579.1,378.4L581.0,378.6L583.0,378.7L584.9,378.8L586.7,378.9L588.6,379.0L590.3,379.1L592.1,379.2L593.7,379.3L595.2,379.4L596.6,379.5L597.9,379.6L599.1,379.7L600.1,379.8L601.0,379.9M537.8,381.5L538.7,381.7L539.7,381.9L540.8,382.1L542.1,382.3L543.5,382.5L545.0,382.7L546.7,382.9L548.4,383.1L550.1,383.4L551.9,383.6L553.8,383.8L555.7,384.0L557.6,384.3L559.5,384.5L561.4,384.7L563.3,385.0L565.1,385.2L566.8,385.4L568.6,385.6L570.2,385.9L571.9,386.1L573.7,386.3L575.5,386.5L577.4,386.8L579.3,387.0L581.2,387.2L583.1,387.5L585.0,387.7L586.8,387.9L588.6,388.1L590.4,388.4L592.1,388.6L593.7,388.8L595.3,389.0L596.7,389.2L598.0,389.4L599.1,389.6L600.1,389.8L601.0,390.0M537.3,388.7L538.2,388.9L539.2,389.2L540.4,389.4L541.7,389.7L543.1,390.0L544.6,390.2L546.3,390.5L548.0,390.8L549.8,391.1L551.6,391.4L553.5,391.7L555.4,392.0L557.3,392.3L559.2,392.7L561.1,393.0L563.0,393.3L564.8,393.6L566.6,393.9L568.3,394.2L570.0,394.5L571.7,394.8L573.5,395.1L575.3,395.4L577.2,395.7L579.1,396.0L581.0,396.3L582.9,396.6L584.8,396.9L586.7,397.2L588.5,397.5L590.3,397.8L592.0,398.1L593.6,398.4L595.2,398.7L596.6,398.9L597.9,399.2L599.1,399.5L600.1,399.7L601.0,400.0M536.4,396.6L537.3,396.9L538.3,397.2L539.5,397.5L540.8,397.8L542.3,398.2L543.9,398.5L545.5,398.9L547.2,399.3L549.0,399.6L550.9,400.0L552.8,400.4L554.7,400.8L556.7,401.1L558.6,401.5L560.5,401.9L562.4,402.3L564.3,402.7L566.1,403.0L567.8,403.4L569.5,403.8L571.2,404.1L573.0,404.5L574.9,404.9L576.8,405.3L578.7,405.6L580.6,406.0L582.6,406.4L584.5,406.8L586.4,407.2L588.3,407.6L590.0,407.9L591.8,408.3L593.4,408.6L595.0,409.0L596.4,409.3L597.8,409.7L599.0,410.0L600.0,410.3L600.9,410.6M535.5,405.0L536.4,405.3L537.5,405.7L538.7,406.0L540.0,406.4L541.5,406.8L543.1,407.2L544.8,407.6L546.5,408.0L548.3,408.5L550.2,408.9L552.1,409.3L554.1,409.8L556.0,410.2L558.0,410.7L559.9,411.1L561.9,411.6L563.7,412.0L565.6,412.4L567.3,412.8L569.0,413.3L570.8,413.7L572.6,414.1L574.5,414.5L576.4,415.0L578.3,415.4L580.3,415.9L582.2,416.3L584.2,416.8L586.1,417.2L588.0,417.6L589.8,418.1L591.5,418.5L593.2,418.9L594.8,419.3L596.3,419.7L597.6,420.1L598.8,420.4L599.9,420.8L600.8,421.1M534.7,414.9L535.6,415.2L536.7,415.5L537.9,415.9L539.3,416.2L540.8,416.6L542.4,417.0L544.1,417.4L545.9,417.8L547.7,418.3L549.6,418.7L551.5,419.1L553.5,419.6L555.5,420.0L557.5,420.5L559.4,420.9L561.4,421.4L563.3,421.8L565.1,422.2L566.9,422.7L568.6,423.1L570.4,423.5L572.2,423.9L574.1,424.4L576.0,424.8L578.0,425.2L580.0,425.7L581.9,426.1L583.9,426.6L585.8,427.0L587.7,427.5L589.5,427.9L591.3,428.3L593.0,428.7L594.6,429.1L596.1,429.5L597.4,429.9L598.7,430.2L599.7,430.5L600.7,430.8M533.9,425.2L534.9,425.5L536.0,425.7L537.2,426.0L538.6,426.3L540.1,426.6L541.7,426.9L543.5,427.3L545.2,427.7L547.1,428.0L549.0,428.4L551.0,428.8L553.0,429.2L555.0,429.6L557.0,430.0L558.9,430.4L560.9,430.8L562.8,431.2L564.7,431.6L566.5,432.0L568.2,432.3L570.0,432.7L571.8,433.1L573.7,433.4L575.7,433.8L577.7,434.2L579.7,434.6L581.6,435.0L583.6,435.4L585.6,435.8L587.5,436.2L589.3,436.6L591.1,437.0L592.8,437.3L594.4,437.7L595.9,438.0L597.3,438.3L598.5,438.6L599.6,438.8L600.6,439.0M533.4,432.5L534.4,432.7L535.5,432.9L536.7,433.1L538.1,433.4L539.6,433.7L541.3,434.0L543.0,434.3L544.8,434.6L546.7,435.0L548.6,435.3L550.6,435.7L552.6,436.1L554.6,436.4L556.6,436.8L558.6,437.2L560.6,437.5L562.5,437.9L564.4,438.3L566.2,438.6L567.9,438.9L569.7,439.2L571.6,439.6L573.5,440.0L575.5,440.3L577.5,440.7L579.5,441.1L581.5,441.4L583.4,441.8L585.4,442.2L587.3,442.5L589.2,442.9L591.0,443.2L592.7,443.5L594.3,443.8L595.8,444.1L597.2,444.4L598.5,444.6L599.5,444.8L600.5,445.0M533.8,339.0L533.9,340.6L534.1,342.8L534.3,345.4L534.6,348.3L534.8,351.4L535.1,354.5L535.3,357.6L535.6,360.6L535.8,363.2L536.1,365.5L536.3,367.5L536.5,369.3L536.8,370.9L537.0,372.5L537.3,374.0L537.5,375.5L537.6,377.0L537.8,378.7L537.8,380.5L537.8,382.5L537.7,384.7L537.5,386.9L537.3,389.3L537.0,391.6L536.7,394.1L536.4,396.6L536.1,399.2L535.8,401.7L535.6,404.3L535.3,407.1L535.1,410.1L534.8,413.3L534.6,416.5L534.3,419.8L534.1,423.0L533.9,425.9L533.7,428.6L533.5,430.8L533.4,432.5M537.1,338.7L537.2,340.3L537.4,342.4L537.6,345.0L537.8,347.8L538.0,350.8L538.3,354.0L538.5,357.0L538.8,360.0L539.0,362.7L539.2,365.0L539.4,367.1L539.6,369.0L539.9,370.8L540.1,372.5L540.3,374.1L540.5,375.7L540.7,377.4L540.8,379.1L540.8,381.0L540.8,383.1L540.7,385.3L540.5,387.6L540.3,390.0L540.1,392.5L539.8,395.0L539.5,397.5L539.2,400.1L539.0,402.7L538.7,405.4L538.5,408.1L538.3,411.1L538.1,414.2L537.8,417.5L537.6,420.7L537.4,423.8L537.2,426.7L537.0,429.3L536.8,431.4L536.7,433.1M541.6,338.2L541.7,339.8L541.9,342.0L542.0,344.5L542.2,347.3L542.5,350.3L542.7,353.3L542.9,356.4L543.1,359.3L543.3,362.1L543.5,364.5L543.7,366.7L543.9,368.7L544.2,370.6L544.4,372.4L544.6,374.2L544.8,376.0L544.9,377.8L545.0,379.6L545.0,381.6L545.0,383.8L544.9,386.1L544.8,388.4L544.6,390.9L544.4,393.4L544.1,395.9L543.9,398.5L543.6,401.2L543.3,403.8L543.1,406.5L542.9,409.3L542.7,412.3L542.5,415.4L542.3,418.6L542.1,421.8L541.9,424.8L541.7,427.6L541.5,430.2L541.4,432.3L541.3,434.0M546.9,337.7L547.0,339.3L547.2,341.4L547.3,343.9L547.5,346.7L547.7,349.6L547.9,352.7L548.2,355.7L548.4,358.7L548.6,361.5L548.7,364.0L548.9,366.3L549.1,368.4L549.3,370.5L549.5,372.4L549.7,374.3L549.9,376.2L550.0,378.2L550.1,380.2L550.1,382.3L550.1,384.5L550.0,386.8L549.9,389.2L549.7,391.8L549.5,394.3L549.3,397.0L549.0,399.6L548.8,402.3L548.6,405.0L548.4,407.8L548.2,410.6L548.0,413.6L547.8,416.7L547.6,419.8L547.4,422.9L547.2,425.9L547.1,428.7L546.9,431.2L546.8,433.3L546.7,435.0M552.8,337.1L552.9,338.7L553.0,340.8L553.1,343.3L553.3,346.0L553.5,348.9L553.7,352.0L553.9,355.0L554.1,358.0L554.3,360.8L554.4,363.4L554.6,365.8L554.8,368.1L555.0,370.3L555.1,372.4L555.3,374.5L555.5,376.5L555.6,378.6L555.7,380.7L555.7,382.9L555.7,385.2L555.6,387.6L555.5,390.1L555.3,392.7L555.1,395.3L554.9,398.0L554.7,400.8L554.5,403.5L554.3,406.3L554.1,409.1L554.0,411.9L553.8,414.9L553.6,418.0L553.4,421.1L553.2,424.2L553.1,427.1L552.9,429.9L552.8,432.3L552.7,434.4L552.6,436.1M558.7,336.5L558.8,338.2L558.9,340.2L559.1,342.7L559.2,345.4L559.4,348.2L559.6,351.3L559.7,354.3L559.9,357.3L560.1,360.2L560.2,362.9L560.4,365.4L560.5,367.8L560.7,370.1L560.9,372.4L561.0,374.6L561.2,376.8L561.3,379.0L561.4,381.3L561.4,383.6L561.4,385.9L561.3,388.4L561.2,391.0L561.1,393.6L560.9,396.3L560.7,399.1L560.5,401.9L560.3,404.7L560.2,407.6L560.0,410.4L559.8,413.3L559.7,416.3L559.5,419.4L559.4,422.5L559.2,425.5L559.0,428.4L558.9,431.1L558.8,433.5L558.7,435.5L558.6,437.2M564.4,336.0L564.5,337.6L564.6,339.6L564.8,342.0L564.9,344.7L565.1,347.6L565.2,350.6L565.4,353.6L565.5,356.6L565.7,359.6L565.8,362.3L565.9,365.0L566.1,367.5L566.2,370.0L566.4,372.4L566.5,374.8L566.6,377.1L566.7,379.5L566.8,381.8L566.8,384.2L566.8,386.7L566.8,389.2L566.7,391.8L566.6,394.6L566.4,397.3L566.3,400.2L566.1,403.0L565.9,405.9L565.7,408.8L565.6,411.7L565.5,414.6L565.3,417.6L565.2,420.7L565.0,423.8L564.9,426.7L564.8,429.6L564.6,432.2L564.5,434.6L564.4,436.6L564.4,438.3M569.8,335.4L569.8,337.1L569.9,339.1L570.1,341.5L570.2,344.1L570.3,346.9L570.5,349.9L570.6,352.9L570.7,356.0L570.9,359.0L571.0,361.8L571.1,364.5L571.2,367.2L571.4,369.8L571.5,372.4L571.6,374.9L571.7,377.4L571.8,379.9L571.9,382.3L571.9,384.8L571.9,387.3L571.8,390.0L571.8,392.7L571.7,395.5L571.5,398.3L571.4,401.2L571.2,404.1L571.1,407.1L570.9,410.0L570.8,413.0L570.7,415.9L570.6,418.9L570.4,422.0L570.3,425.0L570.2,427.9L570.1,430.7L570.0,433.3L569.9,435.6L569.8,437.6L569.7,439.2M575.5,334.9L575.6,336.5L575.7,338.5L575.8,340.9L575.9,343.5L576.0,346.3L576.1,349.2L576.2,352.2L576.3,355.3L576.5,358.3L576.6,361.3L576.7,364.1L576.8,366.9L576.9,369.7L577.0,372.4L577.1,375.0L577.2,377.7L577.3,380.3L577.3,382.9L577.4,385.5L577.3,388.1L577.3,390.7L577.2,393.5L577.1,396.4L577.0,399.3L576.9,402.3L576.8,405.3L576.7,408.3L576.5,411.3L576.4,414.2L576.3,417.2L576.2,420.3L576.1,423.3L576.0,426.3L575.9,429.2L575.8,431.9L575.7,434.4L575.6,436.7L575.5,438.7L575.5,440.3M581.5,334.3L581.6,335.9L581.7,337.9L581.7,340.2L581.8,342.8L581.9,345.6L582.0,348.5L582.1,351.5L582.2,354.6L582.3,357.7L582.4,360.7L582.5,363.7L582.6,366.6L582.7,369.5L582.8,372.4L582.9,375.2L582.9,378.0L583.0,380.7L583.0,383.4L583.1,386.1L583.1,388.8L583.0,391.5L583.0,394.4L582.9,397.3L582.8,400.3L582.7,403.4L582.6,406.4L582.5,409.5L582.4,412.5L582.3,415.6L582.2,418.6L582.1,421.6L582.0,424.7L581.9,427.6L581.8,430.5L581.7,433.1L581.6,435.6L581.6,437.9L581.5,439.8L581.5,441.4M587.4,333.7L587.5,335.4L587.5,337.3L587.6,339.6L587.7,342.2L587.7,344.9L587.8,347.8L587.9,350.8L588.0,353.9L588.1,357.0L588.1,360.1L588.2,363.2L588.3,366.3L588.4,369.3L588.4,372.3L588.5,375.3L588.6,378.3L588.6,381.2L588.6,384.0L588.6,386.8L588.6,389.5L588.6,392.3L588.6,395.3L588.5,398.3L588.4,401.3L588.3,404.4L588.3,407.6L588.2,410.7L588.1,413.8L588.0,416.9L587.9,419.9L587.8,423.0L587.8,426.0L587.7,428.9L587.6,431.7L587.5,434.4L587.5,436.8L587.4,439.0L587.4,440.9L587.3,442.5M592.8,333.2L592.9,334.8L592.9,336.8L593.0,339.1L593.0,341.6L593.1,344.3L593.1,347.1L593.2,350.2L593.2,353.3L593.3,356.4L593.4,359.6L593.4,362.8L593.5,366.0L593.5,369.2L593.6,372.3L593.6,375.5L593.7,378.5L593.7,381.6L593.7,384.5L593.7,387.4L593.7,390.2L593.7,393.1L593.7,396.1L593.6,399.2L593.6,402.3L593.5,405.5L593.4,408.6L593.4,411.8L593.3,415.0L593.2,418.1L593.2,421.2L593.1,424.3L593.0,427.3L593.0,430.2L592.9,432.9L592.9,435.5L592.8,437.9L592.8,440.1L592.7,441.9L592.7,443.5M597.4,332.7L597.4,334.4L597.4,336.3L597.5,338.5L597.5,341.0L597.5,343.7L597.6,346.5L597.6,349.5L597.7,352.6L597.7,355.8L597.7,359.1L597.8,362.4L597.8,365.7L597.8,369.0L597.9,372.3L597.9,375.6L597.9,378.8L598.0,382.0L598.0,385.0L598.0,388.0L598.0,390.9L598.0,393.8L597.9,396.9L597.9,400.0L597.9,403.2L597.8,406.4L597.8,409.7L597.7,412.9L597.7,416.1L597.6,419.3L597.6,422.4L597.5,425.5L597.5,428.4L597.4,431.3L597.4,434.0L597.3,436.5L597.3,438.8L597.2,441.0L597.2,442.8L597.2,444.4M600.7,332.4L600.7,334.0L600.7,335.9L600.7,338.1L600.8,340.5L600.8,343.2L600.8,346.0L600.8,348.9L600.8,352.1L600.9,355.3L600.9,358.6L600.9,362.0L600.9,365.4L600.9,368.9L601.0,372.3L601.0,375.7L601.0,379.1L601.0,382.3L601.0,385.5L601.0,388.5L601.0,391.5L601.0,394.5L601.0,397.6L601.0,400.8L600.9,404.0L600.9,407.3L600.9,410.6L600.8,413.8L600.8,417.1L600.8,420.3L600.7,423.4L600.7,426.5L600.7,429.4L600.6,432.2L600.6,434.9L600.6,437.3L600.6,439.6L600.5,441.6L600.5,443.4L600.5,445.0" fill="none" stroke="#22ecf2" stroke-width="1.6" stroke-linejoin="round"/><path d="M567.8,346.0L573.8,348.2L577.5,348.7L598.6,376.3L590.7,411.8L583.6,421.0L567.8,422.4L552.0,413.2L548.0,404.0L542.8,381.6L555.4,351.3L559.9,350.5ZM567.8,346.0L568.5,429.0" fill="none" stroke="#1e1ed6" stroke-width="1.8" stroke-linejoin="round"/><circle cx="567.8" cy="346.0" r="1.3" fill="#1e1ed6"/><circle cx="573.8" cy="348.2" r="1.3" fill="#1e1ed6"/><circle cx="577.5" cy="348.7" r="1.3" fill="#1e1ed6"/><circle cx="598.6" cy="376.3" r="1.3" fill="#1e1ed6"/><circle cx="590.7" cy="411.8" r="1.3" fill="#1e1ed6"/><circle cx="583.6" cy="421.0" r="1.3" fill="#1e1ed6"/><circle cx="567.8" cy="422.4" r="1.3" fill="#1e1ed6"/><circle cx="552.0" cy="413.2" r="1.3" fill="#1e1ed6"/><circle cx="548.0" cy="404.0" r="1.3" fill="#1e1ed6"/><circle cx="542.8" cy="381.6" r="1.3" fill="#1e1ed6"/><circle cx="555.4" cy="351.3" r="1.3" fill="#1e1ed6"/><circle cx="559.9" cy="350.5" r="1.3" fill="#1e1ed6"/><circle cx="568.5" cy="429.0" r="1.3" fill="#1e1ed6"/><path d="M612.1,332.4L613.1,332.5L614.2,332.6L615.4,332.7L616.8,332.9L618.3,333.0L620.0,333.2L621.7,333.3L623.5,333.5L625.4,333.7L627.3,333.9L629.3,334.1L631.3,334.3L633.3,334.5L635.3,334.7L637.3,334.9L639.2,335.1L641.2,335.3L643.0,335.4L644.8,335.6L646.6,335.8L648.4,336.0L650.2,336.1L652.1,336.3L654.1,336.5L656.1,336.7L658.1,336.9L660.0,337.1L662.0,337.3L664.0,337.5L665.9,337.7L667.7,337.9L669.5,338.1L671.2,338.2L672.8,338.4L674.3,338.5L675.7,338.7L677.0,338.8L678.1,338.9L679.0,339.0M612.1,338.7L613.0,338.8L614.1,339.0L615.3,339.1L616.7,339.3L618.2,339.5L619.8,339.7L621.5,339.8L623.3,340.0L625.2,340.2L627.1,340.4L629.1,340.6L631.0,340.9L633.0,341.1L635.0,341.3L637.0,341.5L639.0,341.7L640.9,341.9L642.7,342.1L644.5,342.3L646.2,342.5L648.0,342.7L649.9,342.9L651.8,343.1L653.7,343.3L655.7,343.5L657.6,343.7L659.6,343.9L661.6,344.1L663.5,344.3L665.4,344.6L667.3,344.8L669.0,344.9L670.7,345.1L672.3,345.3L673.8,345.5L675.2,345.7L676.4,345.8L677.5,346.0L678.4,346.1M612.0,347.4L612.9,347.6L614.0,347.8L615.2,348.0L616.6,348.2L618.1,348.4L619.6,348.6L621.3,348.9L623.1,349.1L624.9,349.3L626.8,349.5L628.8,349.8L630.7,350.0L632.7,350.2L634.7,350.5L636.6,350.7L638.6,351.0L640.4,351.2L642.3,351.4L644.0,351.6L645.8,351.9L647.5,352.1L649.3,352.3L651.2,352.6L653.1,352.8L655.1,353.0L657.0,353.3L659.0,353.5L661.0,353.7L662.9,354.0L664.7,354.2L666.6,354.4L668.3,354.6L670.0,354.9L671.6,355.1L673.0,355.3L674.4,355.5L675.6,355.7L676.7,355.9L677.6,356.1M611.9,357.8L612.8,357.9L613.9,358.1L615.1,358.3L616.4,358.4L617.9,358.6L619.5,358.8L621.1,359.0L622.9,359.2L624.7,359.4L626.6,359.6L628.5,359.8L630.4,359.9L632.4,360.1L634.3,360.3L636.3,360.5L638.2,360.7L640.0,360.9L641.9,361.1L643.6,361.3L645.3,361.5L647.0,361.7L648.8,361.9L650.7,362.0L652.6,362.2L654.5,362.4L656.5,362.6L658.4,362.8L660.4,363.0L662.3,363.2L664.1,363.4L665.9,363.6L667.7,363.8L669.3,364.0L670.9,364.1L672.3,364.3L673.7,364.5L674.9,364.7L675.9,364.8L676.8,365.0M611.9,368.9L612.7,368.9L613.8,369.0L615.0,369.0L616.3,369.1L617.7,369.1L619.3,369.2L620.9,369.2L622.7,369.3L624.4,369.3L626.3,369.4L628.2,369.4L630.1,369.5L632.0,369.6L634.0,369.6L635.9,369.7L637.8,369.7L639.6,369.8L641.4,369.8L643.2,369.9L644.8,369.9L646.6,370.0L648.4,370.0L650.2,370.1L652.1,370.1L654.0,370.2L655.9,370.3L657.8,370.3L659.8,370.4L661.6,370.4L663.5,370.5L665.3,370.5L667.0,370.6L668.6,370.6L670.2,370.7L671.6,370.7L672.9,370.8L674.1,370.8L675.1,370.9L676.0,370.9M611.8,379.9L612.7,379.8L613.7,379.7L614.9,379.6L616.2,379.5L617.6,379.4L619.1,379.3L620.7,379.2L622.5,379.1L624.2,379.0L626.1,378.9L627.9,378.8L629.8,378.7L631.8,378.6L633.7,378.4L635.6,378.3L637.4,378.2L639.3,378.1L641.1,378.0L642.8,377.9L644.4,377.8L646.1,377.7L647.9,377.6L649.7,377.5L651.6,377.4L653.5,377.3L655.4,377.2L657.3,377.0L659.2,376.9L661.1,376.8L662.9,376.7L664.7,376.6L666.4,376.5L668.0,376.4L669.5,376.3L671.0,376.2L672.2,376.1L673.4,376.0L674.4,375.9L675.3,375.8M611.8,390.0L612.7,389.8L613.7,389.6L614.8,389.4L616.1,389.2L617.5,389.0L619.1,388.8L620.7,388.6L622.4,388.4L624.2,388.1L626.0,387.9L627.8,387.7L629.7,387.5L631.6,387.2L633.5,387.0L635.4,386.8L637.3,386.5L639.1,386.3L640.9,386.1L642.6,385.9L644.2,385.6L646.0,385.4L647.7,385.2L649.5,385.0L651.4,384.7L653.3,384.5L655.2,384.3L657.1,384.0L659.0,383.8L660.9,383.6L662.7,383.4L664.4,383.1L666.1,382.9L667.8,382.7L669.3,382.5L670.7,382.3L672.0,382.1L673.1,381.9L674.1,381.7L675.0,381.5M611.8,400.0L612.7,399.7L613.7,399.5L614.9,399.2L616.2,398.9L617.6,398.7L619.2,398.4L620.8,398.1L622.5,397.8L624.3,397.5L626.1,397.2L628.0,396.9L629.9,396.6L631.8,396.3L633.7,396.0L635.6,395.7L637.5,395.4L639.3,395.1L641.1,394.8L642.8,394.5L644.5,394.2L646.2,393.9L648.0,393.6L649.8,393.3L651.7,393.0L653.6,392.7L655.5,392.3L657.4,392.0L659.3,391.7L661.2,391.4L663.0,391.1L664.8,390.8L666.5,390.5L668.2,390.2L669.7,390.0L671.1,389.7L672.4,389.4L673.6,389.2L674.6,388.9L675.5,388.7M611.9,410.6L612.8,410.3L613.8,410.0L615.0,409.7L616.4,409.3L617.8,409.0L619.4,408.6L621.0,408.3L622.8,407.9L624.5,407.6L626.4,407.2L628.3,406.8L630.2,406.4L632.2,406.0L634.1,405.6L636.0,405.3L637.9,404.9L639.8,404.5L641.6,404.1L643.3,403.8L645.0,403.4L646.7,403.0L648.5,402.7L650.4,402.3L652.3,401.9L654.2,401.5L656.1,401.1L658.1,400.8L660.0,400.4L661.9,400.0L663.8,399.6L665.6,399.3L667.3,398.9L668.9,398.5L670.5,398.2L672.0,397.8L673.3,397.5L674.5,397.2L675.5,396.9L676.4,396.6M612.0,421.1L612.9,420.8L614.0,420.4L615.2,420.1L616.5,419.7L618.0,419.3L619.6,418.9L621.3,418.5L623.0,418.1L624.8,417.6L626.7,417.2L628.6,416.8L630.6,416.3L632.5,415.9L634.5,415.4L636.4,415.0L638.3,414.5L640.2,414.1L642.0,413.7L643.8,413.3L645.5,412.8L647.2,412.4L649.1,412.0L650.9,411.6L652.9,411.1L654.8,410.7L656.8,410.2L658.7,409.8L660.7,409.3L662.6,408.9L664.5,408.5L666.3,408.0L668.0,407.6L669.7,407.2L671.3,406.8L672.8,406.4L674.1,406.0L675.3,405.7L676.4,405.3L677.3,405.0M612.1,430.8L613.1,430.5L614.1,430.2L615.4,429.9L616.7,429.5L618.2,429.1L619.8,428.7L621.5,428.3L623.3,427.9L625.1,427.5L627.0,427.0L628.9,426.6L630.9,426.1L632.8,425.7L634.8,425.2L636.8,424.8L638.7,424.4L640.6,423.9L642.4,423.5L644.2,423.1L645.9,422.7L647.7,422.2L649.5,421.8L651.4,421.4L653.4,420.9L655.3,420.5L657.3,420.0L659.3,419.6L661.3,419.1L663.2,418.7L665.1,418.3L666.9,417.8L668.7,417.4L670.4,417.0L672.0,416.6L673.5,416.2L674.9,415.9L676.1,415.5L677.2,415.2L678.1,414.9M612.2,439.0L613.2,438.8L614.3,438.6L615.5,438.3L616.9,438.0L618.4,437.7L620.0,437.3L621.7,437.0L623.5,436.6L625.3,436.2L627.2,435.8L629.2,435.4L631.2,435.0L633.1,434.6L635.1,434.2L637.1,433.8L639.1,433.4L641.0,433.1L642.8,432.7L644.6,432.3L646.3,432.0L648.1,431.6L650.0,431.2L651.9,430.8L653.9,430.4L655.8,430.0L657.8,429.6L659.8,429.2L661.8,428.8L663.8,428.4L665.7,428.0L667.6,427.7L669.3,427.3L671.1,426.9L672.7,426.6L674.2,426.3L675.6,426.0L676.8,425.7L677.9,425.5L678.9,425.2M612.3,445.0L613.3,444.8L614.3,444.6L615.6,444.4L617.0,444.1L618.5,443.8L620.1,443.5L621.8,443.2L623.6,442.9L625.5,442.5L627.4,442.2L629.4,441.8L631.3,441.4L633.3,441.1L635.3,440.7L637.3,440.3L639.3,440.0L641.2,439.6L643.1,439.2L644.9,438.9L646.6,438.6L648.4,438.3L650.3,437.9L652.2,437.5L654.2,437.2L656.2,436.8L658.2,436.4L660.2,436.1L662.2,435.7L664.2,435.3L666.1,435.0L668.0,434.6L669.8,434.3L671.5,434.0L673.2,433.7L674.7,433.4L676.1,433.1L677.3,432.9L678.4,432.7L679.4,432.5M612.1,332.4L612.1,334.0L612.1,335.9L612.1,338.1L612.0,340.5L612.0,343.2L612.0,346.0L612.0,348.9L612.0,352.1L611.9,355.3L611.9,358.6L611.9,362.0L611.9,365.4L611.9,368.9L611.8,372.3L611.8,375.7L611.8,379.1L611.8,382.3L611.8,385.5L611.8,388.5L611.8,391.5L611.8,394.5L611.8,397.6L611.8,400.8L611.9,404.0L611.9,407.3L611.9,410.6L612.0,413.8L612.0,417.1L612.0,420.3L612.1,423.4L612.1,426.5L612.1,429.4L612.2,432.2L612.2,434.9L612.2,437.3L612.2,439.6L612.3,441.6L612.3,443.4L612.3,445.0M615.4,332.7L615.4,334.4L615.4,336.3L615.3,338.5L615.3,341.0L615.3,343.7L615.2,346.5L615.2,349.5L615.1,352.6L615.1,355.8L615.1,359.1L615.0,362.4L615.0,365.7L615.0,369.0L614.9,372.3L614.9,375.6L614.9,378.8L614.8,382.0L614.8,385.0L614.8,388.0L614.8,390.9L614.8,393.8L614.9,396.9L614.9,400.0L614.9,403.2L615.0,406.4L615.0,409.7L615.1,412.9L615.1,416.1L615.2,419.3L615.2,422.4L615.3,425.5L615.3,428.4L615.4,431.3L615.4,434.0L615.5,436.5L615.5,438.8L615.6,441.0L615.6,442.8L615.6,444.4M620.0,333.2L619.9,334.8L619.9,336.8L619.8,339.1L619.8,341.6L619.7,344.3L619.7,347.1L619.6,350.2L619.6,353.3L619.5,356.4L619.4,359.6L619.4,362.8L619.3,366.0L619.3,369.2L619.2,372.3L619.2,375.5L619.1,378.5L619.1,381.6L619.1,384.5L619.1,387.4L619.1,390.2L619.1,393.1L619.1,396.1L619.2,399.2L619.2,402.3L619.3,405.5L619.4,408.6L619.4,411.8L619.5,415.0L619.6,418.1L619.6,421.2L619.7,424.3L619.8,427.3L619.8,430.2L619.9,432.9L619.9,435.5L620.0,437.9L620.0,440.1L620.1,441.9L620.1,443.5M625.4,333.7L625.3,335.4L625.3,337.3L625.2,339.6L625.1,342.2L625.1,344.9L625.0,347.8L624.9,350.8L624.8,353.9L624.7,357.0L624.7,360.1L624.6,363.2L624.5,366.3L624.4,369.3L624.4,372.3L624.3,375.3L624.2,378.3L624.2,381.2L624.2,384.0L624.2,386.8L624.2,389.5L624.2,392.3L624.2,395.3L624.3,398.3L624.4,401.3L624.5,404.4L624.5,407.6L624.6,410.7L624.7,413.8L624.8,416.9L624.9,419.9L625.0,423.0L625.0,426.0L625.1,428.9L625.2,431.7L625.3,434.4L625.3,436.8L625.4,439.0L625.4,440.9L625.5,442.5M631.3,334.3L631.2,335.9L631.1,337.9L631.1,340.2L631.0,342.8L630.9,345.6L630.8,348.5L630.7,351.5L630.6,354.6L630.5,357.7L630.4,360.7L630.3,363.7L630.2,366.6L630.1,369.5L630.0,372.4L629.9,375.2L629.9,378.0L629.8,380.7L629.8,383.4L629.7,386.1L629.7,388.8L629.8,391.5L629.8,394.4L629.9,397.3L630.0,400.3L630.1,403.4L630.2,406.4L630.3,409.5L630.4,412.5L630.5,415.6L630.6,418.6L630.7,421.6L630.8,424.7L630.9,427.6L631.0,430.5L631.1,433.1L631.2,435.6L631.2,437.9L631.3,439.8L631.3,441.4M637.3,334.9L637.2,336.5L637.1,338.5L637.0,340.9L636.9,343.5L636.8,346.3L636.7,349.2L636.6,352.2L636.5,355.3L636.3,358.3L636.2,361.3L636.1,364.1L636.0,366.9L635.9,369.7L635.8,372.4L635.7,375.0L635.6,377.7L635.5,380.3L635.5,382.9L635.4,385.5L635.5,388.1L635.5,390.7L635.6,393.5L635.7,396.4L635.8,399.3L635.9,402.3L636.0,405.3L636.1,408.3L636.3,411.3L636.4,414.2L636.5,417.2L636.6,420.3L636.7,423.3L636.8,426.3L636.9,429.2L637.0,431.9L637.1,434.4L637.2,436.7L637.3,438.7L637.3,440.3M643.0,335.4L643.0,337.1L642.9,339.1L642.7,341.5L642.6,344.1L642.5,346.9L642.3,349.9L642.2,352.9L642.1,356.0L641.9,359.0L641.8,361.8L641.7,364.5L641.6,367.2L641.4,369.8L641.3,372.4L641.2,374.9L641.1,377.4L641.0,379.9L640.9,382.3L640.9,384.8L640.9,387.3L641.0,390.0L641.0,392.7L641.1,395.5L641.3,398.3L641.4,401.2L641.6,404.1L641.7,407.1L641.9,410.0L642.0,413.0L642.1,415.9L642.2,418.9L642.4,422.0L642.5,425.0L642.6,427.9L642.7,430.7L642.8,433.3L642.9,435.6L643.0,437.6L643.1,439.2M648.4,336.0L648.3,337.6L648.2,339.6L648.0,342.0L647.9,344.7L647.7,347.6L647.6,350.6L647.4,353.6L647.3,356.6L647.1,359.6L647.0,362.3L646.9,365.0L646.7,367.5L646.6,370.0L646.4,372.4L646.3,374.8L646.2,377.1L646.1,379.5L646.0,381.8L646.0,384.2L646.0,386.7L646.0,389.2L646.1,391.8L646.2,394.6L646.4,397.3L646.5,400.2L646.7,403.0L646.9,405.9L647.1,408.8L647.2,411.7L647.3,414.6L647.5,417.6L647.6,420.7L647.8,423.8L647.9,426.7L648.0,429.6L648.2,432.2L648.3,434.6L648.4,436.6L648.4,438.3M654.1,336.5L654.0,338.2L653.9,340.2L653.7,342.7L653.6,345.4L653.4,348.2L653.2,351.3L653.1,354.3L652.9,357.3L652.7,360.2L652.6,362.9L652.4,365.4L652.3,367.8L652.1,370.1L651.9,372.4L651.8,374.6L651.6,376.8L651.5,379.0L651.4,381.3L651.4,383.6L651.4,385.9L651.5,388.4L651.6,391.0L651.7,393.6L651.9,396.3L652.1,399.1L652.3,401.9L652.5,404.7L652.6,407.6L652.8,410.4L653.0,413.3L653.1,416.3L653.3,419.4L653.4,422.5L653.6,425.5L653.8,428.4L653.9,431.1L654.0,433.5L654.1,435.5L654.2,437.2M660.0,337.1L659.9,338.7L659.8,340.8L659.7,343.3L659.5,346.0L659.3,348.9L659.1,352.0L658.9,355.0L658.7,358.0L658.5,360.8L658.4,363.4L658.2,365.8L658.0,368.1L657.8,370.3L657.7,372.4L657.5,374.5L657.3,376.5L657.2,378.6L657.1,380.7L657.1,382.9L657.1,385.2L657.2,387.6L657.3,390.1L657.5,392.7L657.7,395.3L657.9,398.0L658.1,400.8L658.3,403.5L658.5,406.3L658.7,409.1L658.8,411.9L659.0,414.9L659.2,418.0L659.4,421.1L659.6,424.2L659.7,427.1L659.9,429.9L660.0,432.3L660.1,434.4L660.2,436.1M665.9,337.7L665.8,339.3L665.6,341.4L665.5,343.9L665.3,346.7L665.1,349.6L664.9,352.7L664.6,355.7L664.4,358.7L664.2,361.5L664.1,364.0L663.9,366.3L663.7,368.4L663.5,370.5L663.3,372.4L663.1,374.3L662.9,376.2L662.8,378.2L662.7,380.2L662.7,382.3L662.7,384.5L662.8,386.8L662.9,389.2L663.1,391.8L663.3,394.3L663.5,397.0L663.8,399.6L664.0,402.3L664.2,405.0L664.4,407.8L664.6,410.6L664.8,413.6L665.0,416.7L665.2,419.8L665.4,422.9L665.6,425.9L665.7,428.7L665.9,431.2L666.0,433.3L666.1,435.0M671.2,338.2L671.1,339.8L670.9,342.0L670.8,344.5L670.6,347.3L670.3,350.3L670.1,353.3L669.9,356.4L669.7,359.3L669.5,362.1L669.3,364.5L669.1,366.7L668.9,368.7L668.6,370.6L668.4,372.4L668.2,374.2L668.0,376.0L667.9,377.8L667.8,379.6L667.8,381.6L667.8,383.8L667.9,386.1L668.0,388.4L668.2,390.9L668.4,393.4L668.7,395.9L668.9,398.5L669.2,401.2L669.5,403.8L669.7,406.5L669.9,409.3L670.1,412.3L670.3,415.4L670.5,418.6L670.7,421.8L670.9,424.8L671.1,427.6L671.3,430.2L671.4,432.3L671.5,434.0M675.7,338.7L675.6,340.3L675.4,342.4L675.2,345.0L675.0,347.8L674.8,350.8L674.5,354.0L674.3,357.0L674.0,360.0L673.8,362.7L673.6,365.0L673.4,367.1L673.2,369.0L672.9,370.8L672.7,372.5L672.5,374.1L672.3,375.7L672.1,377.4L672.0,379.1L672.0,381.0L672.0,383.1L672.1,385.3L672.3,387.6L672.5,390.0L672.7,392.5L673.0,395.0L673.3,397.5L673.6,400.1L673.8,402.7L674.1,405.4L674.3,408.1L674.5,411.1L674.7,414.2L675.0,417.5L675.2,420.7L675.4,423.8L675.6,426.7L675.8,429.3L676.0,431.4L676.1,433.1M679.0,339.0L678.9,340.6L678.7,342.8L678.5,345.4L678.2,348.3L678.0,351.4L677.7,354.5L677.5,357.6L677.2,360.6L677.0,363.2L676.7,365.5L676.5,367.5L676.3,369.3L676.0,370.9L675.8,372.5L675.5,374.0L675.3,375.5L675.2,377.0L675.0,378.7L675.0,380.5L675.0,382.5L675.1,384.7L675.3,386.9L675.5,389.3L675.8,391.6L676.1,394.1L676.4,396.6L676.7,399.2L677.0,401.7L677.2,404.3L677.5,407.1L677.7,410.1L678.0,413.3L678.2,416.5L678.5,419.8L678.7,423.0L678.9,425.9L679.1,428.6L679.3,430.8L679.4,432.5" fill="none" stroke="#22ecf2" stroke-width="1.6" stroke-linejoin="round"/><path d="M645.0,346.0L639.0,348.2L635.3,348.7L614.2,376.3L622.1,411.8L629.2,421.0L645.0,422.4L660.8,413.2L664.8,404.0L670.0,381.6L657.4,351.3L652.9,350.5ZM645.0,346.0L644.3,429.0" fill="none" stroke="#1e1ed6" stroke-width="1.8" stroke-linejoin="round"/><circle cx="645.0" cy="346.0" r="1.3" fill="#1e1ed6"/><circle cx="639.0" cy="348.2" r="1.3" fill="#1e1ed6"/><circle cx="635.3" cy="348.7" r="1.3" fill="#1e1ed6"/><circle cx="614.2" cy="376.3" r="1.3" fill="#1e1ed6"/><circle cx="622.1" cy="411.8" r="1.3" fill="#1e1ed6"/><circle cx="629.2" cy="421.0" r="1.3" fill="#1e1ed6"/><circle cx="645.0" cy="422.4" r="1.3" fill="#1e1ed6"/><circle cx="660.8" cy="413.2" r="1.3" fill="#1e1ed6"/><circle cx="664.8" cy="404.0" r="1.3" fill="#1e1ed6"/><circle cx="670.0" cy="381.6" r="1.3" fill="#1e1ed6"/><circle cx="657.4" cy="351.3" r="1.3" fill="#1e1ed6"/><circle cx="652.9" cy="350.5" r="1.3" fill="#1e1ed6"/><circle cx="644.3" cy="429.0" r="1.3" fill="#1e1ed6"/><text transform="translate(81.60,471.80) scale(0.875,1)" font-size="16.5" text-anchor="middle" fill="#262626">- PC1 +</text><text transform="translate(260.70,473.30) scale(0.875,1)" font-size="16.5" text-anchor="middle" fill="#262626">- PC2 +</text><text transform="translate(444.20,472.10) scale(0.875,1)" font-size="16.5" text-anchor="middle" fill="#262626">- PC1 +</text><text transform="translate(606.00,473.30) scale(0.875,1)" font-size="16.5" text-anchor="middle" fill="#262626">- PC2 +</text></svg>
</body></html>
